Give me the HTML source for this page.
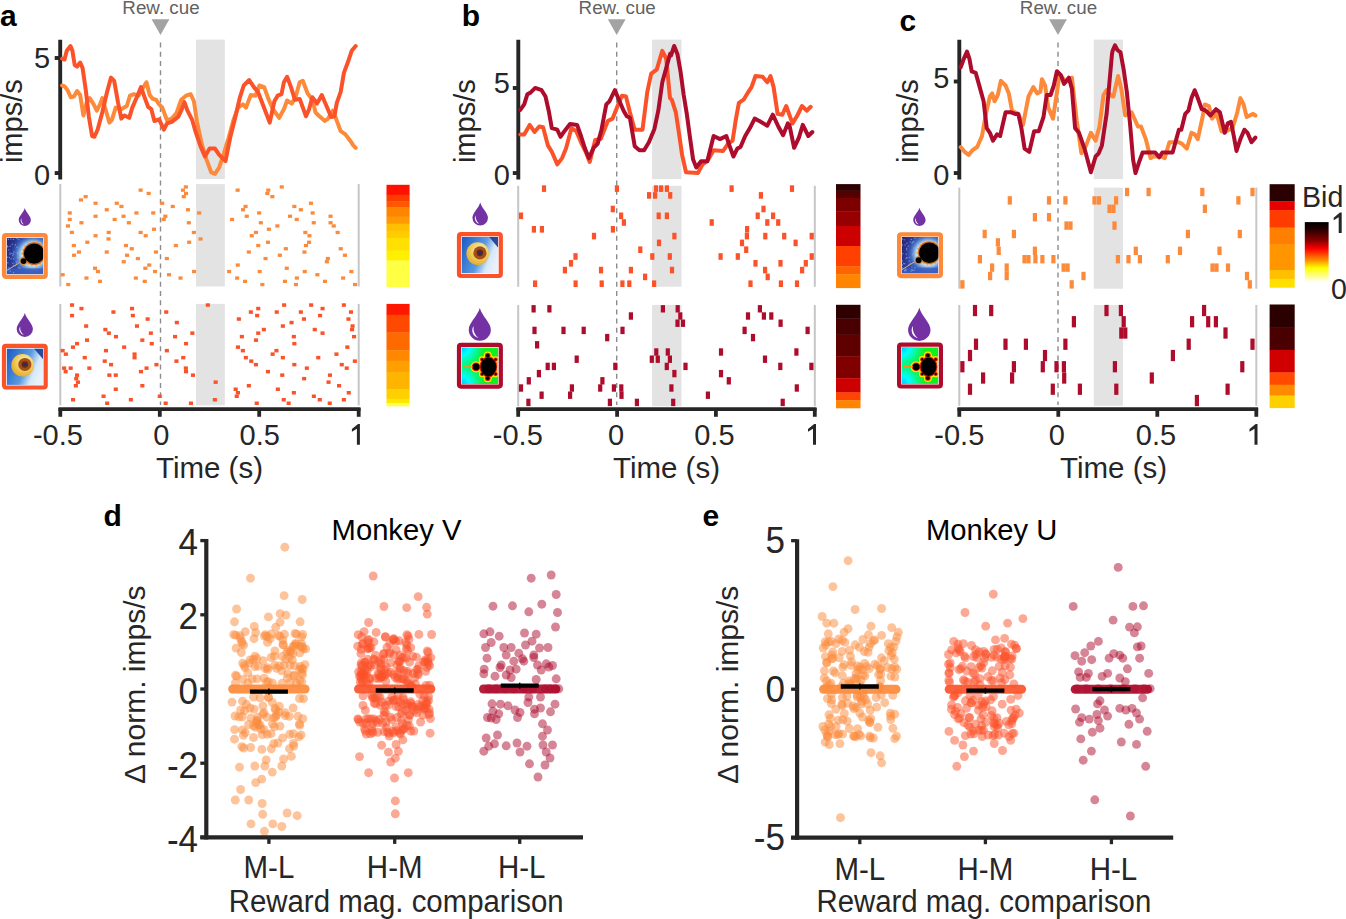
<!DOCTYPE html>
<html><head><meta charset="utf-8"><style>html,body{margin:0;padding:0;background:#fff;width:1346px;height:919px;overflow:hidden}svg{display:block}</style></head>
<body>
<svg width="1346" height="919" viewBox="0 0 1346 919" font-family='"Liberation Sans", sans-serif'>
<rect width="1346" height="919" fill="#fff"/>
<rect x="196.0" y="39.6" width="28.85" height="139.50" fill="#e3e3e3"/>
<rect x="196.0" y="184.1" width="28.85" height="102.40" fill="#e3e3e3"/>
<rect x="196.0" y="303.9" width="28.85" height="101.50" fill="#e3e3e3"/>
<line x1="160.5" y1="42.6" x2="160.5" y2="405" stroke="#8c8c8c" stroke-width="1.4" stroke-dasharray="5,4.2"/>
<line x1="60.3" y1="184.1" x2="60.3" y2="286.5" stroke="#c6c6c6" stroke-width="2"/>
<line x1="358.7" y1="184.1" x2="358.7" y2="286.5" stroke="#c6c6c6" stroke-width="2"/>
<line x1="60.3" y1="303.9" x2="60.3" y2="405.4" stroke="#c6c6c6" stroke-width="2"/>
<line x1="358.7" y1="303.9" x2="358.7" y2="405.4" stroke="#c6c6c6" stroke-width="2"/>
<line x1="60.2" y1="39.8" x2="60.2" y2="179.5" stroke="#262626" stroke-width="3.9"/>
<line x1="54.7" y1="173.05" x2="60.2" y2="173.05" stroke="#262626" stroke-width="3.9"/>
<line x1="54.7" y1="58.0" x2="60.2" y2="58.0" stroke="#262626" stroke-width="3.9"/>
<text x="50.2" y="184.6" font-size="29" text-anchor="end" font-weight="normal" fill="#262626" >0</text>
<text x="50.2" y="68.3" font-size="29" text-anchor="end" font-weight="normal" fill="#262626" >5</text>
<text x="0" y="0" font-size="29" text-anchor="middle" fill="#262626" transform="translate(22.2,121.2) rotate(-90)">imps/s</text>
<line x1="58.5" y1="409.1" x2="360.5" y2="409.1" stroke="#262626" stroke-width="3.8"/>
<line x1="60.3" y1="408" x2="60.3" y2="416.8" stroke="#262626" stroke-width="3.8"/>
<text x="57.9" y="444.8" font-size="29" text-anchor="middle" font-weight="normal" fill="#262626" >-0.5</text>
<line x1="159.8" y1="408" x2="159.8" y2="416.8" stroke="#262626" stroke-width="3.8"/>
<text x="161.2" y="444.8" font-size="29" text-anchor="middle" font-weight="normal" fill="#262626" >0</text>
<line x1="259.2" y1="408" x2="259.2" y2="416.8" stroke="#262626" stroke-width="3.8"/>
<text x="259.7" y="444.8" font-size="29" text-anchor="middle" font-weight="normal" fill="#262626" >0.5</text>
<line x1="358.7" y1="408" x2="358.7" y2="416.8" stroke="#262626" stroke-width="3.8"/>
<path d="M359.9,423.9 L359.9,444.8 L356.9,444.8 L356.9,428.7 L351.9,431.7 L351.9,429.1 L358.1,423.9 Z" fill="#262626"/>
<text x="209.5" y="477.8" font-size="29.5" text-anchor="middle" font-weight="normal" fill="#262626" >Time (s)</text>
<text x="161.0" y="14.3" font-size="18.8" text-anchor="middle" font-weight="normal" fill="#626262" >Rew. cue</text>
<path d="M151.6,19.3 L169.4,19.3 L160.5,35.0 Z" fill="#a3a3a3"/>
<rect x="652.1" y="39.6" width="29.40" height="139.50" fill="#e3e3e3"/>
<rect x="652.1" y="185.8" width="29.40" height="100.95" fill="#e3e3e3"/>
<rect x="652.1" y="305.0" width="29.40" height="101.30" fill="#e3e3e3"/>
<line x1="616.7" y1="42.6" x2="616.7" y2="405" stroke="#8c8c8c" stroke-width="1.4" stroke-dasharray="5,4.2"/>
<line x1="518.2" y1="185.8" x2="518.2" y2="286.75" stroke="#c6c6c6" stroke-width="2"/>
<line x1="814.8" y1="185.8" x2="814.8" y2="286.75" stroke="#c6c6c6" stroke-width="2"/>
<line x1="518.2" y1="305.0" x2="518.2" y2="406.3" stroke="#c6c6c6" stroke-width="2"/>
<line x1="814.8" y1="305.0" x2="814.8" y2="406.3" stroke="#c6c6c6" stroke-width="2"/>
<line x1="518.3" y1="39.8" x2="518.3" y2="179.5" stroke="#262626" stroke-width="3.9"/>
<line x1="512.8" y1="173.05" x2="518.3" y2="173.05" stroke="#262626" stroke-width="3.9"/>
<line x1="512.8" y1="88.0" x2="518.3" y2="88.0" stroke="#262626" stroke-width="3.9"/>
<text x="509.8" y="184.6" font-size="29" text-anchor="end" font-weight="normal" fill="#262626" >0</text>
<text x="509.8" y="92.5" font-size="29" text-anchor="end" font-weight="normal" fill="#262626" >5</text>
<text x="0" y="0" font-size="29" text-anchor="middle" fill="#262626" transform="translate(475.1,121.2) rotate(-90)">imps/s</text>
<line x1="516.4" y1="409.1" x2="816.5" y2="409.1" stroke="#262626" stroke-width="3.8"/>
<line x1="518.2" y1="408" x2="518.2" y2="416.8" stroke="#262626" stroke-width="3.8"/>
<text x="517.8" y="444.8" font-size="29" text-anchor="middle" font-weight="normal" fill="#262626" >-0.5</text>
<line x1="617.1" y1="408" x2="617.1" y2="416.8" stroke="#262626" stroke-width="3.8"/>
<text x="616.1" y="444.8" font-size="29" text-anchor="middle" font-weight="normal" fill="#262626" >0</text>
<line x1="715.9" y1="408" x2="715.9" y2="416.8" stroke="#262626" stroke-width="3.8"/>
<text x="714.4" y="444.8" font-size="29" text-anchor="middle" font-weight="normal" fill="#262626" >0.5</text>
<line x1="814.8" y1="408" x2="814.8" y2="416.8" stroke="#262626" stroke-width="3.8"/>
<path d="M816.0,423.9 L816.0,444.8 L813.0,444.8 L813.0,428.7 L808.0,431.7 L808.0,429.1 L814.2,423.9 Z" fill="#262626"/>
<text x="666.5" y="477.8" font-size="29.5" text-anchor="middle" font-weight="normal" fill="#262626" >Time (s)</text>
<text x="617.2" y="14.3" font-size="18.8" text-anchor="middle" font-weight="normal" fill="#626262" >Rew. cue</text>
<path d="M607.8,19.3 L625.6,19.3 L616.7,35.0 Z" fill="#a3a3a3"/>
<rect x="1093.8" y="39.6" width="29.10" height="139.50" fill="#e3e3e3"/>
<rect x="1093.8" y="187.6" width="29.10" height="101.10" fill="#e3e3e3"/>
<rect x="1093.8" y="305.0" width="29.10" height="100.80" fill="#e3e3e3"/>
<line x1="1058.0" y1="42.6" x2="1058.0" y2="405" stroke="#8c8c8c" stroke-width="1.4" stroke-dasharray="5,4.2"/>
<line x1="959.3" y1="187.6" x2="959.3" y2="288.7" stroke="#c6c6c6" stroke-width="2"/>
<line x1="1256.3" y1="187.6" x2="1256.3" y2="288.7" stroke="#c6c6c6" stroke-width="2"/>
<line x1="959.3" y1="305.0" x2="959.3" y2="405.8" stroke="#c6c6c6" stroke-width="2"/>
<line x1="1256.3" y1="305.0" x2="1256.3" y2="405.8" stroke="#c6c6c6" stroke-width="2"/>
<line x1="959.3" y1="39.8" x2="959.3" y2="179.5" stroke="#262626" stroke-width="3.9"/>
<line x1="953.8" y1="173.05" x2="959.3" y2="173.05" stroke="#262626" stroke-width="3.9"/>
<line x1="953.8" y1="81.5" x2="959.3" y2="81.5" stroke="#262626" stroke-width="3.9"/>
<text x="949.3" y="184.6" font-size="29" text-anchor="end" font-weight="normal" fill="#262626" >0</text>
<text x="949.3" y="88.3" font-size="29" text-anchor="end" font-weight="normal" fill="#262626" >5</text>
<text x="0" y="0" font-size="29" text-anchor="middle" fill="#262626" transform="translate(918.1,121.2) rotate(-90)">imps/s</text>
<line x1="957.5" y1="409.1" x2="1258.1" y2="409.1" stroke="#262626" stroke-width="3.8"/>
<line x1="959.3" y1="408" x2="959.3" y2="416.8" stroke="#262626" stroke-width="3.8"/>
<text x="959.3" y="444.8" font-size="29" text-anchor="middle" font-weight="normal" fill="#262626" >-0.5</text>
<line x1="1058.3" y1="408" x2="1058.3" y2="416.8" stroke="#262626" stroke-width="3.8"/>
<text x="1056.8" y="444.8" font-size="29" text-anchor="middle" font-weight="normal" fill="#262626" >0</text>
<line x1="1157.3" y1="408" x2="1157.3" y2="416.8" stroke="#262626" stroke-width="3.8"/>
<text x="1156.0" y="444.8" font-size="29" text-anchor="middle" font-weight="normal" fill="#262626" >0.5</text>
<line x1="1256.3" y1="408" x2="1256.3" y2="416.8" stroke="#262626" stroke-width="3.8"/>
<path d="M1257.5,423.9 L1257.5,444.8 L1254.5,444.8 L1254.5,428.7 L1249.5,431.7 L1249.5,429.1 L1255.7,423.9 Z" fill="#262626"/>
<text x="1113.6" y="477.8" font-size="29.5" text-anchor="middle" font-weight="normal" fill="#262626" >Time (s)</text>
<text x="1058.5" y="14.3" font-size="18.8" text-anchor="middle" font-weight="normal" fill="#626262" >Rew. cue</text>
<path d="M1049.1,19.3 L1066.9,19.3 L1058.0,35.0 Z" fill="#a3a3a3"/>
<text x="-0.1" y="26.3" font-size="30" text-anchor="start" font-weight="bold" fill="#000" >a</text>
<text x="461.7" y="26.3" font-size="30" text-anchor="start" font-weight="bold" fill="#000" >b</text>
<text x="899.5" y="31.1" font-size="30" text-anchor="start" font-weight="bold" fill="#000" >c</text>
<polyline points="62.1,85.5 64.5,86.3 67.6,90.2 70.8,97.3 73.9,96.5 77.1,91.0 80.2,95.0 83.4,115.5 86.6,102.8 89.7,98.1 93.7,104.4 96.8,110.7 100.0,104.4 102.3,98.1 105.5,109.2 109.4,122.6 111.8,120.2 115.7,107.6 121.3,109.2 126.8,106.0 130.0,95.7 133.9,94.2 138.6,95.7 143.4,87.1 146.5,82.3 149.7,95.0 152.8,98.9 156.0,99.7 159.1,104.4 162.3,107.6 167.0,120.2 171.8,118.6 176.5,113.1 181.2,99.7 186.0,95.7 190.7,94.2 193.9,101.3 197.0,121.8 201.7,143.9 206.5,159.6 211.2,172.3 215.0,173.8 219.2,167.5 223.9,153.3 228.7,137.6 233.4,120.2 238.1,107.6 242.9,104.4 246.0,107.6 250.8,95.0 255.5,95.7 259.4,85.5 264.2,87.1 268.1,98.1 272.9,109.2 279.2,117.8 283.9,109.2 287.1,100.5 291.8,103.6 295.7,96.5 299.7,82.3 302.8,80.8 307.6,93.4 312.3,99.7 315.5,112.3 318.6,115.5 324.9,121.0 328.1,118.6 332.8,110.7 336.0,118.6 340.7,131.2 345.4,134.4 350.2,140.7 353.3,145.4 355.7,147.8" fill="none" stroke="#fc8a3a" stroke-width="4.0" stroke-linejoin="round" stroke-linecap="round"/>
<polyline points="62.1,58.7 64.5,59.5 66.8,50.8 70.5,46.0 72.4,50.8 74.7,65.0 77.1,66.6 80.2,62.6 82.6,68.1 85.8,90.2 88.9,117.0 92.1,136.0 94.4,136.8 97.6,129.7 102.3,112.3 107.1,91.8 111.0,77.6 114.2,80.8 118.1,102.8 121.3,118.6 124.4,115.5 129.2,117.8 132.3,107.6 137.1,96.5 141.0,87.1 144.9,98.1 148.1,106.8 151.3,109.2 154.4,121.0 159.1,119.4 163.9,129.7 167.0,123.4 171.8,121.8 178.1,117.0 181.2,110.7 184.4,102.1 187.5,110.7 192.3,120.2 195.4,131.2 200.2,145.4 204.9,156.5 209.6,148.6 215.0,148.6 219.2,154.9 225.5,161.2 230.2,137.6 235.0,118.6 239.7,98.1 243.7,85.5 249.2,80.0 253.9,87.1 257.9,91.8 263.4,106.0 269.7,122.6 274.4,101.3 277.6,95.7 281.5,94.2 283.9,82.3 287.1,76.8 291.0,87.1 294.9,99.7 299.7,98.9 306.0,116.3 309.1,109.2 312.3,97.3 315.5,101.3 317.0,103.6 321.8,95.0 326.5,106.0 331.2,117.0 334.4,116.3 336.8,102.8 340.7,91.8 343.9,72.9 348.6,60.2 351.7,50.8 355.7,46.0" fill="none" stroke="#fb5229" stroke-width="4.0" stroke-linejoin="round" stroke-linecap="round"/>
<polyline points="520.3,134.4 524.2,134.4 529.7,124.9 534.5,132.0 539.2,126.5 543.1,127.3 547.9,145.4 551.8,151.8 557.3,164.4 562.1,158.1 566.0,148.6 571.5,128.1 576.3,131.2 581.0,142.3 585.7,151.8 589.7,162.0 595.2,139.9 600.7,139.1 607.8,121.0 612.6,118.6 618.9,102.8 622.0,95.7 626.0,96.5 629.9,112.3 634.7,129.7 642.5,129.7 647.3,91.8 651.2,73.7 656.7,69.7 662.3,50.8 666.2,58.7 670.0,98.1 671.8,99.7 675.8,112.3 678.9,132.8 682.1,154.9 686.0,172.3 697.9,173.1 702.6,164.4 707.3,161.2 713.6,150.2 723.1,151.0 727.9,143.9 732.6,140.7 735.7,120.2 738.9,102.8 743.6,99.7 748.4,91.8 751.5,87.1 755.5,76.0 762.6,76.8 767.3,82.3 770.5,76.0 773.6,87.1 777.6,113.9 782.3,114.7 786.2,106.0 792.5,123.4 797.3,115.5 802.0,106.0 806.7,110.7 810.7,106.8" fill="none" stroke="#fb5229" stroke-width="4.0" stroke-linejoin="round" stroke-linecap="round"/>
<polyline points="520.3,109.9 524.2,104.4 527.4,94.2 530.5,92.6 535.2,87.9 541.6,90.2 545.5,96.5 548.7,110.7 551.8,128.1 557.3,129.7 560.5,136.8 564.4,131.2 570.0,124.1 577.1,124.9 581.0,136.0 585.0,148.6 588.9,158.1 593.6,147.8 597.6,143.9 601.5,129.7 606.3,104.4 609.4,101.3 614.9,90.2 618.9,99.7 623.6,110.7 626.8,116.3 629.9,117.8 634.7,146.2 639.4,150.2 644.1,150.2 648.9,142.3 654.4,128.9 658.3,110.7 662.3,82.3 666.2,68.1 670.0,53.9 671.0,55.5 674.2,46.0 677.4,53.9 680.5,71.3 683.7,95.0 686.8,113.9 690.0,137.6 693.1,159.6 696.3,167.5 701.0,161.2 707.3,161.2 713.6,136.0 720.0,139.1 726.3,136.0 729.4,145.4 733.4,156.5 737.3,148.6 740.5,147.0 745.2,136.0 749.9,128.1 754.7,118.6 759.4,121.0 767.3,125.7 772.8,114.7 778.3,126.5 783.1,135.2 787.8,123.4 789.4,124.9 794.1,147.8 798.9,137.6 802.8,124.9 808.3,136.0 812.3,132.0" fill="none" stroke="#ad0c2d" stroke-width="4.0" stroke-linejoin="round" stroke-linecap="round"/>
<polyline points="960.7,147.0 964.6,151.8 968.6,154.9 972.5,150.2 977.2,147.0 982.0,136.0 985.9,113.9 989.9,96.5 992.2,93.4 994.6,101.3 997.8,95.0 1000.9,80.8 1005.6,85.5 1008.8,93.4 1012.0,110.7 1018.3,113.9 1023.0,124.9 1028.5,96.5 1033.3,87.1 1037.2,93.4 1040.4,91.8 1041.9,79.2 1045.1,85.5 1048.3,107.6 1053.0,118.6 1056.1,98.1 1059.3,76.0 1062.5,77.6 1065.6,82.3 1071.9,77.6 1076.7,120.2 1081.4,153.3 1086.1,145.4 1090.9,132.8 1095.6,140.7 1099.5,126.5 1103.5,95.0 1106.6,90.2 1112.0,96.5 1113.4,96.5 1118.1,76.0 1121.3,88.6 1125.2,115.5 1131.6,112.3 1137.9,126.5 1141.0,126.5 1145.8,139.1 1150.5,158.1 1153.6,156.5 1161.5,156.5 1164.7,158.1 1169.4,142.3 1178.9,142.3 1182.1,143.9 1186.8,148.6 1191.5,132.8 1194.7,134.4 1197.8,139.1 1202.6,117.0 1204.9,104.4 1208.9,106.0 1212.0,118.6 1216.8,113.9 1221.5,131.2 1224.7,132.0 1232.5,128.1 1237.3,112.3 1240.4,98.1 1243.6,104.4 1246.7,117.0 1253.1,113.9 1255.4,115.5" fill="none" stroke="#fc8a3a" stroke-width="4.0" stroke-linejoin="round" stroke-linecap="round"/>
<polyline points="960.7,67.3 963.8,58.7 967.0,51.6 969.4,58.7 971.7,71.3 975.7,72.9 978.8,83.9 983.6,101.3 986.7,128.1 989.9,132.8 993.0,140.7 997.0,134.4 1000.1,136.0 1005.6,112.3 1011.2,112.3 1015.1,113.9 1018.3,113.9 1021.4,128.1 1024.6,148.6 1029.3,151.8 1034.1,131.2 1038.8,131.2 1043.5,117.0 1046.7,95.0 1050.6,95.0 1053.8,85.5 1056.9,71.3 1060.9,75.2 1064.0,83.9 1068.8,77.6 1071.9,88.6 1075.1,128.1 1079.0,132.8 1084.5,148.6 1090.9,172.3 1095.6,156.5 1098.7,153.3 1101.9,145.4 1106.6,113.9 1112.0,53.9 1112.6,50.8 1115.0,45.3 1117.4,50.0 1120.5,52.4 1123.7,69.7 1126.8,91.8 1130.0,123.4 1133.1,159.6 1135.5,173.1 1139.4,161.2 1142.6,152.5 1155.2,152.5 1159.2,157.3 1162.3,152.5 1172.6,152.5 1178.9,129.7 1181.3,129.7 1185.2,113.9 1188.4,110.7 1191.5,98.1 1194.7,90.2 1197.8,98.1 1201.8,109.2 1205.7,110.7 1210.5,115.5 1216.0,109.2 1219.9,112.3 1224.7,132.8 1227.8,123.4 1231.0,121.8 1234.1,137.6 1236.5,151.0 1240.4,139.1 1244.4,129.7 1247.5,132.8 1251.5,142.3 1255.4,137.6" fill="none" stroke="#ad0c2d" stroke-width="4.0" stroke-linejoin="round" stroke-linecap="round"/>
<rect x="83.6" y="195.0" width="4.1" height="3.3" fill="#fc8a3a"/>
<rect x="78.9" y="198.3" width="4.1" height="3.3" fill="#fc8a3a"/>
<rect x="93.5" y="201.6" width="4.1" height="3.3" fill="#fc8a3a"/>
<rect x="114.7" y="201.6" width="4.1" height="3.3" fill="#fc8a3a"/>
<rect x="119.4" y="204.8" width="4.1" height="3.3" fill="#fc8a3a"/>
<rect x="104.7" y="208.1" width="4.1" height="3.3" fill="#fc8a3a"/>
<rect x="67.7" y="211.3" width="4.1" height="3.3" fill="#fc8a3a"/>
<rect x="134.4" y="211.3" width="4.1" height="3.3" fill="#fc8a3a"/>
<rect x="93.5" y="214.6" width="4.1" height="3.3" fill="#fc8a3a"/>
<rect x="121.5" y="214.6" width="4.1" height="3.3" fill="#fc8a3a"/>
<rect x="67.7" y="217.8" width="4.1" height="3.3" fill="#fc8a3a"/>
<rect x="112.6" y="217.8" width="4.1" height="3.3" fill="#fc8a3a"/>
<rect x="79.4" y="221.1" width="4.1" height="3.3" fill="#fc8a3a"/>
<rect x="126.8" y="221.1" width="4.1" height="3.3" fill="#fc8a3a"/>
<rect x="65.9" y="224.3" width="4.1" height="3.3" fill="#fc8a3a"/>
<rect x="69.8" y="230.8" width="4.1" height="3.3" fill="#fc8a3a"/>
<rect x="106.7" y="230.8" width="4.1" height="3.3" fill="#fc8a3a"/>
<rect x="93.5" y="234.1" width="4.1" height="3.3" fill="#fc8a3a"/>
<rect x="106.5" y="237.3" width="4.1" height="3.3" fill="#fc8a3a"/>
<rect x="85.3" y="240.6" width="4.1" height="3.3" fill="#fc8a3a"/>
<rect x="71.8" y="243.9" width="4.1" height="3.3" fill="#fc8a3a"/>
<rect x="123.9" y="243.9" width="4.1" height="3.3" fill="#fc8a3a"/>
<rect x="129.7" y="247.1" width="4.1" height="3.3" fill="#fc8a3a"/>
<rect x="76.9" y="250.4" width="4.1" height="3.3" fill="#fc8a3a"/>
<rect x="104.7" y="250.4" width="4.1" height="3.3" fill="#fc8a3a"/>
<rect x="72.0" y="253.6" width="4.1" height="3.3" fill="#fc8a3a"/>
<rect x="125.0" y="253.6" width="4.1" height="3.3" fill="#fc8a3a"/>
<rect x="121.7" y="260.1" width="4.1" height="3.3" fill="#fc8a3a"/>
<rect x="135.8" y="256.9" width="4.1" height="3.3" fill="#fc8a3a"/>
<rect x="93.0" y="266.6" width="4.1" height="3.3" fill="#fc8a3a"/>
<rect x="95.9" y="269.9" width="4.1" height="3.3" fill="#fc8a3a"/>
<rect x="60.6" y="273.1" width="4.1" height="3.3" fill="#fc8a3a"/>
<rect x="84.4" y="276.4" width="4.1" height="3.3" fill="#fc8a3a"/>
<rect x="133.8" y="276.4" width="4.1" height="3.3" fill="#fc8a3a"/>
<rect x="97.9" y="279.7" width="4.1" height="3.3" fill="#fc8a3a"/>
<rect x="66.2" y="282.9" width="4.1" height="3.3" fill="#fc8a3a"/>
<rect x="183.8" y="185.3" width="4.1" height="3.3" fill="#fc8a3a"/>
<rect x="138.6" y="188.5" width="4.1" height="3.3" fill="#fc8a3a"/>
<rect x="180.9" y="188.5" width="4.1" height="3.3" fill="#fc8a3a"/>
<rect x="146.6" y="191.8" width="4.1" height="3.3" fill="#fc8a3a"/>
<rect x="184.0" y="191.8" width="4.1" height="3.3" fill="#fc8a3a"/>
<rect x="181.7" y="195.0" width="4.1" height="3.3" fill="#fc8a3a"/>
<rect x="160.1" y="201.6" width="4.1" height="3.3" fill="#fc8a3a"/>
<rect x="170.7" y="204.8" width="4.1" height="3.3" fill="#fc8a3a"/>
<rect x="185.9" y="208.1" width="4.1" height="3.3" fill="#fc8a3a"/>
<rect x="151.2" y="211.3" width="4.1" height="3.3" fill="#fc8a3a"/>
<rect x="197.1" y="211.3" width="4.1" height="3.3" fill="#fc8a3a"/>
<rect x="163.3" y="214.6" width="4.1" height="3.3" fill="#fc8a3a"/>
<rect x="161.7" y="217.8" width="4.1" height="3.3" fill="#fc8a3a"/>
<rect x="186.8" y="221.1" width="4.1" height="3.3" fill="#fc8a3a"/>
<rect x="151.9" y="227.6" width="4.1" height="3.3" fill="#fc8a3a"/>
<rect x="138.6" y="230.8" width="4.1" height="3.3" fill="#fc8a3a"/>
<rect x="191.8" y="230.8" width="4.1" height="3.3" fill="#fc8a3a"/>
<rect x="143.6" y="234.1" width="4.1" height="3.3" fill="#fc8a3a"/>
<rect x="198.5" y="237.3" width="4.1" height="3.3" fill="#fc8a3a"/>
<rect x="187.1" y="240.6" width="4.1" height="3.3" fill="#fc8a3a"/>
<rect x="173.8" y="243.9" width="4.1" height="3.3" fill="#fc8a3a"/>
<rect x="153.9" y="250.4" width="4.1" height="3.3" fill="#fc8a3a"/>
<rect x="164.8" y="256.9" width="4.1" height="3.3" fill="#fc8a3a"/>
<rect x="147.2" y="263.4" width="4.1" height="3.3" fill="#fc8a3a"/>
<rect x="143.3" y="266.6" width="4.1" height="3.3" fill="#fc8a3a"/>
<rect x="153.0" y="269.9" width="4.1" height="3.3" fill="#fc8a3a"/>
<rect x="192.0" y="269.9" width="4.1" height="3.3" fill="#fc8a3a"/>
<rect x="167.0" y="273.1" width="4.1" height="3.3" fill="#fc8a3a"/>
<rect x="178.5" y="276.4" width="4.1" height="3.3" fill="#fc8a3a"/>
<rect x="142.7" y="279.7" width="4.1" height="3.3" fill="#fc8a3a"/>
<rect x="279.7" y="185.3" width="4.1" height="3.3" fill="#fc8a3a"/>
<rect x="235.6" y="188.5" width="4.1" height="3.3" fill="#fc8a3a"/>
<rect x="266.2" y="188.5" width="4.1" height="3.3" fill="#fc8a3a"/>
<rect x="265.3" y="191.8" width="4.1" height="3.3" fill="#fc8a3a"/>
<rect x="270.3" y="195.0" width="4.1" height="3.3" fill="#fc8a3a"/>
<rect x="243.5" y="204.8" width="4.1" height="3.3" fill="#fc8a3a"/>
<rect x="241.0" y="208.1" width="4.1" height="3.3" fill="#fc8a3a"/>
<rect x="257.1" y="211.3" width="4.1" height="3.3" fill="#fc8a3a"/>
<rect x="244.7" y="214.6" width="4.1" height="3.3" fill="#fc8a3a"/>
<rect x="230.0" y="217.8" width="4.1" height="3.3" fill="#fc8a3a"/>
<rect x="258.8" y="221.1" width="4.1" height="3.3" fill="#fc8a3a"/>
<rect x="275.3" y="224.3" width="4.1" height="3.3" fill="#fc8a3a"/>
<rect x="266.8" y="227.6" width="4.1" height="3.3" fill="#fc8a3a"/>
<rect x="253.9" y="230.8" width="4.1" height="3.3" fill="#fc8a3a"/>
<rect x="249.7" y="234.1" width="4.1" height="3.3" fill="#fc8a3a"/>
<rect x="265.9" y="240.6" width="4.1" height="3.3" fill="#fc8a3a"/>
<rect x="256.2" y="243.9" width="4.1" height="3.3" fill="#fc8a3a"/>
<rect x="283.8" y="247.1" width="4.1" height="3.3" fill="#fc8a3a"/>
<rect x="246.8" y="250.4" width="4.1" height="3.3" fill="#fc8a3a"/>
<rect x="277.8" y="253.6" width="4.1" height="3.3" fill="#fc8a3a"/>
<rect x="263.5" y="256.9" width="4.1" height="3.3" fill="#fc8a3a"/>
<rect x="235.7" y="263.4" width="4.1" height="3.3" fill="#fc8a3a"/>
<rect x="284.7" y="266.6" width="4.1" height="3.3" fill="#fc8a3a"/>
<rect x="227.1" y="269.9" width="4.1" height="3.3" fill="#fc8a3a"/>
<rect x="257.6" y="269.9" width="4.1" height="3.3" fill="#fc8a3a"/>
<rect x="235.1" y="276.4" width="4.1" height="3.3" fill="#fc8a3a"/>
<rect x="243.0" y="279.7" width="4.1" height="3.3" fill="#fc8a3a"/>
<rect x="282.9" y="279.7" width="4.1" height="3.3" fill="#fc8a3a"/>
<rect x="260.3" y="282.9" width="4.1" height="3.3" fill="#fc8a3a"/>
<rect x="308.9" y="201.6" width="4.1" height="3.3" fill="#fc8a3a"/>
<rect x="292.3" y="204.8" width="4.1" height="3.3" fill="#fc8a3a"/>
<rect x="298.8" y="208.1" width="4.1" height="3.3" fill="#fc8a3a"/>
<rect x="310.6" y="211.3" width="4.1" height="3.3" fill="#fc8a3a"/>
<rect x="288.0" y="214.6" width="4.1" height="3.3" fill="#fc8a3a"/>
<rect x="328.5" y="214.6" width="4.1" height="3.3" fill="#fc8a3a"/>
<rect x="294.7" y="217.8" width="4.1" height="3.3" fill="#fc8a3a"/>
<rect x="311.7" y="221.1" width="4.1" height="3.3" fill="#fc8a3a"/>
<rect x="328.5" y="221.1" width="4.1" height="3.3" fill="#fc8a3a"/>
<rect x="331.7" y="224.3" width="4.1" height="3.3" fill="#fc8a3a"/>
<rect x="303.3" y="230.8" width="4.1" height="3.3" fill="#fc8a3a"/>
<rect x="335.6" y="230.8" width="4.1" height="3.3" fill="#fc8a3a"/>
<rect x="307.4" y="234.1" width="4.1" height="3.3" fill="#fc8a3a"/>
<rect x="307.0" y="240.6" width="4.1" height="3.3" fill="#fc8a3a"/>
<rect x="303.9" y="243.9" width="4.1" height="3.3" fill="#fc8a3a"/>
<rect x="338.7" y="247.1" width="4.1" height="3.3" fill="#fc8a3a"/>
<rect x="302.4" y="250.4" width="4.1" height="3.3" fill="#fc8a3a"/>
<rect x="342.9" y="253.6" width="4.1" height="3.3" fill="#fc8a3a"/>
<rect x="325.8" y="256.9" width="4.1" height="3.3" fill="#fc8a3a"/>
<rect x="324.8" y="260.1" width="4.1" height="3.3" fill="#fc8a3a"/>
<rect x="302.7" y="269.9" width="4.1" height="3.3" fill="#fc8a3a"/>
<rect x="349.3" y="269.9" width="4.1" height="3.3" fill="#fc8a3a"/>
<rect x="315.3" y="273.1" width="4.1" height="3.3" fill="#fc8a3a"/>
<rect x="294.8" y="276.4" width="4.1" height="3.3" fill="#fc8a3a"/>
<rect x="341.1" y="276.4" width="4.1" height="3.3" fill="#fc8a3a"/>
<rect x="322.9" y="279.7" width="4.1" height="3.3" fill="#fc8a3a"/>
<rect x="293.9" y="282.9" width="4.1" height="3.3" fill="#fc8a3a"/>
<rect x="353.0" y="282.9" width="4.1" height="3.3" fill="#fc8a3a"/>
<rect x="70.0" y="303.3" width="4.1" height="3.5" fill="#fb5229"/>
<rect x="79.4" y="306.8" width="4.1" height="3.5" fill="#fb5229"/>
<rect x="130.0" y="306.8" width="4.1" height="3.5" fill="#fb5229"/>
<rect x="111.4" y="310.3" width="4.1" height="3.5" fill="#fb5229"/>
<rect x="70.0" y="313.8" width="4.1" height="3.5" fill="#fb5229"/>
<rect x="130.8" y="313.8" width="4.1" height="3.5" fill="#fb5229"/>
<rect x="84.1" y="324.3" width="4.1" height="3.5" fill="#fb5229"/>
<rect x="134.9" y="324.3" width="4.1" height="3.5" fill="#fb5229"/>
<rect x="103.3" y="327.8" width="4.1" height="3.5" fill="#fb5229"/>
<rect x="106.8" y="331.4" width="4.1" height="3.5" fill="#fb5229"/>
<rect x="113.9" y="334.9" width="4.1" height="3.5" fill="#fb5229"/>
<rect x="85.0" y="338.4" width="4.1" height="3.5" fill="#fb5229"/>
<rect x="75.0" y="341.9" width="4.1" height="3.5" fill="#fb5229"/>
<rect x="70.9" y="345.4" width="4.1" height="3.5" fill="#fb5229"/>
<rect x="122.1" y="345.4" width="4.1" height="3.5" fill="#fb5229"/>
<rect x="60.6" y="348.9" width="4.1" height="3.5" fill="#fb5229"/>
<rect x="103.9" y="348.9" width="4.1" height="3.5" fill="#fb5229"/>
<rect x="63.8" y="352.4" width="4.1" height="3.5" fill="#fb5229"/>
<rect x="132.5" y="352.4" width="4.1" height="3.5" fill="#fb5229"/>
<rect x="132.5" y="355.9" width="4.1" height="3.5" fill="#fb5229"/>
<rect x="82.7" y="355.9" width="4.1" height="3.5" fill="#fb5229"/>
<rect x="102.7" y="359.4" width="4.1" height="3.5" fill="#fb5229"/>
<rect x="109.0" y="362.9" width="4.1" height="3.5" fill="#fb5229"/>
<rect x="62.1" y="366.4" width="4.1" height="3.5" fill="#fb5229"/>
<rect x="68.6" y="366.4" width="4.1" height="3.5" fill="#fb5229"/>
<rect x="87.3" y="366.4" width="4.1" height="3.5" fill="#fb5229"/>
<rect x="63.6" y="369.9" width="4.1" height="3.5" fill="#fb5229"/>
<rect x="75.0" y="373.4" width="4.1" height="3.5" fill="#fb5229"/>
<rect x="107.3" y="373.4" width="4.1" height="3.5" fill="#fb5229"/>
<rect x="113.7" y="373.4" width="4.1" height="3.5" fill="#fb5229"/>
<rect x="74.2" y="376.9" width="4.1" height="3.5" fill="#fb5229"/>
<rect x="75.9" y="380.4" width="4.1" height="3.5" fill="#fb5229"/>
<rect x="73.8" y="384.0" width="4.1" height="3.5" fill="#fb5229"/>
<rect x="113.7" y="387.5" width="4.1" height="3.5" fill="#fb5229"/>
<rect x="101.5" y="394.5" width="4.1" height="3.5" fill="#fb5229"/>
<rect x="71.0" y="398.0" width="4.1" height="3.5" fill="#fb5229"/>
<rect x="128.8" y="398.0" width="4.1" height="3.5" fill="#fb5229"/>
<rect x="105.1" y="401.5" width="4.1" height="3.5" fill="#fb5229"/>
<rect x="205.8" y="303.3" width="4.1" height="3.5" fill="#fb5229"/>
<rect x="164.2" y="310.3" width="4.1" height="3.5" fill="#fb5229"/>
<rect x="145.6" y="317.3" width="4.1" height="3.5" fill="#fb5229"/>
<rect x="174.8" y="320.8" width="4.1" height="3.5" fill="#fb5229"/>
<rect x="148.8" y="331.4" width="4.1" height="3.5" fill="#fb5229"/>
<rect x="190.3" y="331.4" width="4.1" height="3.5" fill="#fb5229"/>
<rect x="173.0" y="334.9" width="4.1" height="3.5" fill="#fb5229"/>
<rect x="140.3" y="338.4" width="4.1" height="3.5" fill="#fb5229"/>
<rect x="149.7" y="341.9" width="4.1" height="3.5" fill="#fb5229"/>
<rect x="184.0" y="341.9" width="4.1" height="3.5" fill="#fb5229"/>
<rect x="164.8" y="348.9" width="4.1" height="3.5" fill="#fb5229"/>
<rect x="181.2" y="355.9" width="4.1" height="3.5" fill="#fb5229"/>
<rect x="174.4" y="359.4" width="4.1" height="3.5" fill="#fb5229"/>
<rect x="154.4" y="362.9" width="4.1" height="3.5" fill="#fb5229"/>
<rect x="144.5" y="366.4" width="4.1" height="3.5" fill="#fb5229"/>
<rect x="183.8" y="366.4" width="4.1" height="3.5" fill="#fb5229"/>
<rect x="138.9" y="369.9" width="4.1" height="3.5" fill="#fb5229"/>
<rect x="184.0" y="369.9" width="4.1" height="3.5" fill="#fb5229"/>
<rect x="190.9" y="373.4" width="4.1" height="3.5" fill="#fb5229"/>
<rect x="140.3" y="384.0" width="4.1" height="3.5" fill="#fb5229"/>
<rect x="157.7" y="394.5" width="4.1" height="3.5" fill="#fb5229"/>
<rect x="163.6" y="401.5" width="4.1" height="3.5" fill="#fb5229"/>
<rect x="188.9" y="401.5" width="4.1" height="3.5" fill="#fb5229"/>
<rect x="282.1" y="303.3" width="4.1" height="3.5" fill="#fb5229"/>
<rect x="256.2" y="306.8" width="4.1" height="3.5" fill="#fb5229"/>
<rect x="248.8" y="310.3" width="4.1" height="3.5" fill="#fb5229"/>
<rect x="274.7" y="310.3" width="4.1" height="3.5" fill="#fb5229"/>
<rect x="255.1" y="313.8" width="4.1" height="3.5" fill="#fb5229"/>
<rect x="236.8" y="317.3" width="4.1" height="3.5" fill="#fb5229"/>
<rect x="280.8" y="324.3" width="4.1" height="3.5" fill="#fb5229"/>
<rect x="261.8" y="327.8" width="4.1" height="3.5" fill="#fb5229"/>
<rect x="256.2" y="331.4" width="4.1" height="3.5" fill="#fb5229"/>
<rect x="239.8" y="334.9" width="4.1" height="3.5" fill="#fb5229"/>
<rect x="253.9" y="338.4" width="4.1" height="3.5" fill="#fb5229"/>
<rect x="235.9" y="345.4" width="4.1" height="3.5" fill="#fb5229"/>
<rect x="240.8" y="348.9" width="4.1" height="3.5" fill="#fb5229"/>
<rect x="274.4" y="348.9" width="4.1" height="3.5" fill="#fb5229"/>
<rect x="270.6" y="352.4" width="4.1" height="3.5" fill="#fb5229"/>
<rect x="243.8" y="355.9" width="4.1" height="3.5" fill="#fb5229"/>
<rect x="280.8" y="355.9" width="4.1" height="3.5" fill="#fb5229"/>
<rect x="249.2" y="359.4" width="4.1" height="3.5" fill="#fb5229"/>
<rect x="253.9" y="362.9" width="4.1" height="3.5" fill="#fb5229"/>
<rect x="265.9" y="369.9" width="4.1" height="3.5" fill="#fb5229"/>
<rect x="280.2" y="373.4" width="4.1" height="3.5" fill="#fb5229"/>
<rect x="213.6" y="380.4" width="4.1" height="3.5" fill="#fb5229"/>
<rect x="246.8" y="384.0" width="4.1" height="3.5" fill="#fb5229"/>
<rect x="233.6" y="387.5" width="4.1" height="3.5" fill="#fb5229"/>
<rect x="275.8" y="387.5" width="4.1" height="3.5" fill="#fb5229"/>
<rect x="235.9" y="391.0" width="4.1" height="3.5" fill="#fb5229"/>
<rect x="234.7" y="394.5" width="4.1" height="3.5" fill="#fb5229"/>
<rect x="212.8" y="398.0" width="4.1" height="3.5" fill="#fb5229"/>
<rect x="281.7" y="398.0" width="4.1" height="3.5" fill="#fb5229"/>
<rect x="254.7" y="401.5" width="4.1" height="3.5" fill="#fb5229"/>
<rect x="309.1" y="303.3" width="4.1" height="3.5" fill="#fb5229"/>
<rect x="341.8" y="303.3" width="4.1" height="3.5" fill="#fb5229"/>
<rect x="320.5" y="306.8" width="4.1" height="3.5" fill="#fb5229"/>
<rect x="298.8" y="310.3" width="4.1" height="3.5" fill="#fb5229"/>
<rect x="348.9" y="310.3" width="4.1" height="3.5" fill="#fb5229"/>
<rect x="318.0" y="313.8" width="4.1" height="3.5" fill="#fb5229"/>
<rect x="301.9" y="317.3" width="4.1" height="3.5" fill="#fb5229"/>
<rect x="346.4" y="317.3" width="4.1" height="3.5" fill="#fb5229"/>
<rect x="289.5" y="320.8" width="4.1" height="3.5" fill="#fb5229"/>
<rect x="350.5" y="324.3" width="4.1" height="3.5" fill="#fb5229"/>
<rect x="312.7" y="327.8" width="4.1" height="3.5" fill="#fb5229"/>
<rect x="350.0" y="327.8" width="4.1" height="3.5" fill="#fb5229"/>
<rect x="320.5" y="331.4" width="4.1" height="3.5" fill="#fb5229"/>
<rect x="291.8" y="334.9" width="4.1" height="3.5" fill="#fb5229"/>
<rect x="352.0" y="334.9" width="4.1" height="3.5" fill="#fb5229"/>
<rect x="292.3" y="341.9" width="4.1" height="3.5" fill="#fb5229"/>
<rect x="345.3" y="345.4" width="4.1" height="3.5" fill="#fb5229"/>
<rect x="334.4" y="352.4" width="4.1" height="3.5" fill="#fb5229"/>
<rect x="316.2" y="355.9" width="4.1" height="3.5" fill="#fb5229"/>
<rect x="352.8" y="359.4" width="4.1" height="3.5" fill="#fb5229"/>
<rect x="292.3" y="362.9" width="4.1" height="3.5" fill="#fb5229"/>
<rect x="339.7" y="362.9" width="4.1" height="3.5" fill="#fb5229"/>
<rect x="304.8" y="366.4" width="4.1" height="3.5" fill="#fb5229"/>
<rect x="344.7" y="366.4" width="4.1" height="3.5" fill="#fb5229"/>
<rect x="327.9" y="373.4" width="4.1" height="3.5" fill="#fb5229"/>
<rect x="302.1" y="376.9" width="4.1" height="3.5" fill="#fb5229"/>
<rect x="326.5" y="380.4" width="4.1" height="3.5" fill="#fb5229"/>
<rect x="337.0" y="384.0" width="4.1" height="3.5" fill="#fb5229"/>
<rect x="291.8" y="391.0" width="4.1" height="3.5" fill="#fb5229"/>
<rect x="346.7" y="391.0" width="4.1" height="3.5" fill="#fb5229"/>
<rect x="311.8" y="394.5" width="4.1" height="3.5" fill="#fb5229"/>
<rect x="317.7" y="398.0" width="4.1" height="3.5" fill="#fb5229"/>
<rect x="341.8" y="398.0" width="4.1" height="3.5" fill="#fb5229"/>
<rect x="286.6" y="401.5" width="4.1" height="3.5" fill="#fb5229"/>
<rect x="327.7" y="401.5" width="4.1" height="3.5" fill="#fb5229"/>
<rect x="541.9" y="185.3" width="4.2" height="6.6" fill="#fb5229"/>
<rect x="614.8" y="185.3" width="4.2" height="6.6" fill="#fb5229"/>
<rect x="653.9" y="185.3" width="4.2" height="6.6" fill="#fb5229"/>
<rect x="659.0" y="185.3" width="4.2" height="6.6" fill="#fb5229"/>
<rect x="664.8" y="185.3" width="4.2" height="6.6" fill="#fb5229"/>
<rect x="729.5" y="185.3" width="4.2" height="6.6" fill="#fb5229"/>
<rect x="789.9" y="185.3" width="4.2" height="6.6" fill="#fb5229"/>
<rect x="647.0" y="192.1" width="4.2" height="6.6" fill="#fb5229"/>
<rect x="653.0" y="192.1" width="4.2" height="6.6" fill="#fb5229"/>
<rect x="668.1" y="192.1" width="4.2" height="6.6" fill="#fb5229"/>
<rect x="758.8" y="192.1" width="4.2" height="6.6" fill="#fb5229"/>
<rect x="610.7" y="205.7" width="4.2" height="6.6" fill="#fb5229"/>
<rect x="761.4" y="205.7" width="4.2" height="6.6" fill="#fb5229"/>
<rect x="518.9" y="212.5" width="4.2" height="6.6" fill="#fb5229"/>
<rect x="619.0" y="212.5" width="4.2" height="6.6" fill="#fb5229"/>
<rect x="656.6" y="212.5" width="4.2" height="6.6" fill="#fb5229"/>
<rect x="664.8" y="212.5" width="4.2" height="6.6" fill="#fb5229"/>
<rect x="755.6" y="212.5" width="4.2" height="6.6" fill="#fb5229"/>
<rect x="771.0" y="212.5" width="4.2" height="6.6" fill="#fb5229"/>
<rect x="621.8" y="219.2" width="4.2" height="6.6" fill="#fb5229"/>
<rect x="709.6" y="219.2" width="4.2" height="6.6" fill="#fb5229"/>
<rect x="765.2" y="219.2" width="4.2" height="6.6" fill="#fb5229"/>
<rect x="776.1" y="219.2" width="4.2" height="6.6" fill="#fb5229"/>
<rect x="531.8" y="226.0" width="4.2" height="6.6" fill="#fb5229"/>
<rect x="539.8" y="226.0" width="4.2" height="6.6" fill="#fb5229"/>
<rect x="610.8" y="226.0" width="4.2" height="6.6" fill="#fb5229"/>
<rect x="745.0" y="226.0" width="4.2" height="6.6" fill="#fb5229"/>
<rect x="591.9" y="232.8" width="4.2" height="6.6" fill="#fb5229"/>
<rect x="672.3" y="232.8" width="4.2" height="6.6" fill="#fb5229"/>
<rect x="744.8" y="232.8" width="4.2" height="6.6" fill="#fb5229"/>
<rect x="763.2" y="232.8" width="4.2" height="6.6" fill="#fb5229"/>
<rect x="782.1" y="232.8" width="4.2" height="6.6" fill="#fb5229"/>
<rect x="809.6" y="232.8" width="4.2" height="6.6" fill="#fb5229"/>
<rect x="656.9" y="239.6" width="4.2" height="6.6" fill="#fb5229"/>
<rect x="739.9" y="239.6" width="4.2" height="6.6" fill="#fb5229"/>
<rect x="793.5" y="239.6" width="4.2" height="6.6" fill="#fb5229"/>
<rect x="638.2" y="246.4" width="4.2" height="6.6" fill="#fb5229"/>
<rect x="744.1" y="246.4" width="4.2" height="6.6" fill="#fb5229"/>
<rect x="573.4" y="253.2" width="4.2" height="6.6" fill="#fb5229"/>
<rect x="650.2" y="253.2" width="4.2" height="6.6" fill="#fb5229"/>
<rect x="667.7" y="253.2" width="4.2" height="6.6" fill="#fb5229"/>
<rect x="718.5" y="253.2" width="4.2" height="6.6" fill="#fb5229"/>
<rect x="735.7" y="253.2" width="4.2" height="6.6" fill="#fb5229"/>
<rect x="809.6" y="253.2" width="4.2" height="6.6" fill="#fb5229"/>
<rect x="568.9" y="260.0" width="4.2" height="6.6" fill="#fb5229"/>
<rect x="753.4" y="260.0" width="4.2" height="6.6" fill="#fb5229"/>
<rect x="778.4" y="260.0" width="4.2" height="6.6" fill="#fb5229"/>
<rect x="803.7" y="260.0" width="4.2" height="6.6" fill="#fb5229"/>
<rect x="562.8" y="266.8" width="4.2" height="6.6" fill="#fb5229"/>
<rect x="598.9" y="266.8" width="4.2" height="6.6" fill="#fb5229"/>
<rect x="628.8" y="266.8" width="4.2" height="6.6" fill="#fb5229"/>
<rect x="669.9" y="266.8" width="4.2" height="6.6" fill="#fb5229"/>
<rect x="763.0" y="266.8" width="4.2" height="6.6" fill="#fb5229"/>
<rect x="800.0" y="266.8" width="4.2" height="6.6" fill="#fb5229"/>
<rect x="643.0" y="273.6" width="4.2" height="6.6" fill="#fb5229"/>
<rect x="765.6" y="273.6" width="4.2" height="6.6" fill="#fb5229"/>
<rect x="533.0" y="280.4" width="4.2" height="6.6" fill="#fb5229"/>
<rect x="573.5" y="280.4" width="4.2" height="6.6" fill="#fb5229"/>
<rect x="599.6" y="280.4" width="4.2" height="6.6" fill="#fb5229"/>
<rect x="620.3" y="280.4" width="4.2" height="6.6" fill="#fb5229"/>
<rect x="627.2" y="280.4" width="4.2" height="6.6" fill="#fb5229"/>
<rect x="652.0" y="280.4" width="4.2" height="6.6" fill="#fb5229"/>
<rect x="748.4" y="280.4" width="4.2" height="6.6" fill="#fb5229"/>
<rect x="778.8" y="280.4" width="4.2" height="6.6" fill="#fb5229"/>
<rect x="794.9" y="280.4" width="4.2" height="6.6" fill="#fb5229"/>
<rect x="531.5" y="305.1" width="4.2" height="7.4" fill="#ad0c2d"/>
<rect x="547.3" y="305.1" width="4.2" height="7.4" fill="#ad0c2d"/>
<rect x="660.8" y="305.1" width="4.2" height="7.4" fill="#ad0c2d"/>
<rect x="675.6" y="305.1" width="4.2" height="7.4" fill="#ad0c2d"/>
<rect x="757.8" y="305.1" width="4.2" height="7.4" fill="#ad0c2d"/>
<rect x="628.8" y="312.3" width="4.2" height="7.4" fill="#ad0c2d"/>
<rect x="678.2" y="312.3" width="4.2" height="7.4" fill="#ad0c2d"/>
<rect x="745.9" y="312.3" width="4.2" height="7.4" fill="#ad0c2d"/>
<rect x="761.8" y="312.3" width="4.2" height="7.4" fill="#ad0c2d"/>
<rect x="769.2" y="312.3" width="4.2" height="7.4" fill="#ad0c2d"/>
<rect x="675.4" y="319.5" width="4.2" height="7.4" fill="#ad0c2d"/>
<rect x="680.9" y="319.5" width="4.2" height="7.4" fill="#ad0c2d"/>
<rect x="778.5" y="319.5" width="4.2" height="7.4" fill="#ad0c2d"/>
<rect x="532.4" y="326.7" width="4.2" height="7.4" fill="#ad0c2d"/>
<rect x="561.4" y="326.7" width="4.2" height="7.4" fill="#ad0c2d"/>
<rect x="581.6" y="326.7" width="4.2" height="7.4" fill="#ad0c2d"/>
<rect x="620.4" y="326.7" width="4.2" height="7.4" fill="#ad0c2d"/>
<rect x="742.5" y="326.7" width="4.2" height="7.4" fill="#ad0c2d"/>
<rect x="805.5" y="326.7" width="4.2" height="7.4" fill="#ad0c2d"/>
<rect x="605.1" y="333.9" width="4.2" height="7.4" fill="#ad0c2d"/>
<rect x="750.9" y="333.9" width="4.2" height="7.4" fill="#ad0c2d"/>
<rect x="535.0" y="341.1" width="4.2" height="7.4" fill="#ad0c2d"/>
<rect x="654.2" y="348.3" width="4.2" height="7.4" fill="#ad0c2d"/>
<rect x="665.7" y="348.3" width="4.2" height="7.4" fill="#ad0c2d"/>
<rect x="718.9" y="348.3" width="4.2" height="7.4" fill="#ad0c2d"/>
<rect x="794.3" y="348.3" width="4.2" height="7.4" fill="#ad0c2d"/>
<rect x="574.6" y="355.5" width="4.2" height="7.4" fill="#ad0c2d"/>
<rect x="649.7" y="355.5" width="4.2" height="7.4" fill="#ad0c2d"/>
<rect x="655.7" y="355.5" width="4.2" height="7.4" fill="#ad0c2d"/>
<rect x="667.8" y="355.5" width="4.2" height="7.4" fill="#ad0c2d"/>
<rect x="762.9" y="355.5" width="4.2" height="7.4" fill="#ad0c2d"/>
<rect x="545.6" y="362.7" width="4.2" height="7.4" fill="#ad0c2d"/>
<rect x="551.8" y="362.7" width="4.2" height="7.4" fill="#ad0c2d"/>
<rect x="613.2" y="362.7" width="4.2" height="7.4" fill="#ad0c2d"/>
<rect x="664.7" y="362.7" width="4.2" height="7.4" fill="#ad0c2d"/>
<rect x="683.4" y="362.7" width="4.2" height="7.4" fill="#ad0c2d"/>
<rect x="778.2" y="362.7" width="4.2" height="7.4" fill="#ad0c2d"/>
<rect x="809.3" y="362.7" width="4.2" height="7.4" fill="#ad0c2d"/>
<rect x="536.8" y="369.9" width="4.2" height="7.4" fill="#ad0c2d"/>
<rect x="672.3" y="369.9" width="4.2" height="7.4" fill="#ad0c2d"/>
<rect x="718.9" y="369.9" width="4.2" height="7.4" fill="#ad0c2d"/>
<rect x="526.7" y="377.1" width="4.2" height="7.4" fill="#ad0c2d"/>
<rect x="600.3" y="377.1" width="4.2" height="7.4" fill="#ad0c2d"/>
<rect x="726.7" y="377.1" width="4.2" height="7.4" fill="#ad0c2d"/>
<rect x="518.9" y="384.3" width="4.2" height="7.4" fill="#ad0c2d"/>
<rect x="569.8" y="384.3" width="4.2" height="7.4" fill="#ad0c2d"/>
<rect x="598.1" y="384.3" width="4.2" height="7.4" fill="#ad0c2d"/>
<rect x="611.8" y="384.3" width="4.2" height="7.4" fill="#ad0c2d"/>
<rect x="619.2" y="384.3" width="4.2" height="7.4" fill="#ad0c2d"/>
<rect x="669.3" y="384.3" width="4.2" height="7.4" fill="#ad0c2d"/>
<rect x="794.7" y="384.3" width="4.2" height="7.4" fill="#ad0c2d"/>
<rect x="539.5" y="391.5" width="4.2" height="7.4" fill="#ad0c2d"/>
<rect x="568.0" y="391.5" width="4.2" height="7.4" fill="#ad0c2d"/>
<rect x="619.4" y="391.5" width="4.2" height="7.4" fill="#ad0c2d"/>
<rect x="705.8" y="391.5" width="4.2" height="7.4" fill="#ad0c2d"/>
<rect x="526.3" y="398.7" width="4.2" height="7.4" fill="#ad0c2d"/>
<rect x="607.8" y="398.7" width="4.2" height="7.4" fill="#ad0c2d"/>
<rect x="634.8" y="398.7" width="4.2" height="7.4" fill="#ad0c2d"/>
<rect x="671.1" y="398.7" width="4.2" height="7.4" fill="#ad0c2d"/>
<rect x="780.6" y="398.7" width="4.2" height="7.4" fill="#ad0c2d"/>
<rect x="1125.0" y="187.8" width="4.2" height="8.4" fill="#fc8a3a"/>
<rect x="1146.5" y="187.8" width="4.2" height="8.4" fill="#fc8a3a"/>
<rect x="1200.2" y="187.8" width="4.2" height="8.4" fill="#fc8a3a"/>
<rect x="1250.4" y="187.8" width="4.2" height="8.4" fill="#fc8a3a"/>
<rect x="1007.7" y="196.2" width="4.2" height="8.4" fill="#fc8a3a"/>
<rect x="1046.9" y="196.2" width="4.2" height="8.4" fill="#fc8a3a"/>
<rect x="1063.3" y="196.2" width="4.2" height="8.4" fill="#fc8a3a"/>
<rect x="1092.4" y="196.2" width="4.2" height="8.4" fill="#fc8a3a"/>
<rect x="1096.9" y="196.2" width="4.2" height="8.4" fill="#fc8a3a"/>
<rect x="1114.0" y="196.2" width="4.2" height="8.4" fill="#fc8a3a"/>
<rect x="1236.3" y="196.2" width="4.2" height="8.4" fill="#fc8a3a"/>
<rect x="1107.4" y="204.6" width="4.2" height="8.4" fill="#fc8a3a"/>
<rect x="1111.4" y="204.6" width="4.2" height="8.4" fill="#fc8a3a"/>
<rect x="1202.8" y="204.6" width="4.2" height="8.4" fill="#fc8a3a"/>
<rect x="1032.8" y="213.0" width="4.2" height="8.4" fill="#fc8a3a"/>
<rect x="1046.9" y="213.0" width="4.2" height="8.4" fill="#fc8a3a"/>
<rect x="1064.4" y="221.4" width="4.2" height="8.4" fill="#fc8a3a"/>
<rect x="1068.4" y="221.4" width="4.2" height="8.4" fill="#fc8a3a"/>
<rect x="1112.4" y="221.4" width="4.2" height="8.4" fill="#fc8a3a"/>
<rect x="982.6" y="229.8" width="4.2" height="8.4" fill="#fc8a3a"/>
<rect x="1011.8" y="229.8" width="4.2" height="8.4" fill="#fc8a3a"/>
<rect x="1185.8" y="229.8" width="4.2" height="8.4" fill="#fc8a3a"/>
<rect x="1237.7" y="229.8" width="4.2" height="8.4" fill="#fc8a3a"/>
<rect x="995.8" y="238.2" width="4.2" height="8.4" fill="#fc8a3a"/>
<rect x="996.6" y="246.6" width="4.2" height="8.4" fill="#fc8a3a"/>
<rect x="1032.8" y="246.6" width="4.2" height="8.4" fill="#fc8a3a"/>
<rect x="1133.7" y="246.6" width="4.2" height="8.4" fill="#fc8a3a"/>
<rect x="1177.9" y="246.6" width="4.2" height="8.4" fill="#fc8a3a"/>
<rect x="1217.4" y="246.6" width="4.2" height="8.4" fill="#fc8a3a"/>
<rect x="977.8" y="255.0" width="4.2" height="8.4" fill="#fc8a3a"/>
<rect x="1022.4" y="255.0" width="4.2" height="8.4" fill="#fc8a3a"/>
<rect x="1026.4" y="255.0" width="4.2" height="8.4" fill="#fc8a3a"/>
<rect x="1033.3" y="255.0" width="4.2" height="8.4" fill="#fc8a3a"/>
<rect x="1040.3" y="255.0" width="4.2" height="8.4" fill="#fc8a3a"/>
<rect x="1051.3" y="255.0" width="4.2" height="8.4" fill="#fc8a3a"/>
<rect x="1115.8" y="255.0" width="4.2" height="8.4" fill="#fc8a3a"/>
<rect x="1126.4" y="255.0" width="4.2" height="8.4" fill="#fc8a3a"/>
<rect x="1137.8" y="255.0" width="4.2" height="8.4" fill="#fc8a3a"/>
<rect x="1165.7" y="255.0" width="4.2" height="8.4" fill="#fc8a3a"/>
<rect x="990.0" y="263.4" width="4.2" height="8.4" fill="#fc8a3a"/>
<rect x="1004.6" y="263.4" width="4.2" height="8.4" fill="#fc8a3a"/>
<rect x="1061.5" y="263.4" width="4.2" height="8.4" fill="#fc8a3a"/>
<rect x="1065.5" y="263.4" width="4.2" height="8.4" fill="#fc8a3a"/>
<rect x="1210.4" y="263.4" width="4.2" height="8.4" fill="#fc8a3a"/>
<rect x="1214.4" y="263.4" width="4.2" height="8.4" fill="#fc8a3a"/>
<rect x="1225.9" y="263.4" width="4.2" height="8.4" fill="#fc8a3a"/>
<rect x="988.0" y="271.8" width="4.2" height="8.4" fill="#fc8a3a"/>
<rect x="1004.6" y="271.8" width="4.2" height="8.4" fill="#fc8a3a"/>
<rect x="1081.4" y="271.8" width="4.2" height="8.4" fill="#fc8a3a"/>
<rect x="1244.9" y="271.8" width="4.2" height="8.4" fill="#fc8a3a"/>
<rect x="960.3" y="280.2" width="4.2" height="8.4" fill="#fc8a3a"/>
<rect x="1069.6" y="280.2" width="4.2" height="8.4" fill="#fc8a3a"/>
<rect x="1247.7" y="280.2" width="4.2" height="8.4" fill="#fc8a3a"/>
<rect x="972.9" y="304.9" width="4.2" height="11.25" fill="#ad0c2d"/>
<rect x="989.1" y="304.9" width="4.2" height="11.25" fill="#ad0c2d"/>
<rect x="1104.4" y="304.9" width="4.2" height="11.25" fill="#ad0c2d"/>
<rect x="1118.8" y="304.9" width="4.2" height="11.25" fill="#ad0c2d"/>
<rect x="1202.0" y="304.9" width="4.2" height="11.25" fill="#ad0c2d"/>
<rect x="1071.8" y="316.1" width="4.2" height="11.25" fill="#ad0c2d"/>
<rect x="1121.6" y="316.1" width="4.2" height="11.25" fill="#ad0c2d"/>
<rect x="1190.0" y="316.1" width="4.2" height="11.25" fill="#ad0c2d"/>
<rect x="1206.1" y="316.1" width="4.2" height="11.25" fill="#ad0c2d"/>
<rect x="1213.8" y="316.1" width="4.2" height="11.25" fill="#ad0c2d"/>
<rect x="1119.2" y="327.4" width="4.2" height="11.25" fill="#ad0c2d"/>
<rect x="1123.2" y="327.4" width="4.2" height="11.25" fill="#ad0c2d"/>
<rect x="1223.4" y="327.4" width="4.2" height="11.25" fill="#ad0c2d"/>
<rect x="973.9" y="338.6" width="4.2" height="11.25" fill="#ad0c2d"/>
<rect x="1003.4" y="338.6" width="4.2" height="11.25" fill="#ad0c2d"/>
<rect x="1023.8" y="338.6" width="4.2" height="11.25" fill="#ad0c2d"/>
<rect x="1063.3" y="338.6" width="4.2" height="11.25" fill="#ad0c2d"/>
<rect x="1186.6" y="338.6" width="4.2" height="11.25" fill="#ad0c2d"/>
<rect x="1250.4" y="338.6" width="4.2" height="11.25" fill="#ad0c2d"/>
<rect x="967.9" y="349.9" width="4.2" height="11.25" fill="#ad0c2d"/>
<rect x="1042.9" y="349.9" width="4.2" height="11.25" fill="#ad0c2d"/>
<rect x="1170.8" y="349.9" width="4.2" height="11.25" fill="#ad0c2d"/>
<rect x="960.3" y="361.1" width="4.2" height="11.25" fill="#ad0c2d"/>
<rect x="1011.8" y="361.1" width="4.2" height="11.25" fill="#ad0c2d"/>
<rect x="1040.7" y="361.1" width="4.2" height="11.25" fill="#ad0c2d"/>
<rect x="1054.4" y="361.1" width="4.2" height="11.25" fill="#ad0c2d"/>
<rect x="1061.8" y="361.1" width="4.2" height="11.25" fill="#ad0c2d"/>
<rect x="1112.8" y="361.1" width="4.2" height="11.25" fill="#ad0c2d"/>
<rect x="1240.2" y="361.1" width="4.2" height="11.25" fill="#ad0c2d"/>
<rect x="981.0" y="372.4" width="4.2" height="11.25" fill="#ad0c2d"/>
<rect x="1010.0" y="372.4" width="4.2" height="11.25" fill="#ad0c2d"/>
<rect x="1062.1" y="372.4" width="4.2" height="11.25" fill="#ad0c2d"/>
<rect x="1149.7" y="372.4" width="4.2" height="11.25" fill="#ad0c2d"/>
<rect x="967.9" y="383.6" width="4.2" height="11.25" fill="#ad0c2d"/>
<rect x="1050.7" y="383.6" width="4.2" height="11.25" fill="#ad0c2d"/>
<rect x="1077.8" y="383.6" width="4.2" height="11.25" fill="#ad0c2d"/>
<rect x="1114.2" y="383.6" width="4.2" height="11.25" fill="#ad0c2d"/>
<rect x="1225.5" y="383.6" width="4.2" height="11.25" fill="#ad0c2d"/>
<rect x="1194.8" y="394.9" width="4.2" height="11.25" fill="#ad0c2d"/>
<rect x="386.5" y="184.80" width="23.1" height="10.21" fill="#ff1000"/>
<rect x="386.5" y="194.71" width="23.1" height="6.67" fill="#ff3c00"/>
<rect x="386.5" y="201.08" width="23.1" height="6.67" fill="#ff5800"/>
<rect x="386.5" y="207.44" width="23.1" height="9.50" fill="#ff8400"/>
<rect x="386.5" y="216.64" width="23.1" height="7.38" fill="#ff9a00"/>
<rect x="386.5" y="223.72" width="23.1" height="7.38" fill="#ffbe00"/>
<rect x="386.5" y="230.80" width="23.1" height="7.38" fill="#ffcc00"/>
<rect x="386.5" y="237.87" width="23.1" height="13.04" fill="#ffe000"/>
<rect x="386.5" y="250.61" width="23.1" height="10.21" fill="#fff000"/>
<rect x="386.5" y="260.52" width="23.1" height="26.48" fill="#ffff44"/>
<rect x="386.5" y="303.90" width="23.1" height="11.19" fill="#ff1800"/>
<rect x="386.5" y="314.79" width="23.1" height="17.98" fill="#ff4800"/>
<rect x="386.5" y="332.47" width="23.1" height="17.98" fill="#ff6a00"/>
<rect x="386.5" y="350.14" width="23.1" height="10.91" fill="#ff8800"/>
<rect x="386.5" y="360.75" width="23.1" height="11.61" fill="#ffa000"/>
<rect x="386.5" y="372.06" width="23.1" height="17.27" fill="#ffb400"/>
<rect x="386.5" y="389.03" width="23.1" height="10.20" fill="#ffd000"/>
<rect x="386.5" y="398.93" width="23.1" height="4.54" fill="#ffe800"/>
<rect x="386.5" y="403.17" width="23.1" height="3.13" fill="#ffff44"/>
<rect x="836.0" y="184.10" width="24.5" height="6.83" fill="#2e0000"/>
<rect x="836.0" y="190.63" width="24.5" height="7.61" fill="#520000"/>
<rect x="836.0" y="197.94" width="24.5" height="13.88" fill="#7c0000"/>
<rect x="836.0" y="211.53" width="24.5" height="14.67" fill="#960000"/>
<rect x="836.0" y="225.89" width="24.5" height="20.41" fill="#cc0000"/>
<rect x="836.0" y="246.01" width="24.5" height="20.67" fill="#ff4000"/>
<rect x="836.0" y="266.38" width="24.5" height="8.14" fill="#ff6400"/>
<rect x="836.0" y="274.22" width="24.5" height="13.88" fill="#ff8400"/>
<rect x="836.0" y="304.80" width="24.5" height="14.04" fill="#2e0000"/>
<rect x="836.0" y="318.54" width="24.5" height="16.38" fill="#480000"/>
<rect x="836.0" y="334.62" width="24.5" height="21.82" fill="#5e0000"/>
<rect x="836.0" y="356.14" width="24.5" height="22.34" fill="#800000"/>
<rect x="836.0" y="378.18" width="24.5" height="14.56" fill="#cc0000"/>
<rect x="836.0" y="392.44" width="24.5" height="8.08" fill="#ff4400"/>
<rect x="836.0" y="400.22" width="24.5" height="8.08" fill="#ff8400"/>
<rect x="1269.6" y="184.20" width="25.1" height="17.26" fill="#2a0000"/>
<rect x="1269.6" y="201.16" width="25.1" height="9.21" fill="#e60000"/>
<rect x="1269.6" y="210.07" width="25.1" height="17.83" fill="#ff3c00"/>
<rect x="1269.6" y="227.60" width="25.1" height="17.26" fill="#ff8000"/>
<rect x="1269.6" y="244.56" width="25.1" height="25.75" fill="#ff9600"/>
<rect x="1269.6" y="270.01" width="25.1" height="9.21" fill="#ffc000"/>
<rect x="1269.6" y="278.92" width="25.1" height="8.78" fill="#ffe000"/>
<rect x="1269.6" y="304.50" width="25.1" height="23.41" fill="#2a0000"/>
<rect x="1269.6" y="327.61" width="25.1" height="22.59" fill="#4a0000"/>
<rect x="1269.6" y="349.90" width="25.1" height="22.86" fill="#d00000"/>
<rect x="1269.6" y="372.46" width="25.1" height="12.53" fill="#ff4a00"/>
<rect x="1269.6" y="384.69" width="25.1" height="11.17" fill="#ff8a00"/>
<rect x="1269.6" y="395.57" width="25.1" height="12.53" fill="#ffd000"/>
<defs><linearGradient id="hotg" x1="0" y1="0" x2="0" y2="1"><stop offset="0" stop-color="#000"/><stop offset="0.1" stop-color="#200000"/><stop offset="0.3" stop-color="#900000"/><stop offset="0.42" stop-color="#ff0000"/><stop offset="0.6" stop-color="#ff9000"/><stop offset="0.72" stop-color="#ffff00"/><stop offset="0.95" stop-color="#ffffff"/></linearGradient></defs>
<rect x="1304.8" y="222.1" width="23.8" height="63.6" fill="url(#hotg)"/>
<text x="1302" y="206.8" font-size="28.6" text-anchor="start" font-weight="normal" fill="#262626" >Bid</text>
<path d="M1341.7,212.5 L1341.7,232.9 L1338.7,232.9 L1338.7,217.3 L1333.7,220.3 L1333.7,217.7 L1339.9,212.5 Z" fill="#262626"/>
<text x="1331" y="298.6" font-size="28.6" text-anchor="start" font-weight="normal" fill="#262626" >0</text>
<path d="M24.80,208.00 C26.02,212.50 30.88,216.14 30.88,219.92 A6.08,6.08 0 0 1 18.72,219.92 C18.72,216.14 23.58,212.50 24.80,208.00 Z" fill="#7331a4"/>
<path d="M21.33,217.91 A4.38,4.38 0 0 0 24.07,224.54 A7.61,7.61 0 0 1 21.33,217.91 Z" fill="#fff"/>
<rect x="4.0" y="235.2" width="41.7" height="41.7" rx="2" fill="none" stroke="#fc8a3a" stroke-width="4.2"/>
<clipPath id="cl1"><rect x="6.6" y="237.79999999999998" width="36.5" height="36.5"/></clipPath>
<g clip-path="url(#cl1)">
<defs><linearGradient id="bg1" x1="0" y1="0" x2="1" y2="0.3"><stop offset="0" stop-color="#2c1f6e"/><stop offset="0.3" stop-color="#2a3c9a"/><stop offset="1" stop-color="#3a6ac8"/></linearGradient><radialGradient id="halo1" cx="0.72" cy="0.46" r="0.62"><stop offset="0.42" stop-color="#fff3c0"/><stop offset="0.55" stop-color="#a8d0f0"/><stop offset="0.75" stop-color="#5080d0" stop-opacity="0.7"/><stop offset="1" stop-color="#3050b0" stop-opacity="0"/></radialGradient></defs>
<rect x="6.6" y="237.79999999999998" width="36.5" height="36.5" fill="url(#bg1)"/>
<rect x="6.6" y="237.79999999999998" width="36.5" height="36.5" fill="url(#halo1)"/>
<rect x="6.6" y="268.46" width="36.5" height="5.84" fill="#3a5cc0" opacity="0.8"/>
<path d="M6.6,270.65 L23.025,260.43" stroke="#e0b070" stroke-width="1"/>
<polygon points="47.63,253.64 44.90,255.54 46.81,258.26 43.60,259.12 44.47,262.32 41.16,262.03 40.87,265.34 37.87,263.93 36.47,266.94 34.12,264.59 31.78,266.94 30.38,263.93 27.37,265.34 27.08,262.03 23.78,262.32 24.64,259.12 21.43,258.26 23.34,255.54 20.62,253.64 23.34,251.74 21.43,249.02 24.64,248.17 23.78,244.96 27.08,245.25 27.37,241.95 30.38,243.35 31.78,240.34 34.12,242.69 36.47,240.34 37.87,243.35 40.87,241.95 41.16,245.25 44.47,244.96 43.60,248.17 46.81,249.02 44.90,251.74" fill="#e8b060"/>
<circle cx="34.121" cy="253.641" r="11.315" fill="#c06a30"/>
<circle cx="23.499499999999998" cy="261.0505" r="4.015" fill="#d8903a"/>
<circle cx="34.121" cy="253.641" r="10.22" fill="#000"/>
<circle cx="23.499499999999998" cy="261.0505" r="2.92" fill="#000"/>
<rect x="8.3" y="267.2" width="1.2" height="1.2" fill="#8ab0f0" opacity="0.7"/>
<rect x="16.4" y="246.6" width="1.2" height="1.2" fill="#8ab0f0" opacity="0.7"/>
<rect x="12.9" y="253.4" width="1.2" height="1.2" fill="#8ab0f0" opacity="0.7"/>
<rect x="14.9" y="265.1" width="1.2" height="1.2" fill="#8ab0f0" opacity="0.7"/>
<rect x="7.8" y="238.8" width="1.2" height="1.2" fill="#8ab0f0" opacity="0.7"/>
<rect x="17.3" y="252.8" width="1.2" height="1.2" fill="#8ab0f0" opacity="0.7"/>
<rect x="16.3" y="237.9" width="1.2" height="1.2" fill="#8ab0f0" opacity="0.7"/>
<rect x="12.3" y="262.8" width="1.2" height="1.2" fill="#8ab0f0" opacity="0.7"/>
<rect x="9.5" y="270.6" width="1.2" height="1.2" fill="#8ab0f0" opacity="0.7"/>
<rect x="18.1" y="238.9" width="1.2" height="1.2" fill="#8ab0f0" opacity="0.7"/>
<rect x="6.9" y="256.6" width="1.2" height="1.2" fill="#8ab0f0" opacity="0.7"/>
<rect x="18.6" y="251.0" width="1.2" height="1.2" fill="#8ab0f0" opacity="0.7"/>
<rect x="9.4" y="252.4" width="1.2" height="1.2" fill="#8ab0f0" opacity="0.7"/>
<rect x="7.0" y="245.5" width="1.2" height="1.2" fill="#8ab0f0" opacity="0.7"/>
<rect x="12.2" y="255.0" width="1.2" height="1.2" fill="#8ab0f0" opacity="0.7"/>
<rect x="9.6" y="245.8" width="1.2" height="1.2" fill="#8ab0f0" opacity="0.7"/>
<rect x="9.4" y="253.7" width="1.2" height="1.2" fill="#8ab0f0" opacity="0.7"/>
<rect x="10.3" y="238.5" width="1.2" height="1.2" fill="#8ab0f0" opacity="0.7"/>
<rect x="17.3" y="257.1" width="1.2" height="1.2" fill="#8ab0f0" opacity="0.7"/>
<rect x="14.8" y="244.2" width="1.2" height="1.2" fill="#8ab0f0" opacity="0.7"/>
<rect x="19.3" y="267.6" width="1.2" height="1.2" fill="#8ab0f0" opacity="0.7"/>
<rect x="8.1" y="249.3" width="1.2" height="1.2" fill="#8ab0f0" opacity="0.7"/>
<rect x="15.8" y="262.5" width="1.2" height="1.2" fill="#8ab0f0" opacity="0.7"/>
<rect x="18.6" y="252.4" width="1.2" height="1.2" fill="#8ab0f0" opacity="0.7"/>
<rect x="17.2" y="261.0" width="1.2" height="1.2" fill="#8ab0f0" opacity="0.7"/>
<rect x="10.5" y="258.2" width="1.2" height="1.2" fill="#8ab0f0" opacity="0.7"/>
<rect x="17.9" y="267.1" width="1.2" height="1.2" fill="#8ab0f0" opacity="0.7"/>
<rect x="13.1" y="258.2" width="1.2" height="1.2" fill="#8ab0f0" opacity="0.7"/>
<rect x="7.0" y="246.2" width="1.2" height="1.2" fill="#8ab0f0" opacity="0.7"/>
<rect x="16.8" y="252.2" width="1.2" height="1.2" fill="#8ab0f0" opacity="0.7"/>
<rect x="8.8" y="256.8" width="1.2" height="1.2" fill="#8ab0f0" opacity="0.7"/>
<rect x="15.6" y="261.2" width="1.2" height="1.2" fill="#8ab0f0" opacity="0.7"/>
<rect x="11.4" y="253.0" width="1.2" height="1.2" fill="#8ab0f0" opacity="0.7"/>
<rect x="13.1" y="264.8" width="1.2" height="1.2" fill="#8ab0f0" opacity="0.7"/>
<rect x="13.3" y="251.4" width="1.2" height="1.2" fill="#8ab0f0" opacity="0.7"/>
<rect x="12.9" y="238.8" width="1.2" height="1.2" fill="#8ab0f0" opacity="0.7"/>
<rect x="7.2" y="262.2" width="1.2" height="1.2" fill="#8ab0f0" opacity="0.7"/>
<rect x="19.2" y="258.4" width="1.2" height="1.2" fill="#8ab0f0" opacity="0.7"/>
<rect x="11.6" y="243.7" width="1.2" height="1.2" fill="#8ab0f0" opacity="0.7"/>
<rect x="13.0" y="271.9" width="1.2" height="1.2" fill="#8ab0f0" opacity="0.7"/>
</g>
<path d="M24.80,313.00 C26.42,319.00 32.91,323.86 32.91,328.89 A8.11,8.11 0 0 1 16.69,328.89 C16.69,323.86 23.18,319.00 24.80,313.00 Z" fill="#7331a4"/>
<path d="M20.18,326.21 A5.84,5.84 0 0 0 23.83,335.05 A10.14,10.14 0 0 1 20.18,326.21 Z" fill="#fff"/>
<rect x="4.0" y="345.8" width="41.7" height="41.7" rx="2" fill="none" stroke="#fb5229" stroke-width="4.2"/>
<clipPath id="cl2"><rect x="6.6" y="348.40000000000003" width="36.5" height="36.5"/></clipPath>
<g clip-path="url(#cl2)">
<defs><linearGradient id="ng2" x1="0" y1="0.2" x2="1" y2="0.6"><stop offset="0" stop-color="#2060c8"/><stop offset="0.55" stop-color="#5a9ae0"/><stop offset="0.8" stop-color="#d8e8f8"/><stop offset="1" stop-color="#e8f2fc"/></linearGradient><radialGradient id="nc2" cx="0.6" cy="0.35" r="0.7"><stop offset="0" stop-color="#fff8d8"/><stop offset="0.6" stop-color="#f0c850"/><stop offset="1" stop-color="#e0a830"/></radialGradient></defs>
<rect x="6.6" y="348.40000000000003" width="36.5" height="36.5" fill="url(#ng2)"/>
<path d="M33.975,348.40000000000003 L43.1,348.40000000000003 L43.1,359.35 Z" fill="#1a3a90" opacity="0.9"/>
<circle cx="22.659999999999997" cy="365.19000000000005" r="11.315" fill="url(#nc2)"/>
<circle cx="24.85" cy="364.46000000000004" r="6.569999999999999" fill="#a05018"/>
<circle cx="24.85" cy="364.46000000000004" r="3.2849999999999997" fill="#6a2a10"/>
<circle cx="24.85" cy="364.46000000000004" r="1.8250000000000002" fill="#2a2a70"/>
</g>
<path d="M480.20,202.60 C481.75,208.35 487.97,213.01 487.97,217.83 A7.77,7.77 0 0 1 472.43,217.83 C472.43,213.01 478.65,208.35 480.20,202.60 Z" fill="#7331a4"/>
<path d="M475.77,215.26 A5.60,5.60 0 0 0 479.27,223.73 A9.72,9.72 0 0 1 475.77,215.26 Z" fill="#fff"/>
<rect x="459.0" y="234.2" width="41.8" height="41.8" rx="2" fill="none" stroke="#fb5229" stroke-width="4.2"/>
<clipPath id="cl3"><rect x="461.6" y="236.79999999999998" width="36.599999999999994" height="36.599999999999994"/></clipPath>
<g clip-path="url(#cl3)">
<defs><linearGradient id="ng3" x1="0" y1="0.2" x2="1" y2="0.6"><stop offset="0" stop-color="#2060c8"/><stop offset="0.55" stop-color="#5a9ae0"/><stop offset="0.8" stop-color="#d8e8f8"/><stop offset="1" stop-color="#e8f2fc"/></linearGradient><radialGradient id="nc3" cx="0.6" cy="0.35" r="0.7"><stop offset="0" stop-color="#fff8d8"/><stop offset="0.6" stop-color="#f0c850"/><stop offset="1" stop-color="#e0a830"/></radialGradient></defs>
<rect x="461.6" y="236.79999999999998" width="36.599999999999994" height="36.599999999999994" fill="url(#ng3)"/>
<path d="M489.05,236.79999999999998 L498.20000000000005,236.79999999999998 L498.20000000000005,247.77999999999997 Z" fill="#1a3a90" opacity="0.9"/>
<circle cx="477.704" cy="253.63599999999997" r="11.345999999999998" fill="url(#nc3)"/>
<circle cx="479.90000000000003" cy="252.904" r="6.587999999999998" fill="#a05018"/>
<circle cx="479.90000000000003" cy="252.904" r="3.293999999999999" fill="#6a2a10"/>
<circle cx="479.90000000000003" cy="252.904" r="1.8299999999999998" fill="#2a2a70"/>
</g>
<path d="M479.80,308.00 C482.01,316.18 490.85,322.79 490.85,329.65 A11.05,11.05 0 0 1 468.75,329.65 C468.75,322.79 477.59,316.18 479.80,308.00 Z" fill="#7331a4"/>
<path d="M473.50,326.00 A7.96,7.96 0 0 0 478.47,338.05 A13.82,13.82 0 0 1 473.50,326.00 Z" fill="#fff"/>
<rect x="459.0" y="344.8" width="41.8" height="41.8" rx="2" fill="none" stroke="#ad0c2d" stroke-width="4.2"/>
<clipPath id="cl4"><rect x="461.6" y="347.40000000000003" width="36.599999999999994" height="36.599999999999994"/></clipPath>
<g clip-path="url(#cl4)">
<defs><radialGradient id="mgc14" cx="0" cy="0" r="0.62"><stop offset="0" stop-color="#00c8ff"/><stop offset="0.35" stop-color="#00ffff"/><stop offset="1" stop-color="#00ffff" stop-opacity="0"/></radialGradient><radialGradient id="mgc24" cx="0" cy="1" r="0.62"><stop offset="0" stop-color="#00c8ff"/><stop offset="0.35" stop-color="#00ffff"/><stop offset="1" stop-color="#00ffff" stop-opacity="0"/></radialGradient></defs>
<rect x="461.6" y="347.40000000000003" width="36.599999999999994" height="36.599999999999994" fill="#10f020"/>
<rect x="461.6" y="347.40000000000003" width="36.599999999999994" height="36.599999999999994" fill="url(#mgc14)"/>
<rect x="461.6" y="347.40000000000003" width="36.599999999999994" height="36.599999999999994" fill="url(#mgc24)"/>
<path d="M481.73,350.33 L494.54,366.87 L481.73,382.90 L469.65,366.87 Z" fill="#a0ff10" opacity="0.0"/>
<ellipse cx="488.46" cy="366.87" rx="10.07" ry="11.53" fill="#ffe800"/>
<circle cx="476.06" cy="366.87" r="5.57" fill="#ffe800"/>
<circle cx="487.73" cy="355.64" r="4.03" fill="#ffe800"/>
<circle cx="487.73" cy="378.14" r="4.03" fill="#ffe800"/>
<circle cx="482.10" cy="359.48" r="3.30" fill="#ffe800"/>
<circle cx="482.10" cy="374.12" r="3.30" fill="#ffe800"/>
<circle cx="495.64" cy="359.48" r="3.30" fill="#ffe800"/>
<circle cx="495.64" cy="374.12" r="3.30" fill="#ffe800"/>
<ellipse cx="488.46" cy="366.87" rx="8.87" ry="10.33" fill="#e02000"/>
<circle cx="476.06" cy="366.87" r="4.37" fill="#e02000"/>
<circle cx="487.73" cy="355.64" r="2.83" fill="#e02000"/>
<circle cx="487.73" cy="378.14" r="2.83" fill="#e02000"/>
<circle cx="482.10" cy="359.48" r="2.10" fill="#e02000"/>
<circle cx="482.10" cy="374.12" r="2.10" fill="#e02000"/>
<circle cx="495.64" cy="359.48" r="2.10" fill="#e02000"/>
<circle cx="495.64" cy="374.12" r="2.10" fill="#e02000"/>
<ellipse cx="488.46" cy="366.87" rx="7.87" ry="9.33" fill="#000"/>
<circle cx="476.06" cy="366.87" r="3.37" fill="#000"/>
<circle cx="487.73" cy="355.64" r="1.83" fill="#000"/>
<circle cx="487.73" cy="378.14" r="1.83" fill="#000"/>
<circle cx="482.10" cy="359.48" r="1.10" fill="#000"/>
<circle cx="482.10" cy="374.12" r="1.10" fill="#000"/>
<circle cx="495.64" cy="359.48" r="1.10" fill="#000"/>
<circle cx="495.64" cy="374.12" r="1.10" fill="#000"/>
<line x1="463.80" y1="366.87" x2="472.58" y2="366.87" stroke="#ff9010" stroke-width="1.4"/>
</g>
<path d="M919.40,207.80 C920.64,212.38 925.59,216.08 925.59,219.91 A6.19,6.19 0 0 1 913.21,219.91 C913.21,216.08 918.16,212.38 919.40,207.80 Z" fill="#7331a4"/>
<path d="M915.87,217.87 A4.45,4.45 0 0 0 918.66,224.62 A7.73,7.73 0 0 1 915.87,217.87 Z" fill="#fff"/>
<rect x="899.1" y="234.3" width="41.8" height="41.8" rx="2" fill="none" stroke="#fc8a3a" stroke-width="4.2"/>
<clipPath id="cl5"><rect x="901.7" y="236.9" width="36.599999999999994" height="36.599999999999994"/></clipPath>
<g clip-path="url(#cl5)">
<defs><linearGradient id="bg5" x1="0" y1="0" x2="1" y2="0.3"><stop offset="0" stop-color="#2c1f6e"/><stop offset="0.3" stop-color="#2a3c9a"/><stop offset="1" stop-color="#3a6ac8"/></linearGradient><radialGradient id="halo5" cx="0.72" cy="0.46" r="0.62"><stop offset="0.42" stop-color="#fff3c0"/><stop offset="0.55" stop-color="#a8d0f0"/><stop offset="0.75" stop-color="#5080d0" stop-opacity="0.7"/><stop offset="1" stop-color="#3050b0" stop-opacity="0"/></radialGradient></defs>
<rect x="901.7" y="236.9" width="36.599999999999994" height="36.599999999999994" fill="url(#bg5)"/>
<rect x="901.7" y="236.9" width="36.599999999999994" height="36.599999999999994" fill="url(#halo5)"/>
<rect x="901.7" y="267.644" width="36.599999999999994" height="5.855999999999999" fill="#3a5cc0" opacity="0.8"/>
<path d="M901.7,269.84000000000003 L918.1700000000001,259.592" stroke="#e0b070" stroke-width="1"/>
<polygon points="942.84,252.78 940.11,254.69 942.02,257.42 938.81,258.27 939.67,261.49 936.35,261.20 936.07,264.51 933.05,263.10 931.65,266.12 929.30,263.76 926.94,266.12 925.54,263.10 922.53,264.51 922.24,261.20 918.92,261.49 919.79,258.27 916.57,257.42 918.48,254.69 915.75,252.78 918.48,250.88 916.57,248.15 919.79,247.29 918.92,244.08 922.24,244.37 922.53,241.06 925.54,242.47 926.94,239.45 929.30,241.80 931.65,239.45 933.05,242.47 936.07,241.06 936.35,244.37 939.67,244.08 938.81,247.29 942.02,248.15 940.11,250.88" fill="#e8b060"/>
<circle cx="929.2964000000001" cy="252.7844" r="11.345999999999998" fill="#c06a30"/>
<circle cx="918.6458" cy="260.2142" r="4.026" fill="#d8903a"/>
<circle cx="929.2964000000001" cy="252.7844" r="10.248" fill="#000"/>
<circle cx="918.6458" cy="260.2142" r="2.9279999999999995" fill="#000"/>
<rect x="909.7" y="262.7" width="1.2" height="1.2" fill="#8ab0f0" opacity="0.7"/>
<rect x="911.9" y="269.7" width="1.2" height="1.2" fill="#8ab0f0" opacity="0.7"/>
<rect x="911.2" y="269.0" width="1.2" height="1.2" fill="#8ab0f0" opacity="0.7"/>
<rect x="902.1" y="253.1" width="1.2" height="1.2" fill="#8ab0f0" opacity="0.7"/>
<rect x="913.8" y="259.5" width="1.2" height="1.2" fill="#8ab0f0" opacity="0.7"/>
<rect x="913.2" y="240.8" width="1.2" height="1.2" fill="#8ab0f0" opacity="0.7"/>
<rect x="907.7" y="245.5" width="1.2" height="1.2" fill="#8ab0f0" opacity="0.7"/>
<rect x="908.7" y="256.9" width="1.2" height="1.2" fill="#8ab0f0" opacity="0.7"/>
<rect x="901.9" y="244.4" width="1.2" height="1.2" fill="#8ab0f0" opacity="0.7"/>
<rect x="905.3" y="268.8" width="1.2" height="1.2" fill="#8ab0f0" opacity="0.7"/>
<rect x="911.5" y="242.4" width="1.2" height="1.2" fill="#8ab0f0" opacity="0.7"/>
<rect x="911.9" y="241.7" width="1.2" height="1.2" fill="#8ab0f0" opacity="0.7"/>
<rect x="909.6" y="241.3" width="1.2" height="1.2" fill="#8ab0f0" opacity="0.7"/>
<rect x="901.7" y="267.2" width="1.2" height="1.2" fill="#8ab0f0" opacity="0.7"/>
<rect x="904.4" y="244.4" width="1.2" height="1.2" fill="#8ab0f0" opacity="0.7"/>
<rect x="914.3" y="267.2" width="1.2" height="1.2" fill="#8ab0f0" opacity="0.7"/>
<rect x="905.4" y="270.3" width="1.2" height="1.2" fill="#8ab0f0" opacity="0.7"/>
<rect x="908.6" y="260.5" width="1.2" height="1.2" fill="#8ab0f0" opacity="0.7"/>
<rect x="904.3" y="269.6" width="1.2" height="1.2" fill="#8ab0f0" opacity="0.7"/>
<rect x="910.5" y="270.5" width="1.2" height="1.2" fill="#8ab0f0" opacity="0.7"/>
<rect x="913.1" y="247.3" width="1.2" height="1.2" fill="#8ab0f0" opacity="0.7"/>
<rect x="906.3" y="242.7" width="1.2" height="1.2" fill="#8ab0f0" opacity="0.7"/>
<rect x="903.6" y="239.2" width="1.2" height="1.2" fill="#8ab0f0" opacity="0.7"/>
<rect x="905.6" y="257.9" width="1.2" height="1.2" fill="#8ab0f0" opacity="0.7"/>
<rect x="901.7" y="260.5" width="1.2" height="1.2" fill="#8ab0f0" opacity="0.7"/>
<rect x="906.0" y="247.7" width="1.2" height="1.2" fill="#8ab0f0" opacity="0.7"/>
<rect x="912.2" y="253.6" width="1.2" height="1.2" fill="#8ab0f0" opacity="0.7"/>
<rect x="905.7" y="253.6" width="1.2" height="1.2" fill="#8ab0f0" opacity="0.7"/>
<rect x="910.7" y="238.9" width="1.2" height="1.2" fill="#8ab0f0" opacity="0.7"/>
<rect x="914.2" y="237.7" width="1.2" height="1.2" fill="#8ab0f0" opacity="0.7"/>
<rect x="911.3" y="266.3" width="1.2" height="1.2" fill="#8ab0f0" opacity="0.7"/>
<rect x="901.9" y="264.3" width="1.2" height="1.2" fill="#8ab0f0" opacity="0.7"/>
<rect x="906.4" y="257.0" width="1.2" height="1.2" fill="#8ab0f0" opacity="0.7"/>
<rect x="901.8" y="238.5" width="1.2" height="1.2" fill="#8ab0f0" opacity="0.7"/>
<rect x="904.0" y="270.1" width="1.2" height="1.2" fill="#8ab0f0" opacity="0.7"/>
<rect x="904.2" y="263.2" width="1.2" height="1.2" fill="#8ab0f0" opacity="0.7"/>
<rect x="913.6" y="269.7" width="1.2" height="1.2" fill="#8ab0f0" opacity="0.7"/>
<rect x="906.1" y="249.2" width="1.2" height="1.2" fill="#8ab0f0" opacity="0.7"/>
<rect x="908.4" y="263.9" width="1.2" height="1.2" fill="#8ab0f0" opacity="0.7"/>
<rect x="903.1" y="262.9" width="1.2" height="1.2" fill="#8ab0f0" opacity="0.7"/>
</g>
<path d="M919.30,307.70 C921.54,316.00 930.52,322.72 930.52,329.68 A11.22,11.22 0 0 1 908.08,329.68 C908.08,322.72 917.06,316.00 919.30,307.70 Z" fill="#7331a4"/>
<path d="M912.90,325.98 A8.08,8.08 0 0 0 917.95,338.21 A14.03,14.03 0 0 1 912.90,325.98 Z" fill="#fff"/>
<rect x="899.1" y="344.7" width="41.8" height="41.8" rx="2" fill="none" stroke="#ad0c2d" stroke-width="4.2"/>
<clipPath id="cl6"><rect x="901.7" y="347.3" width="36.599999999999994" height="36.599999999999994"/></clipPath>
<g clip-path="url(#cl6)">
<defs><radialGradient id="mgc16" cx="0" cy="0" r="0.62"><stop offset="0" stop-color="#00c8ff"/><stop offset="0.35" stop-color="#00ffff"/><stop offset="1" stop-color="#00ffff" stop-opacity="0"/></radialGradient><radialGradient id="mgc26" cx="0" cy="1" r="0.62"><stop offset="0" stop-color="#00c8ff"/><stop offset="0.35" stop-color="#00ffff"/><stop offset="1" stop-color="#00ffff" stop-opacity="0"/></radialGradient></defs>
<rect x="901.7" y="347.3" width="36.599999999999994" height="36.599999999999994" fill="#10f020"/>
<rect x="901.7" y="347.3" width="36.599999999999994" height="36.599999999999994" fill="url(#mgc16)"/>
<rect x="901.7" y="347.3" width="36.599999999999994" height="36.599999999999994" fill="url(#mgc26)"/>
<path d="M921.83,350.23 L934.64,366.77 L921.83,382.80 L909.75,366.77 Z" fill="#a0ff10" opacity="0.0"/>
<ellipse cx="928.56" cy="366.77" rx="10.07" ry="11.53" fill="#ffe800"/>
<circle cx="916.16" cy="366.77" r="5.57" fill="#ffe800"/>
<circle cx="927.83" cy="355.54" r="4.03" fill="#ffe800"/>
<circle cx="927.83" cy="378.04" r="4.03" fill="#ffe800"/>
<circle cx="922.20" cy="359.38" r="3.30" fill="#ffe800"/>
<circle cx="922.20" cy="374.02" r="3.30" fill="#ffe800"/>
<circle cx="935.74" cy="359.38" r="3.30" fill="#ffe800"/>
<circle cx="935.74" cy="374.02" r="3.30" fill="#ffe800"/>
<ellipse cx="928.56" cy="366.77" rx="8.87" ry="10.33" fill="#e02000"/>
<circle cx="916.16" cy="366.77" r="4.37" fill="#e02000"/>
<circle cx="927.83" cy="355.54" r="2.83" fill="#e02000"/>
<circle cx="927.83" cy="378.04" r="2.83" fill="#e02000"/>
<circle cx="922.20" cy="359.38" r="2.10" fill="#e02000"/>
<circle cx="922.20" cy="374.02" r="2.10" fill="#e02000"/>
<circle cx="935.74" cy="359.38" r="2.10" fill="#e02000"/>
<circle cx="935.74" cy="374.02" r="2.10" fill="#e02000"/>
<ellipse cx="928.56" cy="366.77" rx="7.87" ry="9.33" fill="#000"/>
<circle cx="916.16" cy="366.77" r="3.37" fill="#000"/>
<circle cx="927.83" cy="355.54" r="1.83" fill="#000"/>
<circle cx="927.83" cy="378.04" r="1.83" fill="#000"/>
<circle cx="922.20" cy="359.38" r="1.10" fill="#000"/>
<circle cx="922.20" cy="374.02" r="1.10" fill="#000"/>
<circle cx="935.74" cy="359.38" r="1.10" fill="#000"/>
<circle cx="935.74" cy="374.02" r="1.10" fill="#000"/>
<line x1="903.90" y1="366.77" x2="912.68" y2="366.77" stroke="#ff9010" stroke-width="1.4"/>
</g>
<circle cx="284.8" cy="547.2" r="4.45" fill="#fc8a3a" fill-opacity="0.5"/>
<circle cx="250.5" cy="578.2" r="4.45" fill="#fc8a3a" fill-opacity="0.5"/>
<circle cx="284.1" cy="595.6" r="4.45" fill="#fc8a3a" fill-opacity="0.5"/>
<circle cx="302.2" cy="599.5" r="4.45" fill="#fc8a3a" fill-opacity="0.5"/>
<circle cx="236.6" cy="609.0" r="4.45" fill="#fc8a3a" fill-opacity="0.5"/>
<circle cx="234.5" cy="621.8" r="4.45" fill="#fc8a3a" fill-opacity="0.5"/>
<circle cx="268.4" cy="616.9" r="4.45" fill="#fc8a3a" fill-opacity="0.5"/>
<circle cx="280.1" cy="613.7" r="4.45" fill="#fc8a3a" fill-opacity="0.5"/>
<circle cx="285.9" cy="615.1" r="4.45" fill="#fc8a3a" fill-opacity="0.5"/>
<circle cx="300.1" cy="621.8" r="4.45" fill="#fc8a3a" fill-opacity="0.5"/>
<circle cx="254.3" cy="626.5" r="4.45" fill="#fc8a3a" fill-opacity="0.5"/>
<circle cx="275.7" cy="627.3" r="4.45" fill="#fc8a3a" fill-opacity="0.5"/>
<circle cx="280.1" cy="622.1" r="4.45" fill="#fc8a3a" fill-opacity="0.5"/>
<circle cx="245.3" cy="631.7" r="4.45" fill="#fc8a3a" fill-opacity="0.5"/>
<circle cx="235.7" cy="635.2" r="4.45" fill="#fc8a3a" fill-opacity="0.5"/>
<circle cx="240.0" cy="635.7" r="4.45" fill="#fc8a3a" fill-opacity="0.5"/>
<circle cx="255.7" cy="632.6" r="4.45" fill="#fc8a3a" fill-opacity="0.5"/>
<circle cx="264.4" cy="636.0" r="4.45" fill="#fc8a3a" fill-opacity="0.5"/>
<circle cx="270.2" cy="638.7" r="4.45" fill="#fc8a3a" fill-opacity="0.5"/>
<circle cx="284.5" cy="634.3" r="4.45" fill="#fc8a3a" fill-opacity="0.5"/>
<circle cx="239.5" cy="767.2" r="4.45" fill="#fc8a3a" fill-opacity="0.5"/>
<circle cx="254.8" cy="766.0" r="4.45" fill="#fc8a3a" fill-opacity="0.5"/>
<circle cx="264.9" cy="766.0" r="4.45" fill="#fc8a3a" fill-opacity="0.5"/>
<circle cx="266.2" cy="759.9" r="4.45" fill="#fc8a3a" fill-opacity="0.5"/>
<circle cx="272.3" cy="772.1" r="4.45" fill="#fc8a3a" fill-opacity="0.5"/>
<circle cx="281.8" cy="766.0" r="4.45" fill="#fc8a3a" fill-opacity="0.5"/>
<circle cx="283.6" cy="759.0" r="4.45" fill="#fc8a3a" fill-opacity="0.5"/>
<circle cx="291.4" cy="756.4" r="4.45" fill="#fc8a3a" fill-opacity="0.5"/>
<circle cx="261.8" cy="779.1" r="4.45" fill="#fc8a3a" fill-opacity="0.5"/>
<circle cx="255.7" cy="782.6" r="4.45" fill="#fc8a3a" fill-opacity="0.5"/>
<circle cx="240.6" cy="789.5" r="4.45" fill="#fc8a3a" fill-opacity="0.5"/>
<circle cx="235.3" cy="800.0" r="4.45" fill="#fc8a3a" fill-opacity="0.5"/>
<circle cx="248.7" cy="800.0" r="4.45" fill="#fc8a3a" fill-opacity="0.5"/>
<circle cx="262.2" cy="803.5" r="4.45" fill="#fc8a3a" fill-opacity="0.5"/>
<circle cx="262.7" cy="814.3" r="4.45" fill="#fc8a3a" fill-opacity="0.5"/>
<circle cx="287.1" cy="813.0" r="4.45" fill="#fc8a3a" fill-opacity="0.5"/>
<circle cx="297.2" cy="815.7" r="4.45" fill="#fc8a3a" fill-opacity="0.5"/>
<circle cx="251.0" cy="823.9" r="4.45" fill="#fc8a3a" fill-opacity="0.5"/>
<circle cx="272.8" cy="823.9" r="4.45" fill="#fc8a3a" fill-opacity="0.5"/>
<circle cx="281.8" cy="826.5" r="4.45" fill="#fc8a3a" fill-opacity="0.5"/>
<circle cx="264.4" cy="831.3" r="4.45" fill="#fc8a3a" fill-opacity="0.5"/>
<circle cx="286.8" cy="652.2" r="4.45" fill="#fc8a3a" fill-opacity="0.5"/>
<circle cx="301.6" cy="643.6" r="4.45" fill="#fc8a3a" fill-opacity="0.5"/>
<circle cx="300.2" cy="646.4" r="4.45" fill="#fc8a3a" fill-opacity="0.5"/>
<circle cx="266.4" cy="682.0" r="4.45" fill="#fc8a3a" fill-opacity="0.5"/>
<circle cx="279.9" cy="636.2" r="4.45" fill="#fc8a3a" fill-opacity="0.5"/>
<circle cx="240.3" cy="638.3" r="4.45" fill="#fc8a3a" fill-opacity="0.5"/>
<circle cx="250.1" cy="659.9" r="4.45" fill="#fc8a3a" fill-opacity="0.5"/>
<circle cx="274.4" cy="656.2" r="4.45" fill="#fc8a3a" fill-opacity="0.5"/>
<circle cx="247.9" cy="682.8" r="4.45" fill="#fc8a3a" fill-opacity="0.5"/>
<circle cx="299.7" cy="669.4" r="4.45" fill="#fc8a3a" fill-opacity="0.5"/>
<circle cx="243.7" cy="645.1" r="4.45" fill="#fc8a3a" fill-opacity="0.5"/>
<circle cx="242.2" cy="643.5" r="4.45" fill="#fc8a3a" fill-opacity="0.5"/>
<circle cx="241.3" cy="652.5" r="4.45" fill="#fc8a3a" fill-opacity="0.5"/>
<circle cx="296.4" cy="683.3" r="4.45" fill="#fc8a3a" fill-opacity="0.5"/>
<circle cx="247.8" cy="672.9" r="4.45" fill="#fc8a3a" fill-opacity="0.5"/>
<circle cx="296.5" cy="634.2" r="4.45" fill="#fc8a3a" fill-opacity="0.5"/>
<circle cx="303.0" cy="668.9" r="4.45" fill="#fc8a3a" fill-opacity="0.5"/>
<circle cx="282.1" cy="656.4" r="4.45" fill="#fc8a3a" fill-opacity="0.5"/>
<circle cx="301.5" cy="673.2" r="4.45" fill="#fc8a3a" fill-opacity="0.5"/>
<circle cx="303.4" cy="648.8" r="4.45" fill="#fc8a3a" fill-opacity="0.5"/>
<circle cx="254.0" cy="638.7" r="4.45" fill="#fc8a3a" fill-opacity="0.5"/>
<circle cx="244.2" cy="665.3" r="4.45" fill="#fc8a3a" fill-opacity="0.5"/>
<circle cx="236.7" cy="676.1" r="4.45" fill="#fc8a3a" fill-opacity="0.5"/>
<circle cx="276.5" cy="668.3" r="4.45" fill="#fc8a3a" fill-opacity="0.5"/>
<circle cx="282.1" cy="683.3" r="4.45" fill="#fc8a3a" fill-opacity="0.5"/>
<circle cx="254.8" cy="666.5" r="4.45" fill="#fc8a3a" fill-opacity="0.5"/>
<circle cx="267.5" cy="642.4" r="4.45" fill="#fc8a3a" fill-opacity="0.5"/>
<circle cx="267.5" cy="667.6" r="4.45" fill="#fc8a3a" fill-opacity="0.5"/>
<circle cx="236.1" cy="648.1" r="4.45" fill="#fc8a3a" fill-opacity="0.5"/>
<circle cx="233.6" cy="634.6" r="4.45" fill="#fc8a3a" fill-opacity="0.5"/>
<circle cx="294.4" cy="645.9" r="4.45" fill="#fc8a3a" fill-opacity="0.5"/>
<circle cx="290.2" cy="682.5" r="4.45" fill="#fc8a3a" fill-opacity="0.5"/>
<circle cx="274.7" cy="665.1" r="4.45" fill="#fc8a3a" fill-opacity="0.5"/>
<circle cx="235.4" cy="683.0" r="4.45" fill="#fc8a3a" fill-opacity="0.5"/>
<circle cx="302.6" cy="674.4" r="4.45" fill="#fc8a3a" fill-opacity="0.5"/>
<circle cx="287.8" cy="673.6" r="4.45" fill="#fc8a3a" fill-opacity="0.5"/>
<circle cx="301.6" cy="636.9" r="4.45" fill="#fc8a3a" fill-opacity="0.5"/>
<circle cx="258.2" cy="666.2" r="4.45" fill="#fc8a3a" fill-opacity="0.5"/>
<circle cx="289.3" cy="657.2" r="4.45" fill="#fc8a3a" fill-opacity="0.5"/>
<circle cx="287.3" cy="678.0" r="4.45" fill="#fc8a3a" fill-opacity="0.5"/>
<circle cx="295.5" cy="643.5" r="4.45" fill="#fc8a3a" fill-opacity="0.5"/>
<circle cx="301.9" cy="681.6" r="4.45" fill="#fc8a3a" fill-opacity="0.5"/>
<circle cx="257.1" cy="678.9" r="4.45" fill="#fc8a3a" fill-opacity="0.5"/>
<circle cx="299.8" cy="652.8" r="4.45" fill="#fc8a3a" fill-opacity="0.5"/>
<circle cx="300.3" cy="666.4" r="4.45" fill="#fc8a3a" fill-opacity="0.5"/>
<circle cx="255.0" cy="656.1" r="4.45" fill="#fc8a3a" fill-opacity="0.5"/>
<circle cx="245.0" cy="667.6" r="4.45" fill="#fc8a3a" fill-opacity="0.5"/>
<circle cx="242.9" cy="679.5" r="4.45" fill="#fc8a3a" fill-opacity="0.5"/>
<circle cx="305.7" cy="648.9" r="4.45" fill="#fc8a3a" fill-opacity="0.5"/>
<circle cx="235.5" cy="675.3" r="4.45" fill="#fc8a3a" fill-opacity="0.5"/>
<circle cx="271.4" cy="634.0" r="4.45" fill="#fc8a3a" fill-opacity="0.5"/>
<circle cx="249.5" cy="663.1" r="4.45" fill="#fc8a3a" fill-opacity="0.5"/>
<circle cx="293.0" cy="653.7" r="4.45" fill="#fc8a3a" fill-opacity="0.5"/>
<circle cx="263.1" cy="660.6" r="4.45" fill="#fc8a3a" fill-opacity="0.5"/>
<circle cx="299.7" cy="680.6" r="4.45" fill="#fc8a3a" fill-opacity="0.5"/>
<circle cx="268.4" cy="681.8" r="4.45" fill="#fc8a3a" fill-opacity="0.5"/>
<circle cx="241.6" cy="641.4" r="4.45" fill="#fc8a3a" fill-opacity="0.5"/>
<circle cx="302.2" cy="646.8" r="4.45" fill="#fc8a3a" fill-opacity="0.5"/>
<circle cx="290.2" cy="651.9" r="4.45" fill="#fc8a3a" fill-opacity="0.5"/>
<circle cx="264.1" cy="678.1" r="4.45" fill="#fc8a3a" fill-opacity="0.5"/>
<circle cx="294.4" cy="676.0" r="4.45" fill="#fc8a3a" fill-opacity="0.5"/>
<circle cx="265.4" cy="668.7" r="4.45" fill="#fc8a3a" fill-opacity="0.5"/>
<circle cx="295.0" cy="633.4" r="4.45" fill="#fc8a3a" fill-opacity="0.5"/>
<circle cx="265.5" cy="634.6" r="4.45" fill="#fc8a3a" fill-opacity="0.5"/>
<circle cx="285.9" cy="659.0" r="4.45" fill="#fc8a3a" fill-opacity="0.5"/>
<circle cx="253.4" cy="659.4" r="4.45" fill="#fc8a3a" fill-opacity="0.5"/>
<circle cx="242.7" cy="663.2" r="4.45" fill="#fc8a3a" fill-opacity="0.5"/>
<circle cx="305.0" cy="664.6" r="4.45" fill="#fc8a3a" fill-opacity="0.5"/>
<circle cx="278.3" cy="635.4" r="4.45" fill="#fc8a3a" fill-opacity="0.5"/>
<circle cx="256.9" cy="658.4" r="4.45" fill="#fc8a3a" fill-opacity="0.5"/>
<circle cx="252.1" cy="679.0" r="4.45" fill="#fc8a3a" fill-opacity="0.5"/>
<circle cx="296.1" cy="644.3" r="4.45" fill="#fc8a3a" fill-opacity="0.5"/>
<circle cx="290.1" cy="665.3" r="4.45" fill="#fc8a3a" fill-opacity="0.5"/>
<circle cx="283.3" cy="644.6" r="4.45" fill="#fc8a3a" fill-opacity="0.5"/>
<circle cx="288.1" cy="650.2" r="4.45" fill="#fc8a3a" fill-opacity="0.5"/>
<circle cx="284.0" cy="665.2" r="4.45" fill="#fc8a3a" fill-opacity="0.5"/>
<circle cx="267.8" cy="669.4" r="4.45" fill="#fc8a3a" fill-opacity="0.5"/>
<circle cx="283.0" cy="644.9" r="4.45" fill="#fc8a3a" fill-opacity="0.5"/>
<circle cx="301.9" cy="668.7" r="4.45" fill="#fc8a3a" fill-opacity="0.5"/>
<circle cx="274.9" cy="650.9" r="4.45" fill="#fc8a3a" fill-opacity="0.5"/>
<circle cx="272.4" cy="682.9" r="4.45" fill="#fc8a3a" fill-opacity="0.5"/>
<circle cx="281.6" cy="670.9" r="4.45" fill="#fc8a3a" fill-opacity="0.5"/>
<circle cx="292.3" cy="660.2" r="4.45" fill="#fc8a3a" fill-opacity="0.5"/>
<circle cx="290.9" cy="651.0" r="4.45" fill="#fc8a3a" fill-opacity="0.5"/>
<circle cx="279.6" cy="666.0" r="4.45" fill="#fc8a3a" fill-opacity="0.5"/>
<circle cx="293.2" cy="646.5" r="4.45" fill="#fc8a3a" fill-opacity="0.5"/>
<circle cx="294.3" cy="665.9" r="4.45" fill="#fc8a3a" fill-opacity="0.5"/>
<circle cx="282.8" cy="639.9" r="4.45" fill="#fc8a3a" fill-opacity="0.5"/>
<circle cx="302.7" cy="634.5" r="4.45" fill="#fc8a3a" fill-opacity="0.5"/>
<circle cx="271.1" cy="657.5" r="4.45" fill="#fc8a3a" fill-opacity="0.5"/>
<circle cx="293.8" cy="675.1" r="4.45" fill="#fc8a3a" fill-opacity="0.5"/>
<circle cx="267.2" cy="636.5" r="4.45" fill="#fc8a3a" fill-opacity="0.5"/>
<circle cx="285.2" cy="712.8" r="4.45" fill="#fc8a3a" fill-opacity="0.5"/>
<circle cx="244.6" cy="710.7" r="4.45" fill="#fc8a3a" fill-opacity="0.5"/>
<circle cx="274.9" cy="708.1" r="4.45" fill="#fc8a3a" fill-opacity="0.5"/>
<circle cx="263.0" cy="714.2" r="4.45" fill="#fc8a3a" fill-opacity="0.5"/>
<circle cx="289.2" cy="716.4" r="4.45" fill="#fc8a3a" fill-opacity="0.5"/>
<circle cx="285.2" cy="715.7" r="4.45" fill="#fc8a3a" fill-opacity="0.5"/>
<circle cx="243.7" cy="748.0" r="4.45" fill="#fc8a3a" fill-opacity="0.5"/>
<circle cx="280.0" cy="726.1" r="4.45" fill="#fc8a3a" fill-opacity="0.5"/>
<circle cx="282.7" cy="737.9" r="4.45" fill="#fc8a3a" fill-opacity="0.5"/>
<circle cx="235.0" cy="716.0" r="4.45" fill="#fc8a3a" fill-opacity="0.5"/>
<circle cx="248.6" cy="724.5" r="4.45" fill="#fc8a3a" fill-opacity="0.5"/>
<circle cx="241.8" cy="746.6" r="4.45" fill="#fc8a3a" fill-opacity="0.5"/>
<circle cx="245.3" cy="732.6" r="4.45" fill="#fc8a3a" fill-opacity="0.5"/>
<circle cx="234.5" cy="739.2" r="4.45" fill="#fc8a3a" fill-opacity="0.5"/>
<circle cx="260.0" cy="724.8" r="4.45" fill="#fc8a3a" fill-opacity="0.5"/>
<circle cx="275.6" cy="717.0" r="4.45" fill="#fc8a3a" fill-opacity="0.5"/>
<circle cx="298.7" cy="736.9" r="4.45" fill="#fc8a3a" fill-opacity="0.5"/>
<circle cx="261.9" cy="749.4" r="4.45" fill="#fc8a3a" fill-opacity="0.5"/>
<circle cx="262.2" cy="734.7" r="4.45" fill="#fc8a3a" fill-opacity="0.5"/>
<circle cx="293.4" cy="743.4" r="4.45" fill="#fc8a3a" fill-opacity="0.5"/>
<circle cx="234.6" cy="729.6" r="4.45" fill="#fc8a3a" fill-opacity="0.5"/>
<circle cx="238.9" cy="716.9" r="4.45" fill="#fc8a3a" fill-opacity="0.5"/>
<circle cx="257.0" cy="720.5" r="4.45" fill="#fc8a3a" fill-opacity="0.5"/>
<circle cx="302.8" cy="718.7" r="4.45" fill="#fc8a3a" fill-opacity="0.5"/>
<circle cx="262.9" cy="706.0" r="4.45" fill="#fc8a3a" fill-opacity="0.5"/>
<circle cx="279.4" cy="706.3" r="4.45" fill="#fc8a3a" fill-opacity="0.5"/>
<circle cx="242.4" cy="729.9" r="4.45" fill="#fc8a3a" fill-opacity="0.5"/>
<circle cx="273.6" cy="717.9" r="4.45" fill="#fc8a3a" fill-opacity="0.5"/>
<circle cx="303.5" cy="698.7" r="4.45" fill="#fc8a3a" fill-opacity="0.5"/>
<circle cx="257.9" cy="717.2" r="4.45" fill="#fc8a3a" fill-opacity="0.5"/>
<circle cx="232.0" cy="702.1" r="4.45" fill="#fc8a3a" fill-opacity="0.5"/>
<circle cx="273.8" cy="743.7" r="4.45" fill="#fc8a3a" fill-opacity="0.5"/>
<circle cx="242.3" cy="716.8" r="4.45" fill="#fc8a3a" fill-opacity="0.5"/>
<circle cx="297.9" cy="716.1" r="4.45" fill="#fc8a3a" fill-opacity="0.5"/>
<circle cx="263.8" cy="729.5" r="4.45" fill="#fc8a3a" fill-opacity="0.5"/>
<circle cx="253.5" cy="737.5" r="4.45" fill="#fc8a3a" fill-opacity="0.5"/>
<circle cx="260.0" cy="697.9" r="4.45" fill="#fc8a3a" fill-opacity="0.5"/>
<circle cx="299.5" cy="698.5" r="4.45" fill="#fc8a3a" fill-opacity="0.5"/>
<circle cx="251.1" cy="717.9" r="4.45" fill="#fc8a3a" fill-opacity="0.5"/>
<circle cx="268.6" cy="697.4" r="4.45" fill="#fc8a3a" fill-opacity="0.5"/>
<circle cx="255.5" cy="727.4" r="4.45" fill="#fc8a3a" fill-opacity="0.5"/>
<circle cx="268.3" cy="697.3" r="4.45" fill="#fc8a3a" fill-opacity="0.5"/>
<circle cx="267.2" cy="734.3" r="4.45" fill="#fc8a3a" fill-opacity="0.5"/>
<circle cx="277.9" cy="743.0" r="4.45" fill="#fc8a3a" fill-opacity="0.5"/>
<circle cx="253.6" cy="725.9" r="4.45" fill="#fc8a3a" fill-opacity="0.5"/>
<circle cx="293.1" cy="708.0" r="4.45" fill="#fc8a3a" fill-opacity="0.5"/>
<circle cx="271.3" cy="748.8" r="4.45" fill="#fc8a3a" fill-opacity="0.5"/>
<circle cx="301.1" cy="734.9" r="4.45" fill="#fc8a3a" fill-opacity="0.5"/>
<circle cx="250.1" cy="708.0" r="4.45" fill="#fc8a3a" fill-opacity="0.5"/>
<circle cx="243.4" cy="735.3" r="4.45" fill="#fc8a3a" fill-opacity="0.5"/>
<circle cx="253.6" cy="697.0" r="4.45" fill="#fc8a3a" fill-opacity="0.5"/>
<circle cx="267.0" cy="717.2" r="4.45" fill="#fc8a3a" fill-opacity="0.5"/>
<circle cx="276.6" cy="715.3" r="4.45" fill="#fc8a3a" fill-opacity="0.5"/>
<circle cx="240.6" cy="710.0" r="4.45" fill="#fc8a3a" fill-opacity="0.5"/>
<circle cx="254.2" cy="709.1" r="4.45" fill="#fc8a3a" fill-opacity="0.5"/>
<circle cx="256.8" cy="721.2" r="4.45" fill="#fc8a3a" fill-opacity="0.5"/>
<circle cx="271.1" cy="733.7" r="4.45" fill="#fc8a3a" fill-opacity="0.5"/>
<circle cx="258.6" cy="724.8" r="4.45" fill="#fc8a3a" fill-opacity="0.5"/>
<circle cx="275.6" cy="709.9" r="4.45" fill="#fc8a3a" fill-opacity="0.5"/>
<circle cx="250.6" cy="747.5" r="4.45" fill="#fc8a3a" fill-opacity="0.5"/>
<circle cx="299.7" cy="725.3" r="4.45" fill="#fc8a3a" fill-opacity="0.5"/>
<circle cx="272.3" cy="702.4" r="4.45" fill="#fc8a3a" fill-opacity="0.5"/>
<circle cx="289.5" cy="748.7" r="4.45" fill="#fc8a3a" fill-opacity="0.5"/>
<circle cx="274.5" cy="726.8" r="4.45" fill="#fc8a3a" fill-opacity="0.5"/>
<circle cx="278.7" cy="711.9" r="4.45" fill="#fc8a3a" fill-opacity="0.5"/>
<circle cx="299.4" cy="723.9" r="4.45" fill="#fc8a3a" fill-opacity="0.5"/>
<circle cx="260.9" cy="729.0" r="4.45" fill="#fc8a3a" fill-opacity="0.5"/>
<circle cx="246.4" cy="704.3" r="4.45" fill="#fc8a3a" fill-opacity="0.5"/>
<circle cx="293.3" cy="733.7" r="4.45" fill="#fc8a3a" fill-opacity="0.5"/>
<circle cx="293.8" cy="746.0" r="4.45" fill="#fc8a3a" fill-opacity="0.5"/>
<circle cx="263.9" cy="712.6" r="4.45" fill="#fc8a3a" fill-opacity="0.5"/>
<circle cx="289.7" cy="734.3" r="4.45" fill="#fc8a3a" fill-opacity="0.5"/>
<circle cx="242.5" cy="701.2" r="4.45" fill="#fc8a3a" fill-opacity="0.5"/>
<circle cx="272.5" cy="724.1" r="4.45" fill="#fc8a3a" fill-opacity="0.5"/>
<circle cx="256.4" cy="723.1" r="4.45" fill="#fc8a3a" fill-opacity="0.5"/>
<line x1="232.7" y1="689.0" x2="305.1" y2="689.0" stroke="#fc8a3a" stroke-width="9" stroke-linecap="round" stroke-opacity="0.92"/>
<circle cx="373.2" cy="576.0" r="4.45" fill="#fb5229" fill-opacity="0.5"/>
<circle cx="418.2" cy="596.6" r="4.45" fill="#fb5229" fill-opacity="0.5"/>
<circle cx="383.9" cy="606.5" r="4.45" fill="#fb5229" fill-opacity="0.5"/>
<circle cx="406.7" cy="607.6" r="4.45" fill="#fb5229" fill-opacity="0.5"/>
<circle cx="426.6" cy="607.3" r="4.45" fill="#fb5229" fill-opacity="0.5"/>
<circle cx="427.3" cy="614.1" r="4.45" fill="#fb5229" fill-opacity="0.5"/>
<circle cx="368.6" cy="622.5" r="4.45" fill="#fb5229" fill-opacity="0.5"/>
<circle cx="418.9" cy="634.4" r="4.45" fill="#fb5229" fill-opacity="0.5"/>
<circle cx="364.1" cy="631.6" r="4.45" fill="#fb5229" fill-opacity="0.5"/>
<circle cx="376.2" cy="632.4" r="4.45" fill="#fb5229" fill-opacity="0.5"/>
<circle cx="385.4" cy="637.0" r="4.45" fill="#fb5229" fill-opacity="0.5"/>
<circle cx="399.1" cy="640.8" r="4.45" fill="#fb5229" fill-opacity="0.5"/>
<circle cx="409.0" cy="639.3" r="4.45" fill="#fb5229" fill-opacity="0.5"/>
<circle cx="362.5" cy="644.6" r="4.45" fill="#fb5229" fill-opacity="0.5"/>
<circle cx="368.6" cy="648.4" r="4.45" fill="#fb5229" fill-opacity="0.5"/>
<circle cx="396.1" cy="649.9" r="4.45" fill="#fb5229" fill-opacity="0.5"/>
<circle cx="396.8" cy="730.7" r="4.45" fill="#fb5229" fill-opacity="0.5"/>
<circle cx="389.2" cy="736.1" r="4.45" fill="#fb5229" fill-opacity="0.5"/>
<circle cx="402.9" cy="739.9" r="4.45" fill="#fb5229" fill-opacity="0.5"/>
<circle cx="381.6" cy="745.2" r="4.45" fill="#fb5229" fill-opacity="0.5"/>
<circle cx="396.1" cy="744.5" r="4.45" fill="#fb5229" fill-opacity="0.5"/>
<circle cx="388.4" cy="752.1" r="4.45" fill="#fb5229" fill-opacity="0.5"/>
<circle cx="398.4" cy="751.3" r="4.45" fill="#fb5229" fill-opacity="0.5"/>
<circle cx="395.3" cy="758.2" r="4.45" fill="#fb5229" fill-opacity="0.5"/>
<circle cx="390.7" cy="762.0" r="4.45" fill="#fb5229" fill-opacity="0.5"/>
<circle cx="359.5" cy="756.6" r="4.45" fill="#fb5229" fill-opacity="0.5"/>
<circle cx="368.6" cy="772.7" r="4.45" fill="#fb5229" fill-opacity="0.5"/>
<circle cx="394.5" cy="778.0" r="4.45" fill="#fb5229" fill-opacity="0.5"/>
<circle cx="408.3" cy="772.7" r="4.45" fill="#fb5229" fill-opacity="0.5"/>
<circle cx="395.3" cy="800.9" r="4.45" fill="#fb5229" fill-opacity="0.5"/>
<circle cx="395.3" cy="813.8" r="4.45" fill="#fb5229" fill-opacity="0.5"/>
<circle cx="401.1" cy="678.9" r="4.45" fill="#fb5229" fill-opacity="0.5"/>
<circle cx="362.8" cy="643.5" r="4.45" fill="#fb5229" fill-opacity="0.5"/>
<circle cx="418.3" cy="674.8" r="4.45" fill="#fb5229" fill-opacity="0.5"/>
<circle cx="406.8" cy="644.6" r="4.45" fill="#fb5229" fill-opacity="0.5"/>
<circle cx="411.2" cy="685.8" r="4.45" fill="#fb5229" fill-opacity="0.5"/>
<circle cx="431.6" cy="634.5" r="4.45" fill="#fb5229" fill-opacity="0.5"/>
<circle cx="361.3" cy="649.4" r="4.45" fill="#fb5229" fill-opacity="0.5"/>
<circle cx="373.9" cy="641.8" r="4.45" fill="#fb5229" fill-opacity="0.5"/>
<circle cx="428.2" cy="652.4" r="4.45" fill="#fb5229" fill-opacity="0.5"/>
<circle cx="367.7" cy="648.8" r="4.45" fill="#fb5229" fill-opacity="0.5"/>
<circle cx="425.6" cy="671.4" r="4.45" fill="#fb5229" fill-opacity="0.5"/>
<circle cx="402.9" cy="679.1" r="4.45" fill="#fb5229" fill-opacity="0.5"/>
<circle cx="369.6" cy="664.9" r="4.45" fill="#fb5229" fill-opacity="0.5"/>
<circle cx="360.9" cy="653.7" r="4.45" fill="#fb5229" fill-opacity="0.5"/>
<circle cx="385.8" cy="681.3" r="4.45" fill="#fb5229" fill-opacity="0.5"/>
<circle cx="362.0" cy="683.3" r="4.45" fill="#fb5229" fill-opacity="0.5"/>
<circle cx="412.6" cy="656.2" r="4.45" fill="#fb5229" fill-opacity="0.5"/>
<circle cx="367.6" cy="639.9" r="4.45" fill="#fb5229" fill-opacity="0.5"/>
<circle cx="381.0" cy="663.9" r="4.45" fill="#fb5229" fill-opacity="0.5"/>
<circle cx="393.9" cy="654.9" r="4.45" fill="#fb5229" fill-opacity="0.5"/>
<circle cx="385.4" cy="636.7" r="4.45" fill="#fb5229" fill-opacity="0.5"/>
<circle cx="409.3" cy="684.1" r="4.45" fill="#fb5229" fill-opacity="0.5"/>
<circle cx="404.4" cy="679.0" r="4.45" fill="#fb5229" fill-opacity="0.5"/>
<circle cx="425.1" cy="659.9" r="4.45" fill="#fb5229" fill-opacity="0.5"/>
<circle cx="403.6" cy="657.3" r="4.45" fill="#fb5229" fill-opacity="0.5"/>
<circle cx="398.5" cy="673.0" r="4.45" fill="#fb5229" fill-opacity="0.5"/>
<circle cx="413.2" cy="673.5" r="4.45" fill="#fb5229" fill-opacity="0.5"/>
<circle cx="367.6" cy="659.3" r="4.45" fill="#fb5229" fill-opacity="0.5"/>
<circle cx="385.2" cy="674.5" r="4.45" fill="#fb5229" fill-opacity="0.5"/>
<circle cx="371.0" cy="647.5" r="4.45" fill="#fb5229" fill-opacity="0.5"/>
<circle cx="406.2" cy="648.8" r="4.45" fill="#fb5229" fill-opacity="0.5"/>
<circle cx="407.1" cy="682.6" r="4.45" fill="#fb5229" fill-opacity="0.5"/>
<circle cx="366.9" cy="682.2" r="4.45" fill="#fb5229" fill-opacity="0.5"/>
<circle cx="375.4" cy="655.2" r="4.45" fill="#fb5229" fill-opacity="0.5"/>
<circle cx="393.3" cy="640.0" r="4.45" fill="#fb5229" fill-opacity="0.5"/>
<circle cx="416.6" cy="669.8" r="4.45" fill="#fb5229" fill-opacity="0.5"/>
<circle cx="411.4" cy="685.6" r="4.45" fill="#fb5229" fill-opacity="0.5"/>
<circle cx="368.9" cy="684.3" r="4.45" fill="#fb5229" fill-opacity="0.5"/>
<circle cx="408.1" cy="635.9" r="4.45" fill="#fb5229" fill-opacity="0.5"/>
<circle cx="366.3" cy="675.1" r="4.45" fill="#fb5229" fill-opacity="0.5"/>
<circle cx="406.9" cy="634.8" r="4.45" fill="#fb5229" fill-opacity="0.5"/>
<circle cx="368.0" cy="643.0" r="4.45" fill="#fb5229" fill-opacity="0.5"/>
<circle cx="383.9" cy="653.5" r="4.45" fill="#fb5229" fill-opacity="0.5"/>
<circle cx="382.4" cy="674.5" r="4.45" fill="#fb5229" fill-opacity="0.5"/>
<circle cx="383.5" cy="654.1" r="4.45" fill="#fb5229" fill-opacity="0.5"/>
<circle cx="367.8" cy="666.4" r="4.45" fill="#fb5229" fill-opacity="0.5"/>
<circle cx="405.6" cy="642.4" r="4.45" fill="#fb5229" fill-opacity="0.5"/>
<circle cx="389.8" cy="643.9" r="4.45" fill="#fb5229" fill-opacity="0.5"/>
<circle cx="396.0" cy="641.3" r="4.45" fill="#fb5229" fill-opacity="0.5"/>
<circle cx="400.1" cy="655.3" r="4.45" fill="#fb5229" fill-opacity="0.5"/>
<circle cx="387.0" cy="647.3" r="4.45" fill="#fb5229" fill-opacity="0.5"/>
<circle cx="360.2" cy="681.9" r="4.45" fill="#fb5229" fill-opacity="0.5"/>
<circle cx="360.6" cy="676.3" r="4.45" fill="#fb5229" fill-opacity="0.5"/>
<circle cx="393.3" cy="639.3" r="4.45" fill="#fb5229" fill-opacity="0.5"/>
<circle cx="357.7" cy="646.2" r="4.45" fill="#fb5229" fill-opacity="0.5"/>
<circle cx="423.5" cy="661.9" r="4.45" fill="#fb5229" fill-opacity="0.5"/>
<circle cx="389.4" cy="653.8" r="4.45" fill="#fb5229" fill-opacity="0.5"/>
<circle cx="365.1" cy="662.1" r="4.45" fill="#fb5229" fill-opacity="0.5"/>
<circle cx="369.5" cy="678.8" r="4.45" fill="#fb5229" fill-opacity="0.5"/>
<circle cx="386.2" cy="667.0" r="4.45" fill="#fb5229" fill-opacity="0.5"/>
<circle cx="369.0" cy="639.8" r="4.45" fill="#fb5229" fill-opacity="0.5"/>
<circle cx="378.2" cy="673.5" r="4.45" fill="#fb5229" fill-opacity="0.5"/>
<circle cx="378.9" cy="678.5" r="4.45" fill="#fb5229" fill-opacity="0.5"/>
<circle cx="393.4" cy="674.5" r="4.45" fill="#fb5229" fill-opacity="0.5"/>
<circle cx="426.1" cy="685.4" r="4.45" fill="#fb5229" fill-opacity="0.5"/>
<circle cx="427.1" cy="667.3" r="4.45" fill="#fb5229" fill-opacity="0.5"/>
<circle cx="407.6" cy="650.1" r="4.45" fill="#fb5229" fill-opacity="0.5"/>
<circle cx="427.7" cy="661.8" r="4.45" fill="#fb5229" fill-opacity="0.5"/>
<circle cx="407.2" cy="680.8" r="4.45" fill="#fb5229" fill-opacity="0.5"/>
<circle cx="407.6" cy="671.5" r="4.45" fill="#fb5229" fill-opacity="0.5"/>
<circle cx="369.8" cy="647.9" r="4.45" fill="#fb5229" fill-opacity="0.5"/>
<circle cx="359.5" cy="676.3" r="4.45" fill="#fb5229" fill-opacity="0.5"/>
<circle cx="363.5" cy="674.7" r="4.45" fill="#fb5229" fill-opacity="0.5"/>
<circle cx="429.7" cy="665.6" r="4.45" fill="#fb5229" fill-opacity="0.5"/>
<circle cx="380.8" cy="667.6" r="4.45" fill="#fb5229" fill-opacity="0.5"/>
<circle cx="378.7" cy="662.0" r="4.45" fill="#fb5229" fill-opacity="0.5"/>
<circle cx="410.8" cy="647.7" r="4.45" fill="#fb5229" fill-opacity="0.5"/>
<circle cx="375.5" cy="678.4" r="4.45" fill="#fb5229" fill-opacity="0.5"/>
<circle cx="427.3" cy="651.0" r="4.45" fill="#fb5229" fill-opacity="0.5"/>
<circle cx="389.6" cy="652.4" r="4.45" fill="#fb5229" fill-opacity="0.5"/>
<circle cx="358.2" cy="634.7" r="4.45" fill="#fb5229" fill-opacity="0.5"/>
<circle cx="415.4" cy="683.9" r="4.45" fill="#fb5229" fill-opacity="0.5"/>
<circle cx="361.0" cy="665.1" r="4.45" fill="#fb5229" fill-opacity="0.5"/>
<circle cx="430.9" cy="657.6" r="4.45" fill="#fb5229" fill-opacity="0.5"/>
<circle cx="383.6" cy="659.2" r="4.45" fill="#fb5229" fill-opacity="0.5"/>
<circle cx="363.0" cy="682.1" r="4.45" fill="#fb5229" fill-opacity="0.5"/>
<circle cx="394.0" cy="638.8" r="4.45" fill="#fb5229" fill-opacity="0.5"/>
<circle cx="361.7" cy="636.8" r="4.45" fill="#fb5229" fill-opacity="0.5"/>
<circle cx="361.4" cy="674.0" r="4.45" fill="#fb5229" fill-opacity="0.5"/>
<circle cx="362.2" cy="665.8" r="4.45" fill="#fb5229" fill-opacity="0.5"/>
<circle cx="387.9" cy="673.4" r="4.45" fill="#fb5229" fill-opacity="0.5"/>
<circle cx="361.5" cy="670.7" r="4.45" fill="#fb5229" fill-opacity="0.5"/>
<circle cx="429.6" cy="685.1" r="4.45" fill="#fb5229" fill-opacity="0.5"/>
<circle cx="395.3" cy="677.5" r="4.45" fill="#fb5229" fill-opacity="0.5"/>
<circle cx="397.0" cy="665.5" r="4.45" fill="#fb5229" fill-opacity="0.5"/>
<circle cx="380.9" cy="677.7" r="4.45" fill="#fb5229" fill-opacity="0.5"/>
<circle cx="397.8" cy="677.1" r="4.45" fill="#fb5229" fill-opacity="0.5"/>
<circle cx="402.0" cy="657.5" r="4.45" fill="#fb5229" fill-opacity="0.5"/>
<circle cx="373.6" cy="659.1" r="4.45" fill="#fb5229" fill-opacity="0.5"/>
<circle cx="397.6" cy="679.3" r="4.45" fill="#fb5229" fill-opacity="0.5"/>
<circle cx="400.0" cy="668.0" r="4.45" fill="#fb5229" fill-opacity="0.5"/>
<circle cx="404.0" cy="670.6" r="4.45" fill="#fb5229" fill-opacity="0.5"/>
<circle cx="425.3" cy="662.2" r="4.45" fill="#fb5229" fill-opacity="0.5"/>
<circle cx="390.9" cy="672.3" r="4.45" fill="#fb5229" fill-opacity="0.5"/>
<circle cx="374.3" cy="659.8" r="4.45" fill="#fb5229" fill-opacity="0.5"/>
<circle cx="380.8" cy="676.9" r="4.45" fill="#fb5229" fill-opacity="0.5"/>
<circle cx="414.9" cy="677.6" r="4.45" fill="#fb5229" fill-opacity="0.5"/>
<circle cx="380.9" cy="660.0" r="4.45" fill="#fb5229" fill-opacity="0.5"/>
<circle cx="363.8" cy="676.6" r="4.45" fill="#fb5229" fill-opacity="0.5"/>
<circle cx="363.9" cy="673.8" r="4.45" fill="#fb5229" fill-opacity="0.5"/>
<circle cx="400.4" cy="669.4" r="4.45" fill="#fb5229" fill-opacity="0.5"/>
<circle cx="362.2" cy="673.8" r="4.45" fill="#fb5229" fill-opacity="0.5"/>
<circle cx="361.3" cy="662.8" r="4.45" fill="#fb5229" fill-opacity="0.5"/>
<circle cx="378.9" cy="674.9" r="4.45" fill="#fb5229" fill-opacity="0.5"/>
<circle cx="365.0" cy="670.7" r="4.45" fill="#fb5229" fill-opacity="0.5"/>
<circle cx="380.9" cy="669.6" r="4.45" fill="#fb5229" fill-opacity="0.5"/>
<circle cx="398.9" cy="661.6" r="4.45" fill="#fb5229" fill-opacity="0.5"/>
<circle cx="406.1" cy="658.1" r="4.45" fill="#fb5229" fill-opacity="0.5"/>
<circle cx="400.2" cy="661.4" r="4.45" fill="#fb5229" fill-opacity="0.5"/>
<circle cx="418.1" cy="669.1" r="4.45" fill="#fb5229" fill-opacity="0.5"/>
<circle cx="428.4" cy="663.9" r="4.45" fill="#fb5229" fill-opacity="0.5"/>
<circle cx="409.6" cy="662.2" r="4.45" fill="#fb5229" fill-opacity="0.5"/>
<circle cx="417.8" cy="673.3" r="4.45" fill="#fb5229" fill-opacity="0.5"/>
<circle cx="367.3" cy="670.5" r="4.45" fill="#fb5229" fill-opacity="0.5"/>
<circle cx="370.2" cy="678.1" r="4.45" fill="#fb5229" fill-opacity="0.5"/>
<circle cx="407.7" cy="673.4" r="4.45" fill="#fb5229" fill-opacity="0.5"/>
<circle cx="362.4" cy="672.8" r="4.45" fill="#fb5229" fill-opacity="0.5"/>
<circle cx="398.9" cy="661.3" r="4.45" fill="#fb5229" fill-opacity="0.5"/>
<circle cx="361.4" cy="679.1" r="4.45" fill="#fb5229" fill-opacity="0.5"/>
<circle cx="384.1" cy="676.6" r="4.45" fill="#fb5229" fill-opacity="0.5"/>
<circle cx="427.9" cy="659.0" r="4.45" fill="#fb5229" fill-opacity="0.5"/>
<circle cx="374.8" cy="665.0" r="4.45" fill="#fb5229" fill-opacity="0.5"/>
<circle cx="384.5" cy="669.4" r="4.45" fill="#fb5229" fill-opacity="0.5"/>
<circle cx="358.6" cy="671.8" r="4.45" fill="#fb5229" fill-opacity="0.5"/>
<circle cx="418.9" cy="665.6" r="4.45" fill="#fb5229" fill-opacity="0.5"/>
<circle cx="364.8" cy="662.2" r="4.45" fill="#fb5229" fill-opacity="0.5"/>
<circle cx="370.4" cy="666.9" r="4.45" fill="#fb5229" fill-opacity="0.5"/>
<circle cx="390.7" cy="662.6" r="4.45" fill="#fb5229" fill-opacity="0.5"/>
<circle cx="416.5" cy="657.1" r="4.45" fill="#fb5229" fill-opacity="0.5"/>
<circle cx="381.2" cy="676.9" r="4.45" fill="#fb5229" fill-opacity="0.5"/>
<circle cx="391.8" cy="697.0" r="4.45" fill="#fb5229" fill-opacity="0.5"/>
<circle cx="390.4" cy="717.2" r="4.45" fill="#fb5229" fill-opacity="0.5"/>
<circle cx="427.0" cy="703.2" r="4.45" fill="#fb5229" fill-opacity="0.5"/>
<circle cx="429.5" cy="713.0" r="4.45" fill="#fb5229" fill-opacity="0.5"/>
<circle cx="365.4" cy="710.4" r="4.45" fill="#fb5229" fill-opacity="0.5"/>
<circle cx="388.7" cy="701.2" r="4.45" fill="#fb5229" fill-opacity="0.5"/>
<circle cx="430.1" cy="733.2" r="4.45" fill="#fb5229" fill-opacity="0.5"/>
<circle cx="400.4" cy="734.0" r="4.45" fill="#fb5229" fill-opacity="0.5"/>
<circle cx="423.0" cy="715.2" r="4.45" fill="#fb5229" fill-opacity="0.5"/>
<circle cx="373.7" cy="718.9" r="4.45" fill="#fb5229" fill-opacity="0.5"/>
<circle cx="372.6" cy="723.8" r="4.45" fill="#fb5229" fill-opacity="0.5"/>
<circle cx="384.1" cy="711.8" r="4.45" fill="#fb5229" fill-opacity="0.5"/>
<circle cx="375.6" cy="703.9" r="4.45" fill="#fb5229" fill-opacity="0.5"/>
<circle cx="376.1" cy="720.6" r="4.45" fill="#fb5229" fill-opacity="0.5"/>
<circle cx="419.9" cy="694.2" r="4.45" fill="#fb5229" fill-opacity="0.5"/>
<circle cx="403.4" cy="699.7" r="4.45" fill="#fb5229" fill-opacity="0.5"/>
<circle cx="368.3" cy="718.6" r="4.45" fill="#fb5229" fill-opacity="0.5"/>
<circle cx="394.0" cy="700.5" r="4.45" fill="#fb5229" fill-opacity="0.5"/>
<circle cx="370.2" cy="733.8" r="4.45" fill="#fb5229" fill-opacity="0.5"/>
<circle cx="410.8" cy="731.2" r="4.45" fill="#fb5229" fill-opacity="0.5"/>
<circle cx="372.4" cy="697.6" r="4.45" fill="#fb5229" fill-opacity="0.5"/>
<circle cx="381.7" cy="702.0" r="4.45" fill="#fb5229" fill-opacity="0.5"/>
<circle cx="421.6" cy="706.7" r="4.45" fill="#fb5229" fill-opacity="0.5"/>
<circle cx="416.9" cy="709.3" r="4.45" fill="#fb5229" fill-opacity="0.5"/>
<circle cx="358.4" cy="719.6" r="4.45" fill="#fb5229" fill-opacity="0.5"/>
<circle cx="401.1" cy="713.9" r="4.45" fill="#fb5229" fill-opacity="0.5"/>
<circle cx="386.5" cy="727.6" r="4.45" fill="#fb5229" fill-opacity="0.5"/>
<circle cx="359.7" cy="722.1" r="4.45" fill="#fb5229" fill-opacity="0.5"/>
<circle cx="386.0" cy="722.3" r="4.45" fill="#fb5229" fill-opacity="0.5"/>
<circle cx="409.7" cy="715.4" r="4.45" fill="#fb5229" fill-opacity="0.5"/>
<circle cx="430.4" cy="718.6" r="4.45" fill="#fb5229" fill-opacity="0.5"/>
<circle cx="426.1" cy="701.2" r="4.45" fill="#fb5229" fill-opacity="0.5"/>
<circle cx="407.3" cy="706.3" r="4.45" fill="#fb5229" fill-opacity="0.5"/>
<circle cx="416.8" cy="712.9" r="4.45" fill="#fb5229" fill-opacity="0.5"/>
<circle cx="401.6" cy="720.2" r="4.45" fill="#fb5229" fill-opacity="0.5"/>
<circle cx="396.3" cy="706.9" r="4.45" fill="#fb5229" fill-opacity="0.5"/>
<circle cx="363.5" cy="723.5" r="4.45" fill="#fb5229" fill-opacity="0.5"/>
<circle cx="384.0" cy="731.7" r="4.45" fill="#fb5229" fill-opacity="0.5"/>
<circle cx="413.9" cy="711.0" r="4.45" fill="#fb5229" fill-opacity="0.5"/>
<circle cx="380.4" cy="705.4" r="4.45" fill="#fb5229" fill-opacity="0.5"/>
<circle cx="378.0" cy="696.4" r="4.45" fill="#fb5229" fill-opacity="0.5"/>
<circle cx="363.0" cy="705.4" r="4.45" fill="#fb5229" fill-opacity="0.5"/>
<circle cx="407.3" cy="703.8" r="4.45" fill="#fb5229" fill-opacity="0.5"/>
<circle cx="424.1" cy="695.3" r="4.45" fill="#fb5229" fill-opacity="0.5"/>
<circle cx="419.7" cy="706.5" r="4.45" fill="#fb5229" fill-opacity="0.5"/>
<circle cx="402.9" cy="704.4" r="4.45" fill="#fb5229" fill-opacity="0.5"/>
<circle cx="395.9" cy="726.6" r="4.45" fill="#fb5229" fill-opacity="0.5"/>
<circle cx="375.4" cy="697.8" r="4.45" fill="#fb5229" fill-opacity="0.5"/>
<circle cx="398.0" cy="694.5" r="4.45" fill="#fb5229" fill-opacity="0.5"/>
<circle cx="357.9" cy="718.9" r="4.45" fill="#fb5229" fill-opacity="0.5"/>
<circle cx="370.9" cy="719.0" r="4.45" fill="#fb5229" fill-opacity="0.5"/>
<circle cx="424.3" cy="708.0" r="4.45" fill="#fb5229" fill-opacity="0.5"/>
<circle cx="403.1" cy="697.2" r="4.45" fill="#fb5229" fill-opacity="0.5"/>
<circle cx="365.8" cy="719.2" r="4.45" fill="#fb5229" fill-opacity="0.5"/>
<circle cx="398.7" cy="706.5" r="4.45" fill="#fb5229" fill-opacity="0.5"/>
<circle cx="385.4" cy="705.4" r="4.45" fill="#fb5229" fill-opacity="0.5"/>
<circle cx="373.4" cy="698.2" r="4.45" fill="#fb5229" fill-opacity="0.5"/>
<circle cx="377.5" cy="722.6" r="4.45" fill="#fb5229" fill-opacity="0.5"/>
<circle cx="424.1" cy="709.3" r="4.45" fill="#fb5229" fill-opacity="0.5"/>
<circle cx="404.5" cy="728.4" r="4.45" fill="#fb5229" fill-opacity="0.5"/>
<circle cx="374.3" cy="703.2" r="4.45" fill="#fb5229" fill-opacity="0.5"/>
<circle cx="399.6" cy="732.7" r="4.45" fill="#fb5229" fill-opacity="0.5"/>
<circle cx="422.7" cy="700.6" r="4.45" fill="#fb5229" fill-opacity="0.5"/>
<circle cx="388.5" cy="704.9" r="4.45" fill="#fb5229" fill-opacity="0.5"/>
<circle cx="396.8" cy="717.5" r="4.45" fill="#fb5229" fill-opacity="0.5"/>
<circle cx="380.1" cy="697.4" r="4.45" fill="#fb5229" fill-opacity="0.5"/>
<circle cx="402.5" cy="723.6" r="4.45" fill="#fb5229" fill-opacity="0.5"/>
<circle cx="371.6" cy="694.9" r="4.45" fill="#fb5229" fill-opacity="0.5"/>
<circle cx="366.3" cy="734.1" r="4.45" fill="#fb5229" fill-opacity="0.5"/>
<circle cx="402.4" cy="711.8" r="4.45" fill="#fb5229" fill-opacity="0.5"/>
<circle cx="371.8" cy="727.7" r="4.45" fill="#fb5229" fill-opacity="0.5"/>
<circle cx="405.5" cy="710.5" r="4.45" fill="#fb5229" fill-opacity="0.5"/>
<circle cx="411.6" cy="706.4" r="4.45" fill="#fb5229" fill-opacity="0.5"/>
<circle cx="393.6" cy="732.8" r="4.45" fill="#fb5229" fill-opacity="0.5"/>
<circle cx="428.5" cy="700.4" r="4.45" fill="#fb5229" fill-opacity="0.5"/>
<circle cx="420.6" cy="722.0" r="4.45" fill="#fb5229" fill-opacity="0.5"/>
<circle cx="426.3" cy="708.3" r="4.45" fill="#fb5229" fill-opacity="0.5"/>
<circle cx="409.3" cy="725.8" r="4.45" fill="#fb5229" fill-opacity="0.5"/>
<circle cx="393.0" cy="700.1" r="4.45" fill="#fb5229" fill-opacity="0.5"/>
<circle cx="372.0" cy="731.1" r="4.45" fill="#fb5229" fill-opacity="0.5"/>
<circle cx="364.6" cy="728.8" r="4.45" fill="#fb5229" fill-opacity="0.5"/>
<circle cx="403.3" cy="729.0" r="4.45" fill="#fb5229" fill-opacity="0.5"/>
<circle cx="413.8" cy="731.0" r="4.45" fill="#fb5229" fill-opacity="0.5"/>
<circle cx="418.1" cy="704.5" r="4.45" fill="#fb5229" fill-opacity="0.5"/>
<circle cx="410.5" cy="701.7" r="4.45" fill="#fb5229" fill-opacity="0.5"/>
<circle cx="428.5" cy="696.6" r="4.45" fill="#fb5229" fill-opacity="0.5"/>
<circle cx="429.1" cy="709.2" r="4.45" fill="#fb5229" fill-opacity="0.5"/>
<circle cx="365.3" cy="731.0" r="4.45" fill="#fb5229" fill-opacity="0.5"/>
<circle cx="373.0" cy="732.7" r="4.45" fill="#fb5229" fill-opacity="0.5"/>
<circle cx="391.6" cy="719.7" r="4.45" fill="#fb5229" fill-opacity="0.5"/>
<circle cx="412.7" cy="706.8" r="4.45" fill="#fb5229" fill-opacity="0.5"/>
<circle cx="387.5" cy="731.9" r="4.45" fill="#fb5229" fill-opacity="0.5"/>
<circle cx="385.5" cy="712.6" r="4.45" fill="#fb5229" fill-opacity="0.5"/>
<circle cx="401.9" cy="730.4" r="4.45" fill="#fb5229" fill-opacity="0.5"/>
<circle cx="408.3" cy="719.7" r="4.45" fill="#fb5229" fill-opacity="0.5"/>
<circle cx="428.9" cy="714.6" r="4.45" fill="#fb5229" fill-opacity="0.5"/>
<circle cx="363.0" cy="695.8" r="4.45" fill="#fb5229" fill-opacity="0.5"/>
<circle cx="411.1" cy="703.5" r="4.45" fill="#fb5229" fill-opacity="0.5"/>
<circle cx="366.3" cy="723.0" r="4.45" fill="#fb5229" fill-opacity="0.5"/>
<circle cx="383.9" cy="715.3" r="4.45" fill="#fb5229" fill-opacity="0.5"/>
<circle cx="425.7" cy="704.5" r="4.45" fill="#fb5229" fill-opacity="0.5"/>
<circle cx="379.2" cy="719.4" r="4.45" fill="#fb5229" fill-opacity="0.5"/>
<circle cx="409.3" cy="714.5" r="4.45" fill="#fb5229" fill-opacity="0.5"/>
<circle cx="400.3" cy="702.3" r="4.45" fill="#fb5229" fill-opacity="0.5"/>
<circle cx="382.6" cy="723.0" r="4.45" fill="#fb5229" fill-opacity="0.5"/>
<circle cx="396.1" cy="699.8" r="4.45" fill="#fb5229" fill-opacity="0.5"/>
<circle cx="388.8" cy="733.3" r="4.45" fill="#fb5229" fill-opacity="0.5"/>
<circle cx="407.0" cy="725.4" r="4.45" fill="#fb5229" fill-opacity="0.5"/>
<circle cx="377.8" cy="732.3" r="4.45" fill="#fb5229" fill-opacity="0.5"/>
<circle cx="393.0" cy="731.3" r="4.45" fill="#fb5229" fill-opacity="0.5"/>
<line x1="358.5" y1="689.0" x2="430.9" y2="689.0" stroke="#fb5229" stroke-width="9" stroke-linecap="round" stroke-opacity="0.92"/>
<circle cx="531.2" cy="578.2" r="4.45" fill="#ad0c2d" fill-opacity="0.5"/>
<circle cx="551.2" cy="575.0" r="4.45" fill="#ad0c2d" fill-opacity="0.5"/>
<circle cx="556.2" cy="594.5" r="4.45" fill="#ad0c2d" fill-opacity="0.5"/>
<circle cx="493.0" cy="606.2" r="4.45" fill="#ad0c2d" fill-opacity="0.5"/>
<circle cx="512.5" cy="605.8" r="4.45" fill="#ad0c2d" fill-opacity="0.5"/>
<circle cx="528.8" cy="611.8" r="4.45" fill="#ad0c2d" fill-opacity="0.5"/>
<circle cx="541.8" cy="604.2" r="4.45" fill="#ad0c2d" fill-opacity="0.5"/>
<circle cx="557.5" cy="612.5" r="4.45" fill="#ad0c2d" fill-opacity="0.5"/>
<circle cx="555.5" cy="627.0" r="4.45" fill="#ad0c2d" fill-opacity="0.5"/>
<circle cx="483.8" cy="633.8" r="4.45" fill="#ad0c2d" fill-opacity="0.5"/>
<circle cx="490.0" cy="631.8" r="4.45" fill="#ad0c2d" fill-opacity="0.5"/>
<circle cx="499.2" cy="636.2" r="4.45" fill="#ad0c2d" fill-opacity="0.5"/>
<circle cx="524.5" cy="633.0" r="4.45" fill="#ad0c2d" fill-opacity="0.5"/>
<circle cx="536.2" cy="634.2" r="4.45" fill="#ad0c2d" fill-opacity="0.5"/>
<circle cx="485.5" cy="647.5" r="4.45" fill="#ad0c2d" fill-opacity="0.5"/>
<circle cx="491.2" cy="642.5" r="4.45" fill="#ad0c2d" fill-opacity="0.5"/>
<circle cx="503.8" cy="647.5" r="4.45" fill="#ad0c2d" fill-opacity="0.5"/>
<circle cx="511.2" cy="647.5" r="4.45" fill="#ad0c2d" fill-opacity="0.5"/>
<circle cx="525.5" cy="645.0" r="4.45" fill="#ad0c2d" fill-opacity="0.5"/>
<circle cx="532.0" cy="641.2" r="4.45" fill="#ad0c2d" fill-opacity="0.5"/>
<circle cx="539.5" cy="648.0" r="4.45" fill="#ad0c2d" fill-opacity="0.5"/>
<circle cx="548.0" cy="647.5" r="4.45" fill="#ad0c2d" fill-opacity="0.5"/>
<circle cx="487.0" cy="658.2" r="4.45" fill="#ad0c2d" fill-opacity="0.5"/>
<circle cx="506.2" cy="655.0" r="4.45" fill="#ad0c2d" fill-opacity="0.5"/>
<circle cx="518.8" cy="653.2" r="4.45" fill="#ad0c2d" fill-opacity="0.5"/>
<circle cx="533.8" cy="655.0" r="4.45" fill="#ad0c2d" fill-opacity="0.5"/>
<circle cx="522.5" cy="658.8" r="4.45" fill="#ad0c2d" fill-opacity="0.5"/>
<circle cx="513.8" cy="661.2" r="4.45" fill="#ad0c2d" fill-opacity="0.5"/>
<circle cx="523.8" cy="661.2" r="4.45" fill="#ad0c2d" fill-opacity="0.5"/>
<circle cx="501.2" cy="665.0" r="4.45" fill="#ad0c2d" fill-opacity="0.5"/>
<circle cx="533.8" cy="657.5" r="4.45" fill="#ad0c2d" fill-opacity="0.5"/>
<circle cx="484.2" cy="669.2" r="4.45" fill="#ad0c2d" fill-opacity="0.5"/>
<circle cx="483.8" cy="673.8" r="4.45" fill="#ad0c2d" fill-opacity="0.5"/>
<circle cx="500.0" cy="667.5" r="4.45" fill="#ad0c2d" fill-opacity="0.5"/>
<circle cx="510.0" cy="670.0" r="4.45" fill="#ad0c2d" fill-opacity="0.5"/>
<circle cx="516.2" cy="669.2" r="4.45" fill="#ad0c2d" fill-opacity="0.5"/>
<circle cx="537.5" cy="665.0" r="4.45" fill="#ad0c2d" fill-opacity="0.5"/>
<circle cx="541.2" cy="670.0" r="4.45" fill="#ad0c2d" fill-opacity="0.5"/>
<circle cx="546.2" cy="663.8" r="4.45" fill="#ad0c2d" fill-opacity="0.5"/>
<circle cx="552.5" cy="665.5" r="4.45" fill="#ad0c2d" fill-opacity="0.5"/>
<circle cx="548.8" cy="667.0" r="4.45" fill="#ad0c2d" fill-opacity="0.5"/>
<circle cx="495.0" cy="676.2" r="4.45" fill="#ad0c2d" fill-opacity="0.5"/>
<circle cx="506.2" cy="675.0" r="4.45" fill="#ad0c2d" fill-opacity="0.5"/>
<circle cx="511.2" cy="677.5" r="4.45" fill="#ad0c2d" fill-opacity="0.5"/>
<circle cx="536.2" cy="679.5" r="4.45" fill="#ad0c2d" fill-opacity="0.5"/>
<circle cx="556.2" cy="678.8" r="4.45" fill="#ad0c2d" fill-opacity="0.5"/>
<circle cx="488.8" cy="688.8" r="4.45" fill="#ad0c2d" fill-opacity="0.5"/>
<circle cx="496.2" cy="688.8" r="4.45" fill="#ad0c2d" fill-opacity="0.5"/>
<circle cx="505.0" cy="688.8" r="4.45" fill="#ad0c2d" fill-opacity="0.5"/>
<circle cx="513.8" cy="688.8" r="4.45" fill="#ad0c2d" fill-opacity="0.5"/>
<circle cx="523.8" cy="688.8" r="4.45" fill="#ad0c2d" fill-opacity="0.5"/>
<circle cx="532.5" cy="688.8" r="4.45" fill="#ad0c2d" fill-opacity="0.5"/>
<circle cx="545.0" cy="688.8" r="4.45" fill="#ad0c2d" fill-opacity="0.5"/>
<circle cx="550.0" cy="688.8" r="4.45" fill="#ad0c2d" fill-opacity="0.5"/>
<circle cx="555.0" cy="688.8" r="4.45" fill="#ad0c2d" fill-opacity="0.5"/>
<circle cx="558.8" cy="688.8" r="4.45" fill="#ad0c2d" fill-opacity="0.5"/>
<circle cx="528.8" cy="697.0" r="4.45" fill="#ad0c2d" fill-opacity="0.5"/>
<circle cx="540.5" cy="697.0" r="4.45" fill="#ad0c2d" fill-opacity="0.5"/>
<circle cx="492.0" cy="703.8" r="4.45" fill="#ad0c2d" fill-opacity="0.5"/>
<circle cx="500.5" cy="704.2" r="4.45" fill="#ad0c2d" fill-opacity="0.5"/>
<circle cx="508.0" cy="705.8" r="4.45" fill="#ad0c2d" fill-opacity="0.5"/>
<circle cx="528.0" cy="702.5" r="4.45" fill="#ad0c2d" fill-opacity="0.5"/>
<circle cx="555.0" cy="704.2" r="4.45" fill="#ad0c2d" fill-opacity="0.5"/>
<circle cx="493.0" cy="711.2" r="4.45" fill="#ad0c2d" fill-opacity="0.5"/>
<circle cx="498.8" cy="713.8" r="4.45" fill="#ad0c2d" fill-opacity="0.5"/>
<circle cx="515.0" cy="710.0" r="4.45" fill="#ad0c2d" fill-opacity="0.5"/>
<circle cx="520.0" cy="712.5" r="4.45" fill="#ad0c2d" fill-opacity="0.5"/>
<circle cx="534.5" cy="709.2" r="4.45" fill="#ad0c2d" fill-opacity="0.5"/>
<circle cx="540.5" cy="708.0" r="4.45" fill="#ad0c2d" fill-opacity="0.5"/>
<circle cx="550.5" cy="711.8" r="4.45" fill="#ad0c2d" fill-opacity="0.5"/>
<circle cx="487.5" cy="717.5" r="4.45" fill="#ad0c2d" fill-opacity="0.5"/>
<circle cx="491.2" cy="718.0" r="4.45" fill="#ad0c2d" fill-opacity="0.5"/>
<circle cx="496.2" cy="719.5" r="4.45" fill="#ad0c2d" fill-opacity="0.5"/>
<circle cx="517.5" cy="717.5" r="4.45" fill="#ad0c2d" fill-opacity="0.5"/>
<circle cx="534.5" cy="713.8" r="4.45" fill="#ad0c2d" fill-opacity="0.5"/>
<circle cx="542.5" cy="723.8" r="4.45" fill="#ad0c2d" fill-opacity="0.5"/>
<circle cx="547.5" cy="730.0" r="4.45" fill="#ad0c2d" fill-opacity="0.5"/>
<circle cx="486.2" cy="738.0" r="4.45" fill="#ad0c2d" fill-opacity="0.5"/>
<circle cx="497.5" cy="735.0" r="4.45" fill="#ad0c2d" fill-opacity="0.5"/>
<circle cx="494.5" cy="743.8" r="4.45" fill="#ad0c2d" fill-opacity="0.5"/>
<circle cx="488.8" cy="746.2" r="4.45" fill="#ad0c2d" fill-opacity="0.5"/>
<circle cx="483.8" cy="751.2" r="4.45" fill="#ad0c2d" fill-opacity="0.5"/>
<circle cx="506.2" cy="745.8" r="4.45" fill="#ad0c2d" fill-opacity="0.5"/>
<circle cx="517.0" cy="743.0" r="4.45" fill="#ad0c2d" fill-opacity="0.5"/>
<circle cx="520.0" cy="752.0" r="4.45" fill="#ad0c2d" fill-opacity="0.5"/>
<circle cx="527.0" cy="746.2" r="4.45" fill="#ad0c2d" fill-opacity="0.5"/>
<circle cx="542.5" cy="736.2" r="4.45" fill="#ad0c2d" fill-opacity="0.5"/>
<circle cx="543.0" cy="745.0" r="4.45" fill="#ad0c2d" fill-opacity="0.5"/>
<circle cx="552.5" cy="745.0" r="4.45" fill="#ad0c2d" fill-opacity="0.5"/>
<circle cx="546.2" cy="752.0" r="4.45" fill="#ad0c2d" fill-opacity="0.5"/>
<circle cx="550.0" cy="758.0" r="4.45" fill="#ad0c2d" fill-opacity="0.5"/>
<circle cx="529.5" cy="763.8" r="4.45" fill="#ad0c2d" fill-opacity="0.5"/>
<circle cx="545.0" cy="765.0" r="4.45" fill="#ad0c2d" fill-opacity="0.5"/>
<circle cx="538.0" cy="777.0" r="4.45" fill="#ad0c2d" fill-opacity="0.5"/>
<line x1="483.5" y1="689.0" x2="555.9" y2="689.0" stroke="#ad0c2d" stroke-width="9" stroke-linecap="round" stroke-opacity="0.92"/>
<line x1="249.9" y1="691.6" x2="287.9" y2="691.6" stroke="#000" stroke-width="4.3"/>
<line x1="268.9" y1="688.6" x2="268.9" y2="694.6" stroke="#000" stroke-width="1.5"/>
<line x1="375.7" y1="690.5" x2="413.7" y2="690.5" stroke="#000" stroke-width="4.3"/>
<line x1="394.7" y1="687.5" x2="394.7" y2="693.5" stroke="#000" stroke-width="1.5"/>
<line x1="500.7" y1="685.7" x2="538.7" y2="685.7" stroke="#000" stroke-width="4.3"/>
<line x1="519.7" y1="682.7" x2="519.7" y2="688.7" stroke="#000" stroke-width="1.5"/>
<line x1="206.3" y1="539.1" x2="206.3" y2="839.4" stroke="#262626" stroke-width="4.2"/>
<line x1="200.3" y1="837.4" x2="583.0" y2="837.4" stroke="#262626" stroke-width="4.2"/>
<line x1="200.3" y1="837.4" x2="206.3" y2="837.4" stroke="#262626" stroke-width="3.3"/>
<text x="0" y="0" font-size="35" text-anchor="end" font-weight="normal" fill="#262626" transform="translate(198.00,851.90) scale(1,1.06)">-4</text>
<line x1="200.3" y1="763.2" x2="206.3" y2="763.2" stroke="#262626" stroke-width="3.3"/>
<text x="0" y="0" font-size="35" text-anchor="end" font-weight="normal" fill="#262626" transform="translate(198.00,777.70) scale(1,1.06)">-2</text>
<line x1="200.3" y1="689.0" x2="206.3" y2="689.0" stroke="#262626" stroke-width="3.3"/>
<text x="0" y="0" font-size="35" text-anchor="end" font-weight="normal" fill="#262626" transform="translate(198.00,703.50) scale(1,1.06)">0</text>
<line x1="200.3" y1="614.8" x2="206.3" y2="614.8" stroke="#262626" stroke-width="3.3"/>
<text x="0" y="0" font-size="35" text-anchor="end" font-weight="normal" fill="#262626" transform="translate(198.00,629.30) scale(1,1.06)">2</text>
<line x1="200.3" y1="540.6" x2="206.3" y2="540.6" stroke="#262626" stroke-width="3.3"/>
<text x="0" y="0" font-size="35" text-anchor="end" font-weight="normal" fill="#262626" transform="translate(198.00,555.10) scale(1,1.06)">4</text>
<line x1="268.9" y1="837.4" x2="268.9" y2="843.9" stroke="#262626" stroke-width="3.3"/>
<text x="0" y="0" font-size="29.5" text-anchor="middle" font-weight="normal" fill="#262626" transform="translate(268.90,878.00) scale(1,1.08)">M-L</text>
<line x1="394.7" y1="837.4" x2="394.7" y2="843.9" stroke="#262626" stroke-width="3.3"/>
<text x="0" y="0" font-size="29.5" text-anchor="middle" font-weight="normal" fill="#262626" transform="translate(394.70,878.00) scale(1,1.08)">H-M</text>
<line x1="519.7" y1="837.4" x2="519.7" y2="843.9" stroke="#262626" stroke-width="3.3"/>
<text x="0" y="0" font-size="29.5" text-anchor="middle" font-weight="normal" fill="#262626" transform="translate(521.70,878.00) scale(1,1.08)">H-L</text>
<text x="331.6" y="539.8" font-size="29.2" text-anchor="start" font-weight="normal" fill="#000" >Monkey V</text>
<text x="0" y="0" font-size="29.4" text-anchor="start" font-weight="normal" fill="#262626" transform="translate(228.70,912.00) scale(1,1.07)">Reward mag. comparison</text>
<text x="0" y="0" font-size="30" text-anchor="middle" fill="#262626" transform="translate(145.0,684.7) rotate(-90)">&#916; norm. imps/s</text>
<circle cx="848.1" cy="560.7" r="4.45" fill="#fc8a3a" fill-opacity="0.5"/>
<circle cx="832.9" cy="586.6" r="4.45" fill="#fc8a3a" fill-opacity="0.5"/>
<circle cx="855.1" cy="609.5" r="4.45" fill="#fc8a3a" fill-opacity="0.5"/>
<circle cx="881.6" cy="608.5" r="4.45" fill="#fc8a3a" fill-opacity="0.5"/>
<circle cx="822.2" cy="616.5" r="4.45" fill="#fc8a3a" fill-opacity="0.5"/>
<circle cx="826.8" cy="623.2" r="4.45" fill="#fc8a3a" fill-opacity="0.5"/>
<circle cx="833.8" cy="623.2" r="4.45" fill="#fc8a3a" fill-opacity="0.5"/>
<circle cx="871.0" cy="626.2" r="4.45" fill="#fc8a3a" fill-opacity="0.5"/>
<circle cx="891.7" cy="627.7" r="4.45" fill="#fc8a3a" fill-opacity="0.5"/>
<circle cx="898.4" cy="632.3" r="4.45" fill="#fc8a3a" fill-opacity="0.5"/>
<circle cx="896.9" cy="636.9" r="4.45" fill="#fc8a3a" fill-opacity="0.5"/>
<circle cx="828.3" cy="633.8" r="4.45" fill="#fc8a3a" fill-opacity="0.5"/>
<circle cx="844.1" cy="632.3" r="4.45" fill="#fc8a3a" fill-opacity="0.5"/>
<circle cx="848.1" cy="628.7" r="4.45" fill="#fc8a3a" fill-opacity="0.5"/>
<circle cx="868.5" cy="634.8" r="4.45" fill="#fc8a3a" fill-opacity="0.5"/>
<circle cx="881.6" cy="635.4" r="4.45" fill="#fc8a3a" fill-opacity="0.5"/>
<circle cx="871.0" cy="752.7" r="4.45" fill="#fc8a3a" fill-opacity="0.5"/>
<circle cx="880.1" cy="755.8" r="4.45" fill="#fc8a3a" fill-opacity="0.5"/>
<circle cx="881.6" cy="762.8" r="4.45" fill="#fc8a3a" fill-opacity="0.5"/>
<circle cx="840.5" cy="817.7" r="4.45" fill="#fc8a3a" fill-opacity="0.5"/>
<circle cx="825.2" cy="742.1" r="4.45" fill="#fc8a3a" fill-opacity="0.5"/>
<circle cx="829.2" cy="744.5" r="4.45" fill="#fc8a3a" fill-opacity="0.5"/>
<circle cx="839.9" cy="743.6" r="4.45" fill="#fc8a3a" fill-opacity="0.5"/>
<circle cx="854.2" cy="736.0" r="4.45" fill="#fc8a3a" fill-opacity="0.5"/>
<circle cx="862.9" cy="639.5" r="4.45" fill="#fc8a3a" fill-opacity="0.5"/>
<circle cx="891.9" cy="668.8" r="4.45" fill="#fc8a3a" fill-opacity="0.5"/>
<circle cx="849.1" cy="683.2" r="4.45" fill="#fc8a3a" fill-opacity="0.5"/>
<circle cx="823.2" cy="648.0" r="4.45" fill="#fc8a3a" fill-opacity="0.5"/>
<circle cx="849.5" cy="650.2" r="4.45" fill="#fc8a3a" fill-opacity="0.5"/>
<circle cx="841.4" cy="686.9" r="4.45" fill="#fc8a3a" fill-opacity="0.5"/>
<circle cx="851.1" cy="665.3" r="4.45" fill="#fc8a3a" fill-opacity="0.5"/>
<circle cx="826.7" cy="662.4" r="4.45" fill="#fc8a3a" fill-opacity="0.5"/>
<circle cx="894.9" cy="677.0" r="4.45" fill="#fc8a3a" fill-opacity="0.5"/>
<circle cx="857.7" cy="666.0" r="4.45" fill="#fc8a3a" fill-opacity="0.5"/>
<circle cx="843.5" cy="683.5" r="4.45" fill="#fc8a3a" fill-opacity="0.5"/>
<circle cx="873.6" cy="640.9" r="4.45" fill="#fc8a3a" fill-opacity="0.5"/>
<circle cx="826.7" cy="662.8" r="4.45" fill="#fc8a3a" fill-opacity="0.5"/>
<circle cx="880.4" cy="668.5" r="4.45" fill="#fc8a3a" fill-opacity="0.5"/>
<circle cx="866.7" cy="666.4" r="4.45" fill="#fc8a3a" fill-opacity="0.5"/>
<circle cx="870.5" cy="643.5" r="4.45" fill="#fc8a3a" fill-opacity="0.5"/>
<circle cx="825.5" cy="656.6" r="4.45" fill="#fc8a3a" fill-opacity="0.5"/>
<circle cx="879.7" cy="686.5" r="4.45" fill="#fc8a3a" fill-opacity="0.5"/>
<circle cx="887.5" cy="667.5" r="4.45" fill="#fc8a3a" fill-opacity="0.5"/>
<circle cx="890.5" cy="647.3" r="4.45" fill="#fc8a3a" fill-opacity="0.5"/>
<circle cx="896.7" cy="669.2" r="4.45" fill="#fc8a3a" fill-opacity="0.5"/>
<circle cx="888.8" cy="650.7" r="4.45" fill="#fc8a3a" fill-opacity="0.5"/>
<circle cx="880.6" cy="680.5" r="4.45" fill="#fc8a3a" fill-opacity="0.5"/>
<circle cx="894.7" cy="667.0" r="4.45" fill="#fc8a3a" fill-opacity="0.5"/>
<circle cx="838.8" cy="639.0" r="4.45" fill="#fc8a3a" fill-opacity="0.5"/>
<circle cx="842.8" cy="667.1" r="4.45" fill="#fc8a3a" fill-opacity="0.5"/>
<circle cx="844.0" cy="664.7" r="4.45" fill="#fc8a3a" fill-opacity="0.5"/>
<circle cx="831.9" cy="655.1" r="4.45" fill="#fc8a3a" fill-opacity="0.5"/>
<circle cx="856.7" cy="679.4" r="4.45" fill="#fc8a3a" fill-opacity="0.5"/>
<circle cx="851.0" cy="684.1" r="4.45" fill="#fc8a3a" fill-opacity="0.5"/>
<circle cx="888.3" cy="643.7" r="4.45" fill="#fc8a3a" fill-opacity="0.5"/>
<circle cx="824.2" cy="678.1" r="4.45" fill="#fc8a3a" fill-opacity="0.5"/>
<circle cx="893.9" cy="647.1" r="4.45" fill="#fc8a3a" fill-opacity="0.5"/>
<circle cx="832.9" cy="658.4" r="4.45" fill="#fc8a3a" fill-opacity="0.5"/>
<circle cx="890.9" cy="676.1" r="4.45" fill="#fc8a3a" fill-opacity="0.5"/>
<circle cx="825.1" cy="641.8" r="4.45" fill="#fc8a3a" fill-opacity="0.5"/>
<circle cx="854.5" cy="678.7" r="4.45" fill="#fc8a3a" fill-opacity="0.5"/>
<circle cx="878.6" cy="674.6" r="4.45" fill="#fc8a3a" fill-opacity="0.5"/>
<circle cx="880.2" cy="669.4" r="4.45" fill="#fc8a3a" fill-opacity="0.5"/>
<circle cx="861.2" cy="680.3" r="4.45" fill="#fc8a3a" fill-opacity="0.5"/>
<circle cx="874.7" cy="639.9" r="4.45" fill="#fc8a3a" fill-opacity="0.5"/>
<circle cx="831.0" cy="683.3" r="4.45" fill="#fc8a3a" fill-opacity="0.5"/>
<circle cx="850.5" cy="656.2" r="4.45" fill="#fc8a3a" fill-opacity="0.5"/>
<circle cx="858.1" cy="669.6" r="4.45" fill="#fc8a3a" fill-opacity="0.5"/>
<circle cx="894.3" cy="659.2" r="4.45" fill="#fc8a3a" fill-opacity="0.5"/>
<circle cx="864.9" cy="675.9" r="4.45" fill="#fc8a3a" fill-opacity="0.5"/>
<circle cx="863.2" cy="674.8" r="4.45" fill="#fc8a3a" fill-opacity="0.5"/>
<circle cx="832.7" cy="651.9" r="4.45" fill="#fc8a3a" fill-opacity="0.5"/>
<circle cx="875.0" cy="664.1" r="4.45" fill="#fc8a3a" fill-opacity="0.5"/>
<circle cx="879.9" cy="687.3" r="4.45" fill="#fc8a3a" fill-opacity="0.5"/>
<circle cx="860.1" cy="667.2" r="4.45" fill="#fc8a3a" fill-opacity="0.5"/>
<circle cx="881.5" cy="657.8" r="4.45" fill="#fc8a3a" fill-opacity="0.5"/>
<circle cx="859.8" cy="685.0" r="4.45" fill="#fc8a3a" fill-opacity="0.5"/>
<circle cx="851.3" cy="685.8" r="4.45" fill="#fc8a3a" fill-opacity="0.5"/>
<circle cx="824.4" cy="670.8" r="4.45" fill="#fc8a3a" fill-opacity="0.5"/>
<circle cx="856.1" cy="673.1" r="4.45" fill="#fc8a3a" fill-opacity="0.5"/>
<circle cx="891.2" cy="655.6" r="4.45" fill="#fc8a3a" fill-opacity="0.5"/>
<circle cx="862.0" cy="669.6" r="4.45" fill="#fc8a3a" fill-opacity="0.5"/>
<circle cx="892.2" cy="652.8" r="4.45" fill="#fc8a3a" fill-opacity="0.5"/>
<circle cx="895.9" cy="641.2" r="4.45" fill="#fc8a3a" fill-opacity="0.5"/>
<circle cx="835.1" cy="672.9" r="4.45" fill="#fc8a3a" fill-opacity="0.5"/>
<circle cx="828.5" cy="642.0" r="4.45" fill="#fc8a3a" fill-opacity="0.5"/>
<circle cx="877.3" cy="665.7" r="4.45" fill="#fc8a3a" fill-opacity="0.5"/>
<circle cx="851.6" cy="661.8" r="4.45" fill="#fc8a3a" fill-opacity="0.5"/>
<circle cx="844.9" cy="642.4" r="4.45" fill="#fc8a3a" fill-opacity="0.5"/>
<circle cx="884.2" cy="660.7" r="4.45" fill="#fc8a3a" fill-opacity="0.5"/>
<circle cx="848.8" cy="681.0" r="4.45" fill="#fc8a3a" fill-opacity="0.5"/>
<circle cx="864.7" cy="663.5" r="4.45" fill="#fc8a3a" fill-opacity="0.5"/>
<circle cx="856.4" cy="677.6" r="4.45" fill="#fc8a3a" fill-opacity="0.5"/>
<circle cx="829.3" cy="684.8" r="4.45" fill="#fc8a3a" fill-opacity="0.5"/>
<circle cx="833.4" cy="671.0" r="4.45" fill="#fc8a3a" fill-opacity="0.5"/>
<circle cx="842.3" cy="640.3" r="4.45" fill="#fc8a3a" fill-opacity="0.5"/>
<circle cx="880.8" cy="674.2" r="4.45" fill="#fc8a3a" fill-opacity="0.5"/>
<circle cx="842.2" cy="651.4" r="4.45" fill="#fc8a3a" fill-opacity="0.5"/>
<circle cx="869.1" cy="647.1" r="4.45" fill="#fc8a3a" fill-opacity="0.5"/>
<circle cx="869.3" cy="668.7" r="4.45" fill="#fc8a3a" fill-opacity="0.5"/>
<circle cx="842.3" cy="675.7" r="4.45" fill="#fc8a3a" fill-opacity="0.5"/>
<circle cx="855.3" cy="644.8" r="4.45" fill="#fc8a3a" fill-opacity="0.5"/>
<circle cx="835.9" cy="643.7" r="4.45" fill="#fc8a3a" fill-opacity="0.5"/>
<circle cx="826.6" cy="681.0" r="4.45" fill="#fc8a3a" fill-opacity="0.5"/>
<circle cx="864.3" cy="651.5" r="4.45" fill="#fc8a3a" fill-opacity="0.5"/>
<circle cx="826.0" cy="687.2" r="4.45" fill="#fc8a3a" fill-opacity="0.5"/>
<circle cx="859.4" cy="647.3" r="4.45" fill="#fc8a3a" fill-opacity="0.5"/>
<circle cx="825.7" cy="645.0" r="4.45" fill="#fc8a3a" fill-opacity="0.5"/>
<circle cx="831.5" cy="658.9" r="4.45" fill="#fc8a3a" fill-opacity="0.5"/>
<circle cx="868.0" cy="652.4" r="4.45" fill="#fc8a3a" fill-opacity="0.5"/>
<circle cx="839.2" cy="657.7" r="4.45" fill="#fc8a3a" fill-opacity="0.5"/>
<circle cx="831.0" cy="641.2" r="4.45" fill="#fc8a3a" fill-opacity="0.5"/>
<circle cx="873.4" cy="738.0" r="4.45" fill="#fc8a3a" fill-opacity="0.5"/>
<circle cx="827.7" cy="736.6" r="4.45" fill="#fc8a3a" fill-opacity="0.5"/>
<circle cx="870.8" cy="718.6" r="4.45" fill="#fc8a3a" fill-opacity="0.5"/>
<circle cx="876.1" cy="697.5" r="4.45" fill="#fc8a3a" fill-opacity="0.5"/>
<circle cx="870.4" cy="737.8" r="4.45" fill="#fc8a3a" fill-opacity="0.5"/>
<circle cx="831.7" cy="699.8" r="4.45" fill="#fc8a3a" fill-opacity="0.5"/>
<circle cx="841.9" cy="704.2" r="4.45" fill="#fc8a3a" fill-opacity="0.5"/>
<circle cx="822.9" cy="726.5" r="4.45" fill="#fc8a3a" fill-opacity="0.5"/>
<circle cx="861.0" cy="704.0" r="4.45" fill="#fc8a3a" fill-opacity="0.5"/>
<circle cx="857.2" cy="697.0" r="4.45" fill="#fc8a3a" fill-opacity="0.5"/>
<circle cx="838.8" cy="733.6" r="4.45" fill="#fc8a3a" fill-opacity="0.5"/>
<circle cx="892.9" cy="728.3" r="4.45" fill="#fc8a3a" fill-opacity="0.5"/>
<circle cx="829.3" cy="731.1" r="4.45" fill="#fc8a3a" fill-opacity="0.5"/>
<circle cx="828.7" cy="723.9" r="4.45" fill="#fc8a3a" fill-opacity="0.5"/>
<circle cx="868.8" cy="720.3" r="4.45" fill="#fc8a3a" fill-opacity="0.5"/>
<circle cx="835.7" cy="709.3" r="4.45" fill="#fc8a3a" fill-opacity="0.5"/>
<circle cx="859.1" cy="734.4" r="4.45" fill="#fc8a3a" fill-opacity="0.5"/>
<circle cx="855.9" cy="707.5" r="4.45" fill="#fc8a3a" fill-opacity="0.5"/>
<circle cx="890.3" cy="713.1" r="4.45" fill="#fc8a3a" fill-opacity="0.5"/>
<circle cx="842.6" cy="734.1" r="4.45" fill="#fc8a3a" fill-opacity="0.5"/>
<circle cx="862.5" cy="717.0" r="4.45" fill="#fc8a3a" fill-opacity="0.5"/>
<circle cx="863.9" cy="697.1" r="4.45" fill="#fc8a3a" fill-opacity="0.5"/>
<circle cx="853.9" cy="708.7" r="4.45" fill="#fc8a3a" fill-opacity="0.5"/>
<circle cx="884.7" cy="702.7" r="4.45" fill="#fc8a3a" fill-opacity="0.5"/>
<circle cx="830.8" cy="726.8" r="4.45" fill="#fc8a3a" fill-opacity="0.5"/>
<circle cx="849.3" cy="728.5" r="4.45" fill="#fc8a3a" fill-opacity="0.5"/>
<circle cx="842.4" cy="697.6" r="4.45" fill="#fc8a3a" fill-opacity="0.5"/>
<circle cx="870.2" cy="710.3" r="4.45" fill="#fc8a3a" fill-opacity="0.5"/>
<circle cx="831.4" cy="694.3" r="4.45" fill="#fc8a3a" fill-opacity="0.5"/>
<circle cx="847.7" cy="703.4" r="4.45" fill="#fc8a3a" fill-opacity="0.5"/>
<circle cx="869.6" cy="736.1" r="4.45" fill="#fc8a3a" fill-opacity="0.5"/>
<circle cx="865.9" cy="699.8" r="4.45" fill="#fc8a3a" fill-opacity="0.5"/>
<circle cx="894.7" cy="738.7" r="4.45" fill="#fc8a3a" fill-opacity="0.5"/>
<circle cx="869.9" cy="722.4" r="4.45" fill="#fc8a3a" fill-opacity="0.5"/>
<circle cx="842.1" cy="705.7" r="4.45" fill="#fc8a3a" fill-opacity="0.5"/>
<circle cx="847.2" cy="721.2" r="4.45" fill="#fc8a3a" fill-opacity="0.5"/>
<circle cx="827.6" cy="736.5" r="4.45" fill="#fc8a3a" fill-opacity="0.5"/>
<circle cx="853.2" cy="706.0" r="4.45" fill="#fc8a3a" fill-opacity="0.5"/>
<circle cx="827.4" cy="698.6" r="4.45" fill="#fc8a3a" fill-opacity="0.5"/>
<circle cx="836.1" cy="726.4" r="4.45" fill="#fc8a3a" fill-opacity="0.5"/>
<circle cx="881.3" cy="694.9" r="4.45" fill="#fc8a3a" fill-opacity="0.5"/>
<circle cx="860.3" cy="697.2" r="4.45" fill="#fc8a3a" fill-opacity="0.5"/>
<circle cx="853.6" cy="736.1" r="4.45" fill="#fc8a3a" fill-opacity="0.5"/>
<circle cx="824.8" cy="730.1" r="4.45" fill="#fc8a3a" fill-opacity="0.5"/>
<circle cx="844.3" cy="713.5" r="4.45" fill="#fc8a3a" fill-opacity="0.5"/>
<circle cx="860.7" cy="735.9" r="4.45" fill="#fc8a3a" fill-opacity="0.5"/>
<circle cx="892.8" cy="695.4" r="4.45" fill="#fc8a3a" fill-opacity="0.5"/>
<circle cx="830.4" cy="718.3" r="4.45" fill="#fc8a3a" fill-opacity="0.5"/>
<circle cx="831.3" cy="703.5" r="4.45" fill="#fc8a3a" fill-opacity="0.5"/>
<circle cx="829.0" cy="714.8" r="4.45" fill="#fc8a3a" fill-opacity="0.5"/>
<circle cx="863.0" cy="692.8" r="4.45" fill="#fc8a3a" fill-opacity="0.5"/>
<circle cx="842.9" cy="719.7" r="4.45" fill="#fc8a3a" fill-opacity="0.5"/>
<circle cx="894.8" cy="714.2" r="4.45" fill="#fc8a3a" fill-opacity="0.5"/>
<circle cx="838.3" cy="720.2" r="4.45" fill="#fc8a3a" fill-opacity="0.5"/>
<circle cx="890.7" cy="716.0" r="4.45" fill="#fc8a3a" fill-opacity="0.5"/>
<circle cx="869.7" cy="722.5" r="4.45" fill="#fc8a3a" fill-opacity="0.5"/>
<circle cx="846.9" cy="696.2" r="4.45" fill="#fc8a3a" fill-opacity="0.5"/>
<circle cx="861.9" cy="701.4" r="4.45" fill="#fc8a3a" fill-opacity="0.5"/>
<circle cx="826.8" cy="734.3" r="4.45" fill="#fc8a3a" fill-opacity="0.5"/>
<circle cx="857.3" cy="695.2" r="4.45" fill="#fc8a3a" fill-opacity="0.5"/>
<circle cx="890.7" cy="719.5" r="4.45" fill="#fc8a3a" fill-opacity="0.5"/>
<circle cx="859.8" cy="713.0" r="4.45" fill="#fc8a3a" fill-opacity="0.5"/>
<circle cx="877.9" cy="727.3" r="4.45" fill="#fc8a3a" fill-opacity="0.5"/>
<circle cx="857.6" cy="728.6" r="4.45" fill="#fc8a3a" fill-opacity="0.5"/>
<circle cx="867.6" cy="704.0" r="4.45" fill="#fc8a3a" fill-opacity="0.5"/>
<circle cx="837.8" cy="734.6" r="4.45" fill="#fc8a3a" fill-opacity="0.5"/>
<circle cx="876.7" cy="707.1" r="4.45" fill="#fc8a3a" fill-opacity="0.5"/>
<circle cx="896.6" cy="736.1" r="4.45" fill="#fc8a3a" fill-opacity="0.5"/>
<circle cx="835.2" cy="734.6" r="4.45" fill="#fc8a3a" fill-opacity="0.5"/>
<circle cx="855.8" cy="736.8" r="4.45" fill="#fc8a3a" fill-opacity="0.5"/>
<line x1="823.6" y1="689.2" x2="896.0" y2="689.2" stroke="#fc8a3a" stroke-width="9" stroke-linecap="round" stroke-opacity="0.92"/>
<circle cx="993.3" cy="594.2" r="4.45" fill="#fb5229" fill-opacity="0.5"/>
<circle cx="965.0" cy="612.5" r="4.45" fill="#fb5229" fill-opacity="0.5"/>
<circle cx="985.7" cy="626.2" r="4.45" fill="#fb5229" fill-opacity="0.5"/>
<circle cx="1007.6" cy="623.1" r="4.45" fill="#fb5229" fill-opacity="0.5"/>
<circle cx="1022.9" cy="618.6" r="4.45" fill="#fb5229" fill-opacity="0.5"/>
<circle cx="953.7" cy="641.4" r="4.45" fill="#fb5229" fill-opacity="0.5"/>
<circle cx="995.5" cy="639.9" r="4.45" fill="#fb5229" fill-opacity="0.5"/>
<circle cx="1004.6" cy="638.4" r="4.45" fill="#fb5229" fill-opacity="0.5"/>
<circle cx="956.8" cy="766.3" r="4.45" fill="#fb5229" fill-opacity="0.5"/>
<circle cx="964.4" cy="756.6" r="4.45" fill="#fb5229" fill-opacity="0.5"/>
<circle cx="973.5" cy="751.1" r="4.45" fill="#fb5229" fill-opacity="0.5"/>
<circle cx="1002.5" cy="750.5" r="4.45" fill="#fb5229" fill-opacity="0.5"/>
<circle cx="994.2" cy="743.5" r="4.45" fill="#fb5229" fill-opacity="0.5"/>
<circle cx="954.6" cy="740.4" r="4.45" fill="#fb5229" fill-opacity="0.5"/>
<circle cx="1010.7" cy="740.4" r="4.45" fill="#fb5229" fill-opacity="0.5"/>
<circle cx="962.9" cy="745.0" r="4.45" fill="#fb5229" fill-opacity="0.5"/>
<circle cx="1011.8" cy="659.0" r="4.45" fill="#fb5229" fill-opacity="0.5"/>
<circle cx="1000.1" cy="678.0" r="4.45" fill="#fb5229" fill-opacity="0.5"/>
<circle cx="991.3" cy="680.4" r="4.45" fill="#fb5229" fill-opacity="0.5"/>
<circle cx="974.8" cy="674.3" r="4.45" fill="#fb5229" fill-opacity="0.5"/>
<circle cx="1001.7" cy="682.6" r="4.45" fill="#fb5229" fill-opacity="0.5"/>
<circle cx="1004.9" cy="679.7" r="4.45" fill="#fb5229" fill-opacity="0.5"/>
<circle cx="992.2" cy="670.8" r="4.45" fill="#fb5229" fill-opacity="0.5"/>
<circle cx="984.6" cy="658.2" r="4.45" fill="#fb5229" fill-opacity="0.5"/>
<circle cx="1016.4" cy="648.4" r="4.45" fill="#fb5229" fill-opacity="0.5"/>
<circle cx="973.1" cy="673.0" r="4.45" fill="#fb5229" fill-opacity="0.5"/>
<circle cx="958.2" cy="648.3" r="4.45" fill="#fb5229" fill-opacity="0.5"/>
<circle cx="979.1" cy="667.3" r="4.45" fill="#fb5229" fill-opacity="0.5"/>
<circle cx="957.9" cy="644.1" r="4.45" fill="#fb5229" fill-opacity="0.5"/>
<circle cx="1004.4" cy="657.5" r="4.45" fill="#fb5229" fill-opacity="0.5"/>
<circle cx="948.5" cy="654.5" r="4.45" fill="#fb5229" fill-opacity="0.5"/>
<circle cx="971.5" cy="645.5" r="4.45" fill="#fb5229" fill-opacity="0.5"/>
<circle cx="997.3" cy="649.3" r="4.45" fill="#fb5229" fill-opacity="0.5"/>
<circle cx="1010.4" cy="667.2" r="4.45" fill="#fb5229" fill-opacity="0.5"/>
<circle cx="973.5" cy="656.6" r="4.45" fill="#fb5229" fill-opacity="0.5"/>
<circle cx="985.8" cy="654.3" r="4.45" fill="#fb5229" fill-opacity="0.5"/>
<circle cx="993.9" cy="655.2" r="4.45" fill="#fb5229" fill-opacity="0.5"/>
<circle cx="960.2" cy="651.6" r="4.45" fill="#fb5229" fill-opacity="0.5"/>
<circle cx="948.5" cy="664.2" r="4.45" fill="#fb5229" fill-opacity="0.5"/>
<circle cx="1005.5" cy="651.9" r="4.45" fill="#fb5229" fill-opacity="0.5"/>
<circle cx="951.6" cy="649.9" r="4.45" fill="#fb5229" fill-opacity="0.5"/>
<circle cx="983.8" cy="662.5" r="4.45" fill="#fb5229" fill-opacity="0.5"/>
<circle cx="963.4" cy="679.8" r="4.45" fill="#fb5229" fill-opacity="0.5"/>
<circle cx="1011.5" cy="644.2" r="4.45" fill="#fb5229" fill-opacity="0.5"/>
<circle cx="1009.8" cy="674.8" r="4.45" fill="#fb5229" fill-opacity="0.5"/>
<circle cx="976.9" cy="657.7" r="4.45" fill="#fb5229" fill-opacity="0.5"/>
<circle cx="965.3" cy="657.9" r="4.45" fill="#fb5229" fill-opacity="0.5"/>
<circle cx="949.1" cy="673.4" r="4.45" fill="#fb5229" fill-opacity="0.5"/>
<circle cx="991.4" cy="657.4" r="4.45" fill="#fb5229" fill-opacity="0.5"/>
<circle cx="985.7" cy="653.8" r="4.45" fill="#fb5229" fill-opacity="0.5"/>
<circle cx="971.1" cy="666.7" r="4.45" fill="#fb5229" fill-opacity="0.5"/>
<circle cx="976.0" cy="654.2" r="4.45" fill="#fb5229" fill-opacity="0.5"/>
<circle cx="1004.5" cy="659.9" r="4.45" fill="#fb5229" fill-opacity="0.5"/>
<circle cx="999.2" cy="666.3" r="4.45" fill="#fb5229" fill-opacity="0.5"/>
<circle cx="967.7" cy="682.2" r="4.45" fill="#fb5229" fill-opacity="0.5"/>
<circle cx="959.3" cy="649.8" r="4.45" fill="#fb5229" fill-opacity="0.5"/>
<circle cx="949.5" cy="682.4" r="4.45" fill="#fb5229" fill-opacity="0.5"/>
<circle cx="956.3" cy="652.9" r="4.45" fill="#fb5229" fill-opacity="0.5"/>
<circle cx="980.8" cy="665.7" r="4.45" fill="#fb5229" fill-opacity="0.5"/>
<circle cx="983.7" cy="651.4" r="4.45" fill="#fb5229" fill-opacity="0.5"/>
<circle cx="950.2" cy="663.0" r="4.45" fill="#fb5229" fill-opacity="0.5"/>
<circle cx="1005.2" cy="651.7" r="4.45" fill="#fb5229" fill-opacity="0.5"/>
<circle cx="1010.2" cy="658.8" r="4.45" fill="#fb5229" fill-opacity="0.5"/>
<circle cx="1001.4" cy="659.2" r="4.45" fill="#fb5229" fill-opacity="0.5"/>
<circle cx="994.1" cy="649.4" r="4.45" fill="#fb5229" fill-opacity="0.5"/>
<circle cx="1013.9" cy="683.9" r="4.45" fill="#fb5229" fill-opacity="0.5"/>
<circle cx="963.3" cy="643.6" r="4.45" fill="#fb5229" fill-opacity="0.5"/>
<circle cx="973.6" cy="682.0" r="4.45" fill="#fb5229" fill-opacity="0.5"/>
<circle cx="975.7" cy="680.6" r="4.45" fill="#fb5229" fill-opacity="0.5"/>
<circle cx="964.7" cy="681.0" r="4.45" fill="#fb5229" fill-opacity="0.5"/>
<circle cx="980.1" cy="684.6" r="4.45" fill="#fb5229" fill-opacity="0.5"/>
<circle cx="1002.3" cy="672.3" r="4.45" fill="#fb5229" fill-opacity="0.5"/>
<circle cx="960.7" cy="668.6" r="4.45" fill="#fb5229" fill-opacity="0.5"/>
<circle cx="1014.6" cy="645.1" r="4.45" fill="#fb5229" fill-opacity="0.5"/>
<circle cx="964.5" cy="656.1" r="4.45" fill="#fb5229" fill-opacity="0.5"/>
<circle cx="981.8" cy="668.0" r="4.45" fill="#fb5229" fill-opacity="0.5"/>
<circle cx="950.3" cy="667.8" r="4.45" fill="#fb5229" fill-opacity="0.5"/>
<circle cx="1005.2" cy="665.8" r="4.45" fill="#fb5229" fill-opacity="0.5"/>
<circle cx="1012.1" cy="655.9" r="4.45" fill="#fb5229" fill-opacity="0.5"/>
<circle cx="1004.8" cy="656.3" r="4.45" fill="#fb5229" fill-opacity="0.5"/>
<circle cx="1016.3" cy="648.5" r="4.45" fill="#fb5229" fill-opacity="0.5"/>
<circle cx="979.2" cy="651.8" r="4.45" fill="#fb5229" fill-opacity="0.5"/>
<circle cx="997.1" cy="657.3" r="4.45" fill="#fb5229" fill-opacity="0.5"/>
<circle cx="1001.2" cy="648.0" r="4.45" fill="#fb5229" fill-opacity="0.5"/>
<circle cx="962.5" cy="666.3" r="4.45" fill="#fb5229" fill-opacity="0.5"/>
<circle cx="966.9" cy="671.1" r="4.45" fill="#fb5229" fill-opacity="0.5"/>
<circle cx="1005.3" cy="656.4" r="4.45" fill="#fb5229" fill-opacity="0.5"/>
<circle cx="987.9" cy="676.8" r="4.45" fill="#fb5229" fill-opacity="0.5"/>
<circle cx="975.5" cy="649.8" r="4.45" fill="#fb5229" fill-opacity="0.5"/>
<circle cx="993.2" cy="680.8" r="4.45" fill="#fb5229" fill-opacity="0.5"/>
<circle cx="959.0" cy="669.7" r="4.45" fill="#fb5229" fill-opacity="0.5"/>
<circle cx="948.9" cy="672.8" r="4.45" fill="#fb5229" fill-opacity="0.5"/>
<circle cx="979.9" cy="678.6" r="4.45" fill="#fb5229" fill-opacity="0.5"/>
<circle cx="948.8" cy="680.4" r="4.45" fill="#fb5229" fill-opacity="0.5"/>
<circle cx="1019.3" cy="713.2" r="4.45" fill="#fb5229" fill-opacity="0.5"/>
<circle cx="972.5" cy="700.3" r="4.45" fill="#fb5229" fill-opacity="0.5"/>
<circle cx="954.3" cy="696.2" r="4.45" fill="#fb5229" fill-opacity="0.5"/>
<circle cx="948.9" cy="731.4" r="4.45" fill="#fb5229" fill-opacity="0.5"/>
<circle cx="992.9" cy="735.5" r="4.45" fill="#fb5229" fill-opacity="0.5"/>
<circle cx="983.7" cy="703.8" r="4.45" fill="#fb5229" fill-opacity="0.5"/>
<circle cx="981.8" cy="701.7" r="4.45" fill="#fb5229" fill-opacity="0.5"/>
<circle cx="993.4" cy="696.5" r="4.45" fill="#fb5229" fill-opacity="0.5"/>
<circle cx="961.0" cy="713.8" r="4.45" fill="#fb5229" fill-opacity="0.5"/>
<circle cx="981.0" cy="718.8" r="4.45" fill="#fb5229" fill-opacity="0.5"/>
<circle cx="965.4" cy="700.8" r="4.45" fill="#fb5229" fill-opacity="0.5"/>
<circle cx="1008.8" cy="724.8" r="4.45" fill="#fb5229" fill-opacity="0.5"/>
<circle cx="988.1" cy="735.0" r="4.45" fill="#fb5229" fill-opacity="0.5"/>
<circle cx="997.6" cy="728.2" r="4.45" fill="#fb5229" fill-opacity="0.5"/>
<circle cx="955.4" cy="711.2" r="4.45" fill="#fb5229" fill-opacity="0.5"/>
<circle cx="978.5" cy="705.0" r="4.45" fill="#fb5229" fill-opacity="0.5"/>
<circle cx="1011.8" cy="723.6" r="4.45" fill="#fb5229" fill-opacity="0.5"/>
<circle cx="971.3" cy="702.8" r="4.45" fill="#fb5229" fill-opacity="0.5"/>
<circle cx="957.5" cy="707.4" r="4.45" fill="#fb5229" fill-opacity="0.5"/>
<circle cx="954.5" cy="714.6" r="4.45" fill="#fb5229" fill-opacity="0.5"/>
<circle cx="1016.2" cy="709.1" r="4.45" fill="#fb5229" fill-opacity="0.5"/>
<circle cx="951.4" cy="709.3" r="4.45" fill="#fb5229" fill-opacity="0.5"/>
<circle cx="983.1" cy="714.9" r="4.45" fill="#fb5229" fill-opacity="0.5"/>
<circle cx="959.6" cy="718.1" r="4.45" fill="#fb5229" fill-opacity="0.5"/>
<circle cx="981.7" cy="725.6" r="4.45" fill="#fb5229" fill-opacity="0.5"/>
<circle cx="998.3" cy="735.0" r="4.45" fill="#fb5229" fill-opacity="0.5"/>
<circle cx="969.9" cy="727.1" r="4.45" fill="#fb5229" fill-opacity="0.5"/>
<circle cx="970.8" cy="734.1" r="4.45" fill="#fb5229" fill-opacity="0.5"/>
<circle cx="970.0" cy="695.9" r="4.45" fill="#fb5229" fill-opacity="0.5"/>
<circle cx="974.0" cy="733.8" r="4.45" fill="#fb5229" fill-opacity="0.5"/>
<circle cx="954.9" cy="695.3" r="4.45" fill="#fb5229" fill-opacity="0.5"/>
<circle cx="963.9" cy="722.6" r="4.45" fill="#fb5229" fill-opacity="0.5"/>
<circle cx="982.6" cy="707.2" r="4.45" fill="#fb5229" fill-opacity="0.5"/>
<circle cx="1012.2" cy="733.7" r="4.45" fill="#fb5229" fill-opacity="0.5"/>
<circle cx="999.2" cy="723.3" r="4.45" fill="#fb5229" fill-opacity="0.5"/>
<circle cx="1012.9" cy="717.6" r="4.45" fill="#fb5229" fill-opacity="0.5"/>
<circle cx="965.3" cy="735.6" r="4.45" fill="#fb5229" fill-opacity="0.5"/>
<circle cx="968.0" cy="725.2" r="4.45" fill="#fb5229" fill-opacity="0.5"/>
<circle cx="985.6" cy="700.9" r="4.45" fill="#fb5229" fill-opacity="0.5"/>
<circle cx="985.9" cy="722.4" r="4.45" fill="#fb5229" fill-opacity="0.5"/>
<circle cx="990.6" cy="699.8" r="4.45" fill="#fb5229" fill-opacity="0.5"/>
<circle cx="997.0" cy="717.7" r="4.45" fill="#fb5229" fill-opacity="0.5"/>
<circle cx="978.4" cy="710.3" r="4.45" fill="#fb5229" fill-opacity="0.5"/>
<circle cx="958.1" cy="718.8" r="4.45" fill="#fb5229" fill-opacity="0.5"/>
<circle cx="1013.4" cy="718.3" r="4.45" fill="#fb5229" fill-opacity="0.5"/>
<circle cx="975.4" cy="724.3" r="4.45" fill="#fb5229" fill-opacity="0.5"/>
<circle cx="992.1" cy="710.8" r="4.45" fill="#fb5229" fill-opacity="0.5"/>
<circle cx="981.4" cy="730.2" r="4.45" fill="#fb5229" fill-opacity="0.5"/>
<circle cx="951.5" cy="704.9" r="4.45" fill="#fb5229" fill-opacity="0.5"/>
<circle cx="1004.3" cy="733.3" r="4.45" fill="#fb5229" fill-opacity="0.5"/>
<circle cx="953.4" cy="697.1" r="4.45" fill="#fb5229" fill-opacity="0.5"/>
<circle cx="994.8" cy="734.5" r="4.45" fill="#fb5229" fill-opacity="0.5"/>
<circle cx="997.0" cy="725.3" r="4.45" fill="#fb5229" fill-opacity="0.5"/>
<circle cx="982.2" cy="736.6" r="4.45" fill="#fb5229" fill-opacity="0.5"/>
<circle cx="973.0" cy="730.9" r="4.45" fill="#fb5229" fill-opacity="0.5"/>
<circle cx="986.1" cy="706.7" r="4.45" fill="#fb5229" fill-opacity="0.5"/>
<circle cx="1010.7" cy="699.4" r="4.45" fill="#fb5229" fill-opacity="0.5"/>
<circle cx="1011.1" cy="710.1" r="4.45" fill="#fb5229" fill-opacity="0.5"/>
<circle cx="983.5" cy="730.1" r="4.45" fill="#fb5229" fill-opacity="0.5"/>
<circle cx="994.6" cy="723.7" r="4.45" fill="#fb5229" fill-opacity="0.5"/>
<circle cx="1013.9" cy="733.1" r="4.45" fill="#fb5229" fill-opacity="0.5"/>
<circle cx="1006.4" cy="721.4" r="4.45" fill="#fb5229" fill-opacity="0.5"/>
<circle cx="1018.0" cy="695.4" r="4.45" fill="#fb5229" fill-opacity="0.5"/>
<circle cx="1011.8" cy="720.5" r="4.45" fill="#fb5229" fill-opacity="0.5"/>
<circle cx="958.0" cy="692.9" r="4.45" fill="#fb5229" fill-opacity="0.5"/>
<circle cx="1002.2" cy="704.2" r="4.45" fill="#fb5229" fill-opacity="0.5"/>
<circle cx="969.0" cy="717.4" r="4.45" fill="#fb5229" fill-opacity="0.5"/>
<circle cx="978.9" cy="730.3" r="4.45" fill="#fb5229" fill-opacity="0.5"/>
<circle cx="978.1" cy="695.9" r="4.45" fill="#fb5229" fill-opacity="0.5"/>
<circle cx="994.2" cy="726.6" r="4.45" fill="#fb5229" fill-opacity="0.5"/>
<circle cx="993.8" cy="718.3" r="4.45" fill="#fb5229" fill-opacity="0.5"/>
<circle cx="969.6" cy="717.6" r="4.45" fill="#fb5229" fill-opacity="0.5"/>
<circle cx="1009.0" cy="736.6" r="4.45" fill="#fb5229" fill-opacity="0.5"/>
<circle cx="966.4" cy="708.3" r="4.45" fill="#fb5229" fill-opacity="0.5"/>
<circle cx="991.4" cy="715.5" r="4.45" fill="#fb5229" fill-opacity="0.5"/>
<circle cx="1015.1" cy="715.3" r="4.45" fill="#fb5229" fill-opacity="0.5"/>
<circle cx="971.1" cy="702.8" r="4.45" fill="#fb5229" fill-opacity="0.5"/>
<circle cx="993.7" cy="722.8" r="4.45" fill="#fb5229" fill-opacity="0.5"/>
<line x1="949.2" y1="689.2" x2="1021.6" y2="689.2" stroke="#fb5229" stroke-width="9" stroke-linecap="round" stroke-opacity="0.92"/>
<circle cx="1118.2" cy="567.4" r="4.45" fill="#ad0c2d" fill-opacity="0.5"/>
<circle cx="1073.2" cy="606.4" r="4.45" fill="#ad0c2d" fill-opacity="0.5"/>
<circle cx="1132.9" cy="606.4" r="4.45" fill="#ad0c2d" fill-opacity="0.5"/>
<circle cx="1143.5" cy="605.8" r="4.45" fill="#ad0c2d" fill-opacity="0.5"/>
<circle cx="1113.1" cy="620.1" r="4.45" fill="#ad0c2d" fill-opacity="0.5"/>
<circle cx="1129.5" cy="627.1" r="4.45" fill="#ad0c2d" fill-opacity="0.5"/>
<circle cx="1137.4" cy="626.8" r="4.45" fill="#ad0c2d" fill-opacity="0.5"/>
<circle cx="1134.4" cy="632.9" r="4.45" fill="#ad0c2d" fill-opacity="0.5"/>
<circle cx="1098.4" cy="641.4" r="4.45" fill="#ad0c2d" fill-opacity="0.5"/>
<circle cx="1090.8" cy="646.0" r="4.45" fill="#ad0c2d" fill-opacity="0.5"/>
<circle cx="1137.4" cy="646.9" r="4.45" fill="#ad0c2d" fill-opacity="0.5"/>
<circle cx="1141.1" cy="646.0" r="4.45" fill="#ad0c2d" fill-opacity="0.5"/>
<circle cx="1075.0" cy="655.7" r="4.45" fill="#ad0c2d" fill-opacity="0.5"/>
<circle cx="1084.7" cy="652.7" r="4.45" fill="#ad0c2d" fill-opacity="0.5"/>
<circle cx="1081.7" cy="661.2" r="4.45" fill="#ad0c2d" fill-opacity="0.5"/>
<circle cx="1091.7" cy="659.7" r="4.45" fill="#ad0c2d" fill-opacity="0.5"/>
<circle cx="1109.1" cy="658.2" r="4.45" fill="#ad0c2d" fill-opacity="0.5"/>
<circle cx="1113.7" cy="653.6" r="4.45" fill="#ad0c2d" fill-opacity="0.5"/>
<circle cx="1119.8" cy="655.1" r="4.45" fill="#ad0c2d" fill-opacity="0.5"/>
<circle cx="1122.8" cy="658.2" r="4.45" fill="#ad0c2d" fill-opacity="0.5"/>
<circle cx="1139.6" cy="658.2" r="4.45" fill="#ad0c2d" fill-opacity="0.5"/>
<circle cx="1078.6" cy="671.9" r="4.45" fill="#ad0c2d" fill-opacity="0.5"/>
<circle cx="1088.4" cy="673.4" r="4.45" fill="#ad0c2d" fill-opacity="0.5"/>
<circle cx="1080.2" cy="677.4" r="4.45" fill="#ad0c2d" fill-opacity="0.5"/>
<circle cx="1086.3" cy="677.4" r="4.45" fill="#ad0c2d" fill-opacity="0.5"/>
<circle cx="1102.1" cy="676.4" r="4.45" fill="#ad0c2d" fill-opacity="0.5"/>
<circle cx="1107.6" cy="673.4" r="4.45" fill="#ad0c2d" fill-opacity="0.5"/>
<circle cx="1119.8" cy="678.0" r="4.45" fill="#ad0c2d" fill-opacity="0.5"/>
<circle cx="1127.4" cy="668.8" r="4.45" fill="#ad0c2d" fill-opacity="0.5"/>
<circle cx="1125.3" cy="681.6" r="4.45" fill="#ad0c2d" fill-opacity="0.5"/>
<circle cx="1148.7" cy="673.4" r="4.45" fill="#ad0c2d" fill-opacity="0.5"/>
<circle cx="1077.1" cy="688.6" r="4.45" fill="#ad0c2d" fill-opacity="0.5"/>
<circle cx="1086.3" cy="688.6" r="4.45" fill="#ad0c2d" fill-opacity="0.5"/>
<circle cx="1098.4" cy="688.6" r="4.45" fill="#ad0c2d" fill-opacity="0.5"/>
<circle cx="1110.6" cy="688.6" r="4.45" fill="#ad0c2d" fill-opacity="0.5"/>
<circle cx="1122.8" cy="688.6" r="4.45" fill="#ad0c2d" fill-opacity="0.5"/>
<circle cx="1135.0" cy="688.6" r="4.45" fill="#ad0c2d" fill-opacity="0.5"/>
<circle cx="1144.1" cy="688.6" r="4.45" fill="#ad0c2d" fill-opacity="0.5"/>
<circle cx="1150.2" cy="688.6" r="4.45" fill="#ad0c2d" fill-opacity="0.5"/>
<circle cx="1142.6" cy="697.8" r="4.45" fill="#ad0c2d" fill-opacity="0.5"/>
<circle cx="1100.0" cy="700.8" r="4.45" fill="#ad0c2d" fill-opacity="0.5"/>
<circle cx="1097.5" cy="703.9" r="4.45" fill="#ad0c2d" fill-opacity="0.5"/>
<circle cx="1075.6" cy="709.0" r="4.45" fill="#ad0c2d" fill-opacity="0.5"/>
<circle cx="1104.5" cy="710.0" r="4.45" fill="#ad0c2d" fill-opacity="0.5"/>
<circle cx="1119.8" cy="708.4" r="4.45" fill="#ad0c2d" fill-opacity="0.5"/>
<circle cx="1125.9" cy="710.0" r="4.45" fill="#ad0c2d" fill-opacity="0.5"/>
<circle cx="1132.0" cy="708.4" r="4.45" fill="#ad0c2d" fill-opacity="0.5"/>
<circle cx="1136.5" cy="713.0" r="4.45" fill="#ad0c2d" fill-opacity="0.5"/>
<circle cx="1081.7" cy="717.6" r="4.45" fill="#ad0c2d" fill-opacity="0.5"/>
<circle cx="1089.3" cy="719.1" r="4.45" fill="#ad0c2d" fill-opacity="0.5"/>
<circle cx="1096.9" cy="714.5" r="4.45" fill="#ad0c2d" fill-opacity="0.5"/>
<circle cx="1107.6" cy="716.1" r="4.45" fill="#ad0c2d" fill-opacity="0.5"/>
<circle cx="1098.4" cy="720.6" r="4.45" fill="#ad0c2d" fill-opacity="0.5"/>
<circle cx="1139.6" cy="719.1" r="4.45" fill="#ad0c2d" fill-opacity="0.5"/>
<circle cx="1079.5" cy="722.2" r="4.45" fill="#ad0c2d" fill-opacity="0.5"/>
<circle cx="1128.9" cy="724.3" r="4.45" fill="#ad0c2d" fill-opacity="0.5"/>
<circle cx="1092.3" cy="732.2" r="4.45" fill="#ad0c2d" fill-opacity="0.5"/>
<circle cx="1100.0" cy="728.2" r="4.45" fill="#ad0c2d" fill-opacity="0.5"/>
<circle cx="1147.2" cy="731.3" r="4.45" fill="#ad0c2d" fill-opacity="0.5"/>
<circle cx="1080.8" cy="738.9" r="4.45" fill="#ad0c2d" fill-opacity="0.5"/>
<circle cx="1121.3" cy="742.0" r="4.45" fill="#ad0c2d" fill-opacity="0.5"/>
<circle cx="1136.5" cy="744.4" r="4.45" fill="#ad0c2d" fill-opacity="0.5"/>
<circle cx="1091.4" cy="751.1" r="4.45" fill="#ad0c2d" fill-opacity="0.5"/>
<circle cx="1083.2" cy="760.2" r="4.45" fill="#ad0c2d" fill-opacity="0.5"/>
<circle cx="1145.7" cy="766.3" r="4.45" fill="#ad0c2d" fill-opacity="0.5"/>
<circle cx="1094.8" cy="799.8" r="4.45" fill="#ad0c2d" fill-opacity="0.5"/>
<circle cx="1130.4" cy="816.0" r="4.45" fill="#ad0c2d" fill-opacity="0.5"/>
<line x1="1075.2" y1="689.2" x2="1147.6" y2="689.2" stroke="#ad0c2d" stroke-width="9" stroke-linecap="round" stroke-opacity="0.92"/>
<line x1="840.8" y1="686.5" x2="878.8" y2="686.5" stroke="#000" stroke-width="4.3"/>
<line x1="859.8" y1="683.5" x2="859.8" y2="689.5" stroke="#000" stroke-width="1.5"/>
<line x1="966.4" y1="690.7" x2="1004.4" y2="690.7" stroke="#000" stroke-width="4.3"/>
<line x1="985.4" y1="687.7" x2="985.4" y2="693.7" stroke="#000" stroke-width="1.5"/>
<line x1="1092.4" y1="689.2" x2="1130.4" y2="689.2" stroke="#000" stroke-width="4.3"/>
<line x1="1111.4" y1="686.2" x2="1111.4" y2="692.2" stroke="#000" stroke-width="1.5"/>
<line x1="797.1" y1="539.2" x2="797.1" y2="839.7" stroke="#262626" stroke-width="4.2"/>
<line x1="791.1" y1="837.7" x2="1173.2" y2="837.7" stroke="#262626" stroke-width="4.2"/>
<line x1="791.1" y1="837.7" x2="797.1" y2="837.7" stroke="#262626" stroke-width="3.3"/>
<text x="0" y="0" font-size="35" text-anchor="end" font-weight="normal" fill="#262626" transform="translate(784.90,850.30) scale(1,1.06)">-5</text>
<line x1="791.1" y1="689.2" x2="797.1" y2="689.2" stroke="#262626" stroke-width="3.3"/>
<text x="0" y="0" font-size="35" text-anchor="end" font-weight="normal" fill="#262626" transform="translate(784.90,701.80) scale(1,1.06)">0</text>
<line x1="791.1" y1="540.7" x2="797.1" y2="540.7" stroke="#262626" stroke-width="3.3"/>
<text x="0" y="0" font-size="35" text-anchor="end" font-weight="normal" fill="#262626" transform="translate(784.90,553.30) scale(1,1.06)">5</text>
<line x1="859.8" y1="837.7" x2="859.8" y2="844.2" stroke="#262626" stroke-width="3.3"/>
<text x="0" y="0" font-size="29.5" text-anchor="middle" font-weight="normal" fill="#262626" transform="translate(859.80,879.50) scale(1,1.08)">M-L</text>
<line x1="985.4" y1="837.7" x2="985.4" y2="844.2" stroke="#262626" stroke-width="3.3"/>
<text x="0" y="0" font-size="29.5" text-anchor="middle" font-weight="normal" fill="#262626" transform="translate(985.40,879.50) scale(1,1.08)">H-M</text>
<line x1="1111.4" y1="837.7" x2="1111.4" y2="844.2" stroke="#262626" stroke-width="3.3"/>
<text x="0" y="0" font-size="29.5" text-anchor="middle" font-weight="normal" fill="#262626" transform="translate(1113.40,879.50) scale(1,1.08)">H-L</text>
<text x="926.0" y="539.8" font-size="29.2" text-anchor="start" font-weight="normal" fill="#000" >Monkey U</text>
<text x="0" y="0" font-size="29.4" text-anchor="start" font-weight="normal" fill="#262626" transform="translate(816.40,912.00) scale(1,1.07)">Reward mag. comparison</text>
<text x="0" y="0" font-size="30" text-anchor="middle" fill="#262626" transform="translate(738.0,684.9) rotate(-90)">&#916; norm. imps/s</text>
<text x="103.5" y="526.2" font-size="30" text-anchor="start" font-weight="bold" fill="#000" >d</text>
<text x="702.5" y="526.4" font-size="30" text-anchor="start" font-weight="bold" fill="#000" >e</text>
</svg>
</body></html>
